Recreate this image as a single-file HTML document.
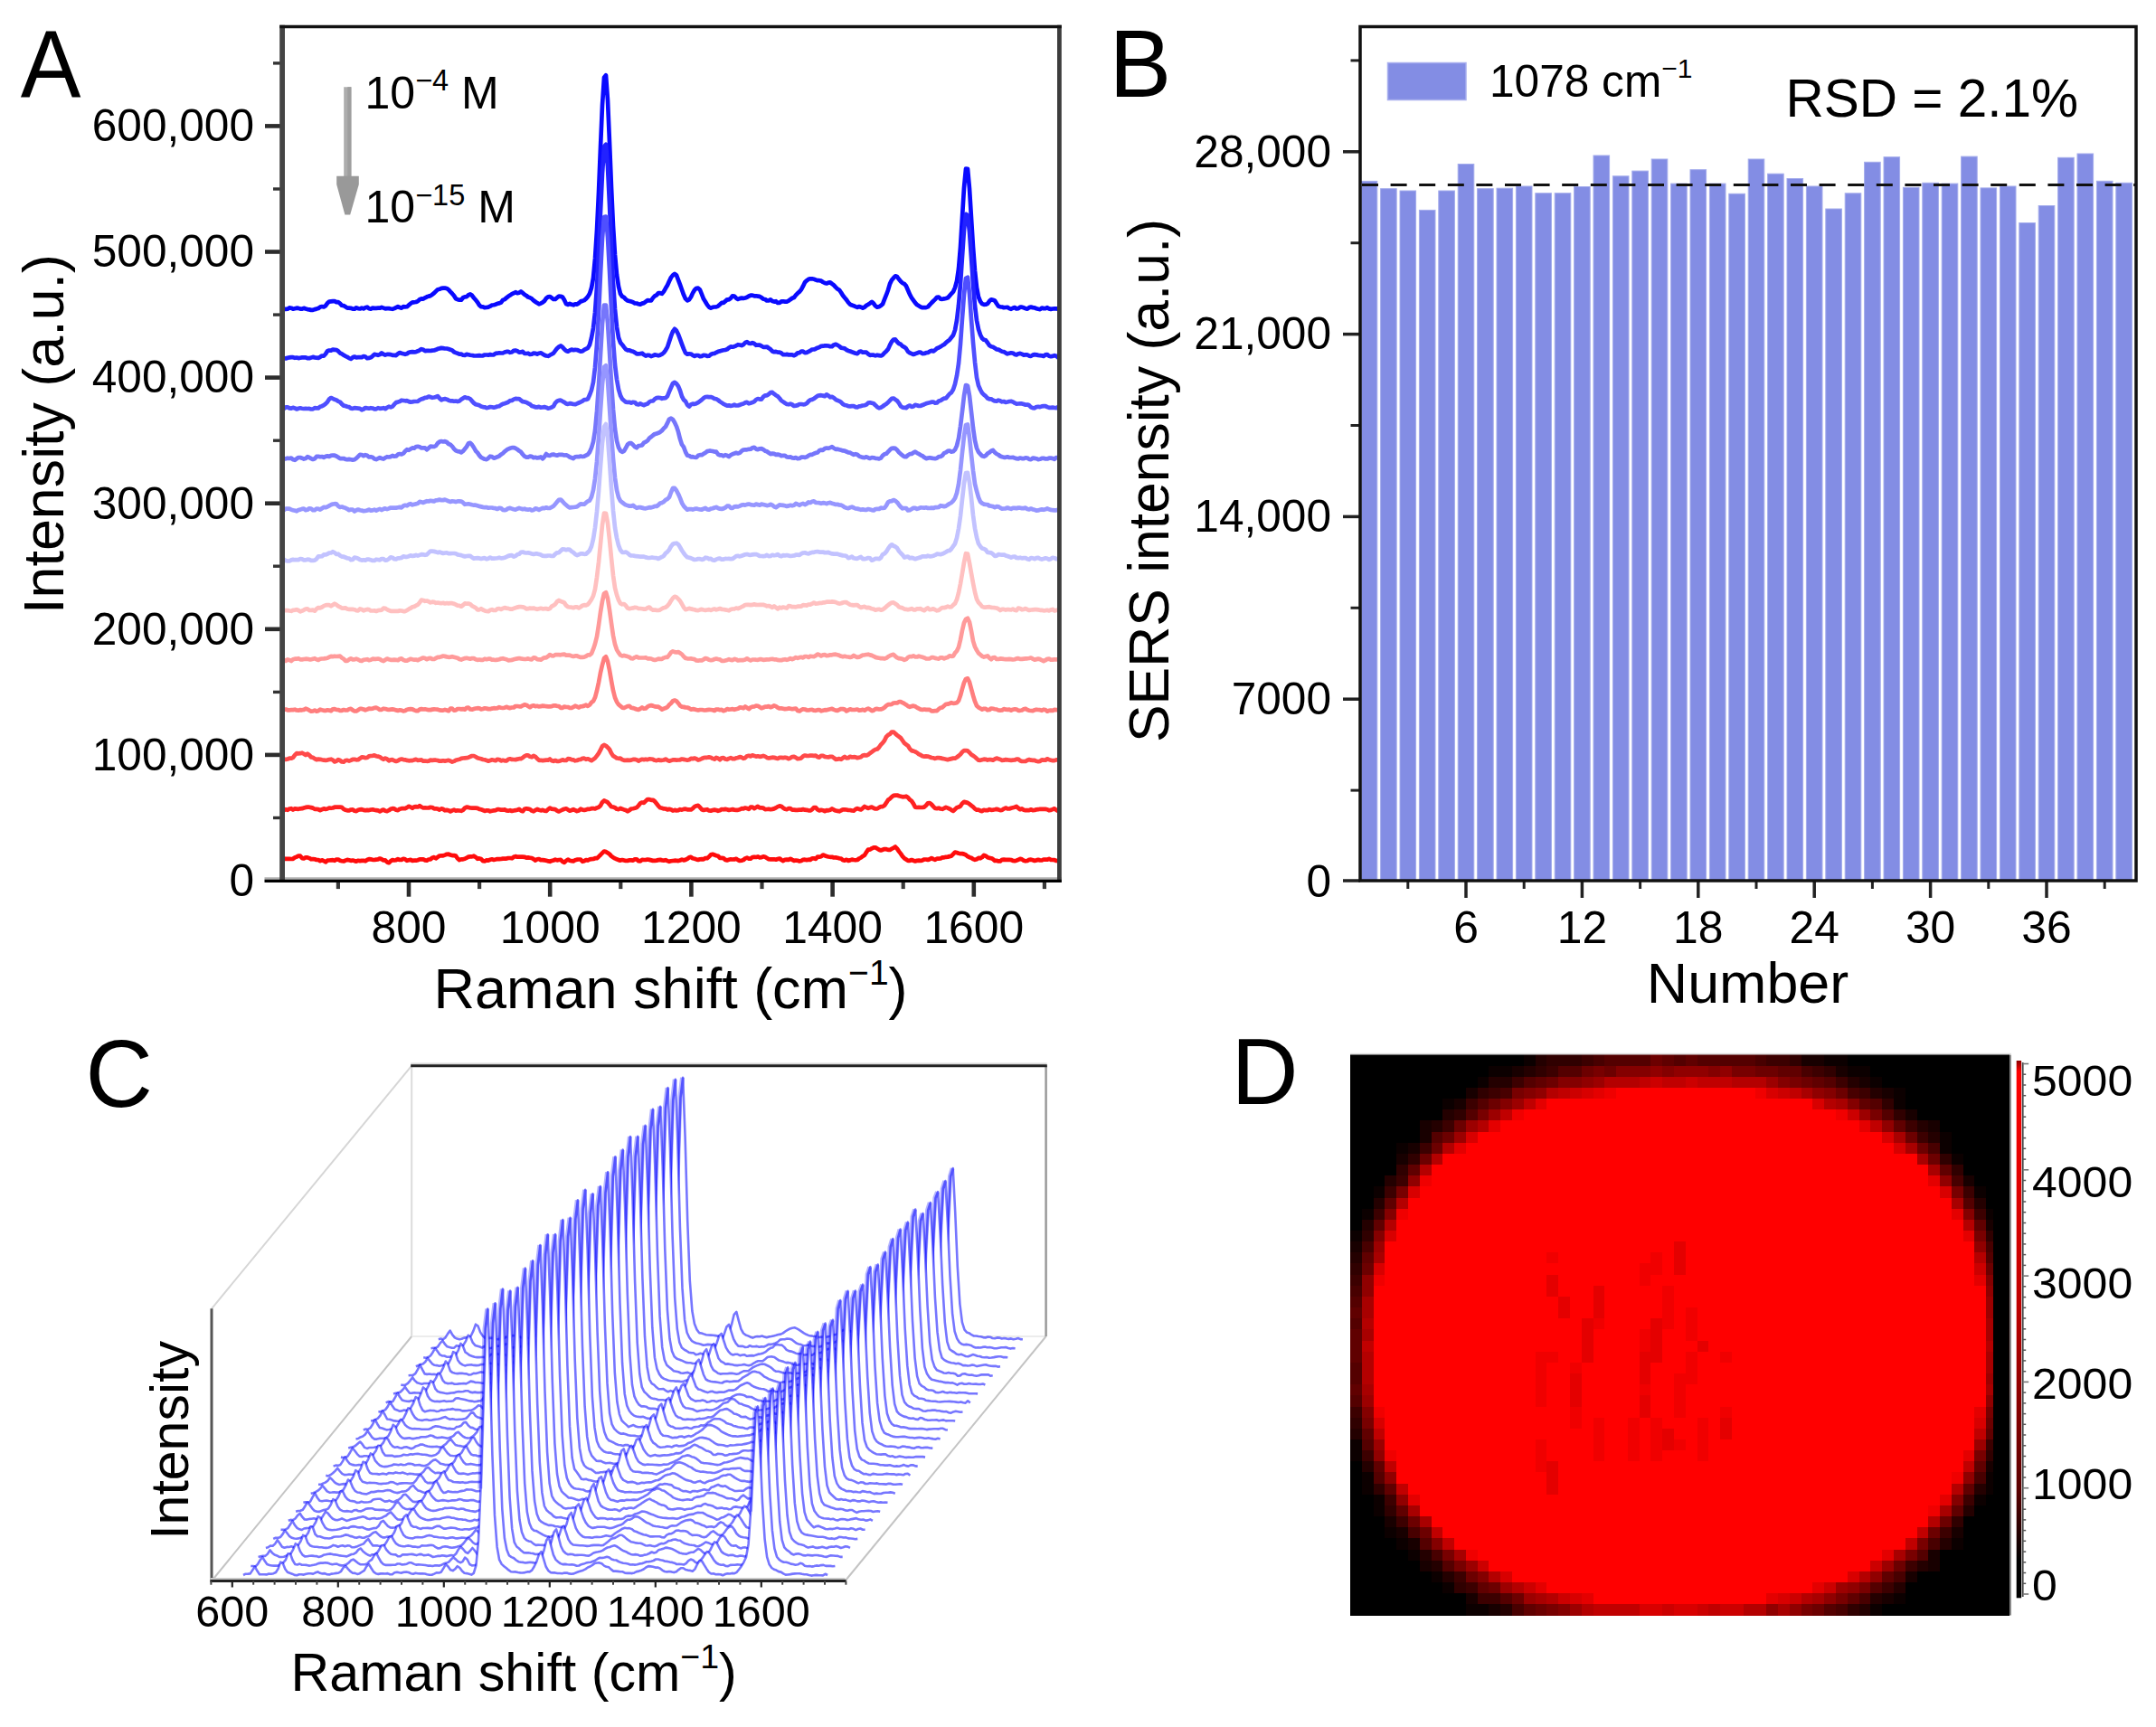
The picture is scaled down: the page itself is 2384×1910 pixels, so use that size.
<!DOCTYPE html>
<html lang="en"><head><meta charset="utf-8"><title>Figure</title>
<style>
html,body{margin:0;padding:0;background:#fff;}
svg{display:block;}
text{font-family:"Liberation Sans", Arial, Helvetica, sans-serif;fill:#000;}
</style></head><body>
<svg width="2384" height="1910" viewBox="0 0 2384 1910">
<rect x="0" y="0" width="2384" height="1910" fill="#fff"/>
<g id="panelA"><text transform="translate(22.8,107.0) scale(1,1.05)" font-size="100">A</text><text transform="translate(281.0,990.8) scale(1,1.0)" font-size="49.6" text-anchor="end">0</text><text transform="translate(281.0,851.7) scale(1,1.0)" font-size="49.6" text-anchor="end">100,000</text><line x1="293.0" y1="834.9" x2="312.0" y2="834.9" stroke="#2c2c2c" stroke-width="4.6" /><text transform="translate(281.0,712.6) scale(1,1.0)" font-size="49.6" text-anchor="end">200,000</text><line x1="293.0" y1="695.8" x2="312.0" y2="695.8" stroke="#2c2c2c" stroke-width="4.6" /><text transform="translate(281.0,573.5) scale(1,1.0)" font-size="49.6" text-anchor="end">300,000</text><line x1="293.0" y1="556.7" x2="312.0" y2="556.7" stroke="#2c2c2c" stroke-width="4.6" /><text transform="translate(281.0,434.4) scale(1,1.0)" font-size="49.6" text-anchor="end">400,000</text><line x1="293.0" y1="417.6" x2="312.0" y2="417.6" stroke="#2c2c2c" stroke-width="4.6" /><text transform="translate(281.0,295.3) scale(1,1.0)" font-size="49.6" text-anchor="end">500,000</text><line x1="293.0" y1="278.5" x2="312.0" y2="278.5" stroke="#2c2c2c" stroke-width="4.6" /><text transform="translate(281.0,156.2) scale(1,1.0)" font-size="49.6" text-anchor="end">600,000</text><line x1="293.0" y1="139.4" x2="312.0" y2="139.4" stroke="#2c2c2c" stroke-width="4.6" /><line x1="302.0" y1="904.5" x2="312.0" y2="904.5" stroke="#333" stroke-width="3.4" /><line x1="302.0" y1="765.4" x2="312.0" y2="765.4" stroke="#333" stroke-width="3.4" /><line x1="302.0" y1="626.2" x2="312.0" y2="626.2" stroke="#333" stroke-width="3.4" /><line x1="302.0" y1="487.2" x2="312.0" y2="487.2" stroke="#333" stroke-width="3.4" /><line x1="302.0" y1="348.1" x2="312.0" y2="348.1" stroke="#333" stroke-width="3.4" /><line x1="302.0" y1="209.0" x2="312.0" y2="209.0" stroke="#333" stroke-width="3.4" /><line x1="302.0" y1="69.9" x2="312.0" y2="69.9" stroke="#333" stroke-width="3.4" /><line x1="373.9" y1="974.5" x2="373.9" y2="983.1" stroke="#3a3a3a" stroke-width="4.2" /><line x1="452.0" y1="974.5" x2="452.0" y2="991.7" stroke="#2c2c2c" stroke-width="4.6" /><text transform="translate(452.0,1042.6) scale(1,1.0)" font-size="49.8" text-anchor="middle">800</text><line x1="530.1" y1="974.5" x2="530.1" y2="983.1" stroke="#3a3a3a" stroke-width="4.2" /><line x1="608.2" y1="974.5" x2="608.2" y2="991.7" stroke="#2c2c2c" stroke-width="4.6" /><text transform="translate(608.2,1042.6) scale(1,1.0)" font-size="49.8" text-anchor="middle">1000</text><line x1="686.3" y1="974.5" x2="686.3" y2="983.1" stroke="#3a3a3a" stroke-width="4.2" /><line x1="764.4" y1="974.5" x2="764.4" y2="991.7" stroke="#2c2c2c" stroke-width="4.6" /><text transform="translate(764.4,1042.6) scale(1,1.0)" font-size="49.8" text-anchor="middle">1200</text><line x1="842.5" y1="974.5" x2="842.5" y2="983.1" stroke="#3a3a3a" stroke-width="4.2" /><line x1="920.6" y1="974.5" x2="920.6" y2="991.7" stroke="#2c2c2c" stroke-width="4.6" /><text transform="translate(920.6,1042.6) scale(1,1.0)" font-size="49.8" text-anchor="middle">1400</text><line x1="998.7" y1="974.5" x2="998.7" y2="983.1" stroke="#3a3a3a" stroke-width="4.2" /><line x1="1076.8" y1="974.5" x2="1076.8" y2="991.7" stroke="#2c2c2c" stroke-width="4.6" /><text transform="translate(1076.8,1042.6) scale(1,1.0)" font-size="49.8" text-anchor="middle">1600</text><line x1="1154.9" y1="974.5" x2="1154.9" y2="983.1" stroke="#3a3a3a" stroke-width="4.2" /><text transform="translate(479.5,1115.0) scale(1,1.0)" font-size="63">Raman shift (cm<tspan dy="-26" font-size="39">−1</tspan><tspan dy="26">)</tspan></text><text transform="translate(69.8,480.0) rotate(-90) scale(1,1.0)" font-size="62.8" text-anchor="middle">Intensity (a.u.)</text><defs><linearGradient id="agr" x1="0" y1="0" x2="0" y2="1"><stop offset="0" stop-color="#b4b4b4"/><stop offset="1" stop-color="#8c8c8c"/></linearGradient></defs><path d="M380.2 96.2H388.4V196H380.2Z" fill="#adadad"/><path d="M384.3 96.2H388.4V196H384.3Z" fill="#9e9e9e"/><path d="M372.2 194.7H396.8V204L387.2 237.5H381.4L372.2 204Z" fill="#999"/><text transform="translate(403.5,119.7) scale(1,1.0)" font-size="50">10<tspan dy="-19.5" font-size="32.5">−4</tspan><tspan dy="19.5"> M</tspan></text><text transform="translate(403.5,246.0) scale(1,1.0)" font-size="50">10<tspan dy="-19.5" font-size="32.5">−15</tspan><tspan dy="19.5"> M</tspan></text><clipPath id="clipA"><rect x="312.0" y="29.5" width="859.5" height="944.0"/></clipPath><g clip-path="url(#clipA)" fill="none" stroke-width="4.7" stroke-linejoin="round" stroke-linecap="butt"><path d="M310.0 341.1L312.0 341.8L314.0 341.9L316.0 341.9L318.0 341.7L320.0 340.4L322.0 340.7L324.0 341.7L326.0 341.2L328.0 340.7L330.0 340.9L332.0 341.6L334.0 341.7L336.0 340.8L338.0 341.5L340.0 342.1L342.0 342.4L344.0 342.9L346.0 342.8L348.0 342.1L350.0 341.6L352.0 341.0L354.0 339.6L356.0 339.0L358.0 339.4L360.0 338.2L362.0 335.3L364.0 333.6L366.0 333.4L368.0 333.2L370.0 333.1L372.0 334.1L374.0 334.2L376.0 335.7L378.0 337.8L380.0 338.1L382.0 339.3L384.0 340.6L386.0 340.6L388.0 340.8L390.0 341.6L392.0 341.7L394.0 340.3L396.0 341.2L398.0 341.5L400.0 340.6L402.0 341.4L404.0 340.3L406.0 339.6L408.0 341.3L410.0 341.7L412.0 340.7L414.0 340.9L416.0 340.8L418.0 340.7L420.0 340.7L422.0 339.9L424.0 340.6L426.0 341.3L428.0 341.1L430.0 341.1L432.0 341.5L434.0 341.8L436.0 341.1L438.0 340.1L440.0 339.1L442.0 340.1L444.0 340.7L446.0 339.2L448.0 339.3L450.0 339.2L452.0 337.4L454.0 335.7L456.0 334.4L458.0 334.3L460.0 334.0L462.0 333.1L464.0 331.2L466.0 330.4L468.0 330.6L470.0 329.3L472.0 328.3L474.0 327.6L476.0 327.1L478.0 325.8L480.0 324.1L482.0 322.1L484.0 320.2L486.0 319.8L488.0 318.9L490.0 318.7L492.0 318.6L494.0 319.0L496.0 320.4L498.0 322.6L500.0 324.7L502.0 327.0L504.0 330.3L506.0 331.2L508.0 331.7L510.0 331.7L512.0 329.2L514.0 328.3L516.0 328.1L518.0 326.2L520.0 325.4L522.0 326.8L524.0 329.5L526.0 331.8L528.0 334.2L530.0 337.4L532.0 339.2L534.0 339.4L536.0 340.2L538.0 340.0L540.0 339.6L542.0 338.7L544.0 337.5L546.0 337.2L548.0 336.7L550.0 335.8L552.0 335.4L554.0 334.6L556.0 331.9L558.0 331.1L560.0 329.4L562.0 327.8L564.0 326.6L566.0 325.1L568.0 324.3L570.0 323.2L572.0 324.2L574.0 323.7L576.0 322.5L578.0 323.9L580.0 325.7L582.0 326.9L584.0 328.6L586.0 329.2L588.0 330.3L590.0 332.3L592.0 333.7L594.0 335.1L596.0 336.3L598.0 335.6L600.0 334.4L602.0 332.8L604.0 329.9L606.0 328.3L608.0 328.0L610.0 329.4L612.0 331.0L614.0 330.9L616.0 329.2L618.0 327.7L620.0 327.8L622.0 328.5L624.0 331.8L626.0 336.0L628.0 336.9L630.0 335.9L632.0 336.8L634.0 337.3L636.0 336.3L638.0 336.6L640.0 335.2L642.0 333.4L644.0 332.9L646.0 332.1L648.0 330.4L650.0 328.1L652.0 324.7L654.0 318.6L656.0 307.4L658.0 286.0L660.0 254.6L662.0 212.9L664.0 163.1L666.0 116.3L668.0 85.8L670.0 83.3L672.0 111.1L674.0 157.5L676.0 207.2L678.0 250.0L680.0 282.0L682.0 303.7L684.0 316.9L686.0 324.9L688.0 327.9L690.0 328.9L692.0 331.1L694.0 332.5L696.0 333.0L698.0 333.6L700.0 334.2L702.0 335.4L704.0 335.5L706.0 336.2L708.0 336.7L710.0 335.6L712.0 335.1L714.0 333.6L716.0 332.1L718.0 332.3L720.0 332.4L722.0 329.5L724.0 327.4L726.0 326.4L728.0 324.2L730.0 324.2L732.0 324.9L734.0 322.4L736.0 318.8L738.0 315.5L740.0 311.0L742.0 306.9L744.0 304.4L746.0 302.9L748.0 304.4L750.0 309.6L752.0 314.9L754.0 320.5L756.0 326.1L758.0 330.4L760.0 332.3L762.0 331.3L764.0 328.5L766.0 324.1L768.0 320.7L770.0 318.8L772.0 318.7L774.0 320.5L776.0 325.5L778.0 330.6L780.0 333.7L782.0 337.1L784.0 339.6L786.0 340.7L788.0 339.8L790.0 339.5L792.0 339.4L794.0 338.6L796.0 336.8L798.0 334.9L800.0 334.8L802.0 333.2L804.0 331.3L806.0 331.3L808.0 329.9L810.0 327.3L812.0 327.5L814.0 329.7L816.0 330.9L818.0 330.1L820.0 329.6L822.0 329.9L824.0 329.5L826.0 328.8L828.0 327.5L830.0 326.7L832.0 326.6L834.0 327.3L836.0 327.3L838.0 327.6L840.0 327.9L842.0 329.1L844.0 330.7L846.0 331.0L848.0 332.5L850.0 332.4L852.0 331.4L854.0 333.0L856.0 333.6L858.0 333.2L860.0 335.0L862.0 334.9L864.0 333.3L866.0 333.3L868.0 333.6L870.0 333.6L872.0 332.7L874.0 331.2L876.0 329.8L878.0 329.0L880.0 326.4L882.0 324.3L884.0 322.6L886.0 320.3L888.0 316.4L890.0 312.2L892.0 310.3L894.0 308.8L896.0 308.3L898.0 308.3L900.0 308.7L902.0 309.6L904.0 310.2L906.0 310.2L908.0 310.6L910.0 312.0L912.0 313.0L914.0 313.5L916.0 312.6L918.0 312.3L920.0 313.9L922.0 315.4L924.0 317.6L926.0 319.5L928.0 320.7L930.0 323.5L932.0 326.8L934.0 329.3L936.0 331.6L938.0 334.5L940.0 336.6L942.0 337.6L944.0 338.2L946.0 339.1L948.0 339.9L950.0 339.0L952.0 339.7L954.0 340.7L956.0 339.6L958.0 337.9L960.0 336.8L962.0 335.4L964.0 333.9L966.0 335.6L968.0 338.4L970.0 339.7L972.0 339.3L974.0 338.1L976.0 336.3L978.0 331.2L980.0 326.2L982.0 320.7L984.0 313.9L986.0 309.8L988.0 307.4L990.0 305.3L992.0 306.0L994.0 308.8L996.0 311.3L998.0 313.1L1000.0 313.9L1002.0 316.3L1004.0 321.0L1006.0 325.7L1008.0 329.3L1010.0 332.1L1012.0 334.9L1014.0 337.1L1016.0 338.3L1018.0 339.5L1020.0 340.2L1022.0 340.1L1024.0 340.1L1026.0 339.4L1028.0 337.2L1030.0 335.0L1032.0 333.0L1034.0 331.1L1036.0 328.8L1038.0 328.5L1040.0 330.7L1042.0 330.8L1044.0 330.4L1046.0 330.0L1048.0 329.3L1050.0 327.1L1052.0 324.8L1054.0 322.7L1056.0 318.1L1058.0 310.8L1060.0 297.2L1062.0 273.1L1064.0 240.5L1066.0 207.5L1068.0 186.7L1070.0 186.8L1072.0 208.6L1074.0 241.1L1076.0 273.1L1078.0 299.5L1080.0 318.0L1082.0 328.5L1084.0 333.4L1086.0 336.1L1088.0 336.8L1090.0 336.7L1092.0 335.9L1094.0 333.1L1096.0 331.3L1098.0 331.8L1100.0 332.5L1102.0 335.8L1104.0 338.8L1106.0 339.3L1108.0 339.5L1110.0 340.2L1112.0 340.0L1114.0 339.8L1116.0 341.1L1118.0 341.8L1120.0 340.7L1122.0 340.0L1124.0 341.5L1126.0 341.1L1128.0 339.7L1130.0 339.7L1132.0 340.3L1134.0 341.2L1136.0 341.6L1138.0 340.1L1140.0 339.6L1142.0 340.1L1144.0 340.4L1146.0 341.2L1148.0 341.8L1150.0 342.1L1152.0 340.6L1154.0 341.1L1156.0 341.1L1158.0 340.2L1160.0 341.4L1162.0 341.9L1164.0 341.5L1166.0 341.3L1168.0 341.4L1170.0 341.8L1172.0 341.7" stroke="#0a0aff"/><path d="M310.0 396.0L312.0 396.5L314.0 396.0L316.0 396.5L318.0 395.7L320.0 395.4L322.0 395.1L324.0 395.2L326.0 395.8L328.0 395.5L330.0 396.1L332.0 395.7L334.0 395.4L336.0 395.4L338.0 395.3L340.0 396.2L342.0 396.2L344.0 395.6L346.0 394.9L348.0 395.4L350.0 395.7L352.0 395.8L354.0 394.8L356.0 393.5L358.0 393.6L360.0 391.5L362.0 388.2L364.0 387.5L366.0 387.6L368.0 386.6L370.0 386.8L372.0 387.1L374.0 388.3L376.0 390.5L378.0 391.4L380.0 392.8L382.0 393.9L384.0 394.8L386.0 396.1L388.0 396.9L390.0 395.3L392.0 394.5L394.0 395.4L396.0 395.2L398.0 395.2L400.0 395.1L402.0 394.0L404.0 394.5L406.0 396.2L408.0 395.9L410.0 395.3L412.0 393.8L414.0 391.9L416.0 392.2L418.0 392.8L420.0 392.1L422.0 390.4L424.0 391.8L426.0 392.6L428.0 391.9L430.0 391.9L432.0 392.1L434.0 392.8L436.0 392.9L438.0 393.1L440.0 391.3L442.0 390.0L444.0 390.7L446.0 391.3L448.0 391.8L450.0 391.2L452.0 389.8L454.0 389.4L456.0 389.1L458.0 389.4L460.0 389.1L462.0 388.3L464.0 387.3L466.0 386.1L468.0 386.8L470.0 388.1L472.0 387.9L474.0 387.8L476.0 388.0L478.0 387.6L480.0 387.5L482.0 386.8L484.0 385.8L486.0 385.4L488.0 384.9L490.0 385.1L492.0 385.5L494.0 385.5L496.0 386.0L498.0 386.7L500.0 387.4L502.0 389.3L504.0 390.1L506.0 390.8L508.0 391.7L510.0 391.6L512.0 392.7L514.0 392.8L516.0 391.8L518.0 392.2L520.0 392.7L522.0 393.0L524.0 393.4L526.0 393.5L528.0 393.3L530.0 393.1L532.0 393.5L534.0 393.3L536.0 392.5L538.0 392.5L540.0 392.7L542.0 392.1L544.0 392.5L546.0 392.3L548.0 390.9L550.0 390.7L552.0 390.3L554.0 390.5L556.0 390.5L558.0 389.5L560.0 388.9L562.0 388.9L564.0 389.8L566.0 389.5L568.0 387.9L570.0 387.6L572.0 388.2L574.0 389.7L576.0 389.4L578.0 388.8L580.0 391.0L582.0 391.0L584.0 390.7L586.0 391.9L588.0 391.7L590.0 390.6L592.0 390.8L594.0 391.6L596.0 390.7L598.0 390.3L600.0 391.5L602.0 392.7L604.0 393.5L606.0 393.8L608.0 392.8L610.0 391.7L612.0 390.6L614.0 387.9L616.0 385.3L618.0 383.6L620.0 382.4L622.0 383.9L624.0 386.2L626.0 388.0L628.0 388.7L630.0 387.5L632.0 386.6L634.0 387.2L636.0 386.9L638.0 387.0L640.0 387.8L642.0 388.7L644.0 388.5L646.0 386.9L648.0 385.9L650.0 384.9L652.0 381.3L654.0 373.7L656.0 362.8L658.0 345.4L660.0 317.4L662.0 278.1L664.0 234.5L666.0 191.9L668.0 162.0L670.0 159.8L672.0 184.6L674.0 226.4L676.0 272.6L678.0 312.7L680.0 341.9L682.0 361.6L684.0 373.4L686.0 378.9L688.0 381.2L690.0 383.9L692.0 386.4L694.0 387.3L696.0 387.4L698.0 388.2L700.0 388.8L702.0 389.9L704.0 391.3L706.0 391.3L708.0 391.1L710.0 390.7L712.0 392.3L714.0 393.6L716.0 392.8L718.0 392.9L720.0 394.1L722.0 393.4L724.0 392.4L726.0 392.8L728.0 393.3L730.0 392.7L732.0 391.7L734.0 390.0L736.0 387.3L738.0 383.9L740.0 377.7L742.0 371.7L744.0 366.6L746.0 363.8L748.0 365.7L750.0 369.7L752.0 375.1L754.0 380.6L756.0 385.9L758.0 390.4L760.0 391.7L762.0 391.4L764.0 391.5L766.0 392.9L768.0 393.9L770.0 393.0L772.0 393.0L774.0 394.2L776.0 393.9L778.0 392.8L780.0 393.0L782.0 393.8L784.0 393.7L786.0 392.0L788.0 391.1L790.0 391.0L792.0 389.8L794.0 388.8L796.0 388.4L798.0 387.7L800.0 387.3L802.0 387.0L804.0 386.3L806.0 384.7L808.0 383.4L810.0 383.7L812.0 383.2L814.0 382.3L816.0 381.2L818.0 381.5L820.0 382.1L822.0 381.1L824.0 379.0L826.0 378.2L828.0 379.7L830.0 380.0L832.0 379.1L834.0 380.0L836.0 381.8L838.0 381.5L840.0 381.6L842.0 382.6L844.0 383.9L846.0 383.9L848.0 383.5L850.0 385.0L852.0 386.3L854.0 388.5L856.0 389.2L858.0 388.9L860.0 389.6L862.0 389.6L864.0 390.5L866.0 392.2L868.0 392.2L870.0 391.9L872.0 392.4L874.0 392.4L876.0 392.4L878.0 393.2L880.0 392.1L882.0 390.4L884.0 390.1L886.0 388.6L888.0 388.7L890.0 390.1L892.0 389.9L894.0 388.9L896.0 387.9L898.0 386.5L900.0 386.5L902.0 385.7L904.0 384.7L906.0 384.1L908.0 382.8L910.0 382.7L912.0 382.4L914.0 382.3L916.0 382.5L918.0 383.2L920.0 383.1L922.0 381.4L924.0 380.8L926.0 381.6L928.0 382.9L930.0 384.6L932.0 385.0L934.0 385.4L936.0 387.0L938.0 387.9L940.0 388.5L942.0 389.3L944.0 390.0L946.0 390.7L948.0 391.1L950.0 389.1L952.0 388.6L954.0 389.7L956.0 389.5L958.0 389.6L960.0 391.5L962.0 392.9L964.0 392.5L966.0 392.7L968.0 393.4L970.0 392.7L972.0 393.1L974.0 393.5L976.0 392.6L978.0 390.2L980.0 388.4L982.0 386.1L984.0 381.6L986.0 377.8L988.0 375.6L990.0 375.4L992.0 378.0L994.0 380.0L996.0 380.8L998.0 382.8L1000.0 383.8L1002.0 385.6L1004.0 388.9L1006.0 390.3L1008.0 391.1L1010.0 392.0L1012.0 391.2L1014.0 390.6L1016.0 389.7L1018.0 389.7L1020.0 391.1L1022.0 391.0L1024.0 390.2L1026.0 390.0L1028.0 388.7L1030.0 387.8L1032.0 388.5L1034.0 387.1L1036.0 385.2L1038.0 384.5L1040.0 383.4L1042.0 382.1L1044.0 380.9L1046.0 379.1L1048.0 377.3L1050.0 375.8L1052.0 373.3L1054.0 370.7L1056.0 365.0L1058.0 354.2L1060.0 337.4L1062.0 314.1L1064.0 283.9L1066.0 254.1L1068.0 236.9L1070.0 238.0L1072.0 256.4L1074.0 284.5L1076.0 314.2L1078.0 337.9L1080.0 354.4L1082.0 364.3L1084.0 370.3L1086.0 374.2L1088.0 375.8L1090.0 376.3L1092.0 379.0L1094.0 382.1L1096.0 383.3L1098.0 383.7L1100.0 384.9L1102.0 386.5L1104.0 386.7L1106.0 387.7L1108.0 388.8L1110.0 389.1L1112.0 390.3L1114.0 391.3L1116.0 390.8L1118.0 390.3L1120.0 390.5L1122.0 391.9L1124.0 392.4L1126.0 391.2L1128.0 390.9L1130.0 391.6L1132.0 392.6L1134.0 392.4L1136.0 392.4L1138.0 393.6L1140.0 393.9L1142.0 392.6L1144.0 392.1L1146.0 392.4L1148.0 392.9L1150.0 393.2L1152.0 393.3L1154.0 394.0L1156.0 392.4L1158.0 392.0L1160.0 393.7L1162.0 394.2L1164.0 393.9L1166.0 393.2L1168.0 393.7L1170.0 395.4L1172.0 395.3" stroke="#2222ff"/><path d="M310.0 451.3L312.0 452.1L314.0 452.0L316.0 450.3L318.0 450.3L320.0 451.4L322.0 451.7L324.0 450.8L326.0 451.4L328.0 452.5L330.0 451.7L332.0 451.3L334.0 451.7L336.0 452.0L338.0 451.9L340.0 452.0L342.0 451.9L344.0 452.5L346.0 452.4L348.0 451.1L350.0 451.3L352.0 451.4L354.0 449.7L356.0 449.2L358.0 448.2L360.0 446.7L362.0 444.6L364.0 441.4L366.0 440.0L368.0 440.9L370.0 441.8L372.0 442.4L374.0 443.9L376.0 444.6L378.0 446.9L380.0 448.6L382.0 449.0L384.0 449.7L386.0 450.1L388.0 451.7L390.0 451.8L392.0 451.2L394.0 451.4L396.0 451.6L398.0 451.9L400.0 453.3L402.0 452.5L404.0 451.0L406.0 451.4L408.0 451.7L410.0 451.2L412.0 451.5L414.0 452.4L416.0 452.3L418.0 451.2L420.0 451.8L422.0 451.7L424.0 451.2L426.0 452.2L428.0 450.8L430.0 449.7L432.0 450.4L434.0 449.6L436.0 447.2L438.0 445.1L440.0 444.6L442.0 444.0L444.0 442.7L446.0 443.0L448.0 443.3L450.0 443.2L452.0 444.1L454.0 444.6L456.0 444.4L458.0 444.0L460.0 444.0L462.0 443.8L464.0 442.3L466.0 441.4L468.0 440.9L470.0 439.9L472.0 439.6L474.0 438.6L476.0 439.1L478.0 439.8L480.0 439.5L482.0 439.0L484.0 438.1L486.0 440.5L488.0 442.4L490.0 441.5L492.0 441.1L494.0 441.7L496.0 442.7L498.0 443.4L500.0 443.4L502.0 443.8L504.0 443.5L506.0 444.1L508.0 443.5L510.0 441.8L512.0 440.5L514.0 439.3L516.0 440.1L518.0 440.2L520.0 441.3L522.0 443.6L524.0 445.8L526.0 447.2L528.0 447.6L530.0 448.3L532.0 449.5L534.0 450.1L536.0 450.3L538.0 451.1L540.0 450.7L542.0 450.0L544.0 450.3L546.0 450.7L548.0 450.2L550.0 449.5L552.0 449.2L554.0 447.9L556.0 446.8L558.0 446.2L560.0 445.5L562.0 444.7L564.0 443.2L566.0 443.0L568.0 441.6L570.0 440.9L572.0 441.1L574.0 441.0L576.0 442.8L578.0 444.2L580.0 444.4L582.0 445.0L584.0 446.1L586.0 447.1L588.0 448.9L590.0 449.5L592.0 450.3L594.0 450.4L596.0 449.9L598.0 450.7L600.0 450.5L602.0 450.1L604.0 450.7L606.0 451.7L608.0 451.2L610.0 450.6L612.0 449.3L614.0 445.6L616.0 443.7L618.0 442.8L620.0 442.7L622.0 443.8L624.0 444.8L626.0 446.4L628.0 446.9L630.0 446.2L632.0 446.4L634.0 447.0L636.0 447.2L638.0 446.4L640.0 445.5L642.0 444.6L644.0 443.7L646.0 442.2L648.0 442.0L650.0 441.3L652.0 436.8L654.0 431.5L656.0 422.8L658.0 406.3L660.0 381.1L662.0 346.0L664.0 303.0L666.0 263.5L668.0 240.1L670.0 239.6L672.0 262.3L674.0 299.2L676.0 340.6L678.0 377.3L680.0 403.1L682.0 419.6L684.0 430.6L686.0 437.4L688.0 441.3L690.0 443.0L692.0 444.6L694.0 444.8L696.0 444.8L698.0 445.6L700.0 444.8L702.0 445.0L704.0 447.0L706.0 447.5L708.0 446.4L710.0 447.3L712.0 448.2L714.0 447.2L716.0 446.6L718.0 444.5L720.0 443.5L722.0 443.5L724.0 441.2L726.0 440.1L728.0 439.8L730.0 440.0L732.0 440.8L734.0 440.3L736.0 440.2L738.0 438.1L740.0 433.2L742.0 428.5L744.0 424.0L746.0 422.8L748.0 424.4L750.0 427.2L752.0 432.0L754.0 438.4L756.0 442.2L758.0 443.8L760.0 447.7L762.0 449.6L764.0 447.4L766.0 446.6L768.0 446.9L770.0 446.2L772.0 445.2L774.0 443.7L776.0 442.1L778.0 440.2L780.0 439.0L782.0 438.9L784.0 439.1L786.0 439.1L788.0 439.7L790.0 440.9L792.0 441.2L794.0 442.4L796.0 444.1L798.0 445.4L800.0 446.7L802.0 447.8L804.0 448.6L806.0 448.4L808.0 448.9L810.0 448.5L812.0 447.7L814.0 448.5L816.0 448.4L818.0 447.9L820.0 447.0L822.0 446.5L824.0 445.4L826.0 444.9L828.0 446.3L830.0 445.7L832.0 445.1L834.0 444.2L836.0 442.0L838.0 441.0L840.0 441.6L842.0 441.6L844.0 438.9L846.0 437.3L848.0 437.3L850.0 436.0L852.0 434.1L854.0 433.9L856.0 435.7L858.0 437.2L860.0 438.3L862.0 440.5L864.0 443.1L866.0 444.4L868.0 445.8L870.0 447.0L872.0 447.3L874.0 446.6L876.0 447.5L878.0 449.0L880.0 448.6L882.0 448.1L884.0 447.0L886.0 447.0L888.0 447.3L890.0 447.1L892.0 446.2L894.0 443.9L896.0 442.2L898.0 441.9L900.0 440.9L902.0 439.3L904.0 437.8L906.0 437.4L908.0 437.2L910.0 437.6L912.0 438.1L914.0 436.4L916.0 437.5L918.0 439.3L920.0 438.9L922.0 440.0L924.0 441.8L926.0 442.8L928.0 443.6L930.0 444.8L932.0 446.9L934.0 448.0L936.0 448.3L938.0 449.2L940.0 449.3L942.0 449.1L944.0 449.1L946.0 450.1L948.0 450.3L950.0 449.4L952.0 449.1L954.0 448.5L956.0 448.2L958.0 447.6L960.0 445.6L962.0 445.3L964.0 445.8L966.0 446.3L968.0 448.2L970.0 450.2L972.0 451.3L974.0 450.7L976.0 449.5L978.0 448.0L980.0 446.8L982.0 445.0L984.0 442.9L986.0 440.8L988.0 440.5L990.0 441.9L992.0 443.3L994.0 445.9L996.0 449.3L998.0 450.6L1000.0 450.8L1002.0 451.1L1004.0 449.4L1006.0 448.5L1008.0 449.9L1010.0 449.5L1012.0 447.8L1014.0 448.2L1016.0 449.0L1018.0 448.8L1020.0 448.0L1022.0 447.2L1024.0 446.3L1026.0 445.7L1028.0 445.3L1030.0 444.7L1032.0 444.5L1034.0 445.6L1036.0 445.4L1038.0 443.6L1040.0 443.0L1042.0 441.7L1044.0 440.7L1046.0 440.5L1048.0 438.1L1050.0 435.6L1052.0 434.1L1054.0 430.7L1056.0 424.7L1058.0 415.6L1060.0 402.2L1062.0 380.6L1064.0 352.2L1066.0 325.6L1068.0 307.8L1070.0 306.7L1072.0 324.7L1074.0 352.8L1076.0 378.7L1078.0 400.4L1080.0 417.4L1082.0 426.4L1084.0 431.0L1086.0 434.7L1088.0 436.7L1090.0 438.2L1092.0 440.5L1094.0 441.3L1096.0 441.3L1098.0 442.6L1100.0 443.5L1102.0 443.7L1104.0 442.7L1106.0 443.3L1108.0 444.3L1110.0 444.0L1112.0 444.9L1114.0 444.5L1116.0 444.0L1118.0 443.8L1120.0 444.4L1122.0 445.7L1124.0 446.6L1126.0 446.5L1128.0 446.4L1130.0 446.4L1132.0 447.0L1134.0 447.7L1136.0 447.5L1138.0 448.3L1140.0 450.3L1142.0 451.2L1144.0 451.4L1146.0 450.0L1148.0 449.8L1150.0 450.1L1152.0 449.4L1154.0 449.2L1156.0 449.1L1158.0 450.1L1160.0 450.8L1162.0 450.8L1164.0 450.6L1166.0 451.0L1168.0 451.2L1170.0 450.0L1172.0 451.0" stroke="#4f4fff"/><path d="M310.0 506.6L312.0 506.6L314.0 507.4L316.0 507.3L318.0 506.7L320.0 507.0L322.0 506.5L324.0 508.3L326.0 508.8L328.0 507.3L330.0 506.0L332.0 506.0L334.0 506.7L336.0 507.6L338.0 507.0L340.0 505.2L342.0 506.0L344.0 507.1L346.0 508.0L348.0 507.3L350.0 504.9L352.0 504.8L354.0 505.3L356.0 505.0L358.0 505.8L360.0 504.8L362.0 504.4L364.0 504.9L366.0 503.9L368.0 503.5L370.0 503.7L372.0 504.5L374.0 505.7L376.0 507.1L378.0 507.1L380.0 507.0L382.0 507.9L384.0 508.3L386.0 507.9L388.0 508.2L390.0 508.6L392.0 508.2L394.0 506.9L396.0 504.9L398.0 502.9L400.0 503.0L402.0 504.2L404.0 503.2L406.0 503.8L408.0 505.5L410.0 505.2L412.0 505.7L414.0 507.5L416.0 508.1L418.0 507.2L420.0 506.2L422.0 507.0L424.0 507.6L426.0 506.3L428.0 505.2L430.0 505.5L432.0 505.1L434.0 503.9L436.0 504.7L438.0 504.5L440.0 502.6L442.0 502.0L444.0 502.5L446.0 501.5L448.0 499.0L450.0 497.2L452.0 497.9L454.0 496.6L456.0 495.4L458.0 495.7L460.0 494.0L462.0 493.8L464.0 494.3L466.0 495.5L468.0 495.4L470.0 495.4L472.0 497.4L474.0 495.5L476.0 493.7L478.0 493.8L480.0 494.0L482.0 493.0L484.0 490.2L486.0 488.6L488.0 488.0L490.0 488.5L492.0 488.1L494.0 489.0L496.0 491.0L498.0 491.7L500.0 493.6L502.0 496.3L504.0 498.3L506.0 499.1L508.0 499.4L510.0 500.4L512.0 498.9L514.0 496.5L516.0 494.0L518.0 490.4L520.0 489.9L522.0 491.9L524.0 495.0L526.0 498.7L528.0 500.6L530.0 503.6L532.0 505.9L534.0 506.8L536.0 507.8L538.0 508.1L540.0 506.7L542.0 504.7L544.0 505.1L546.0 506.6L548.0 506.1L550.0 505.3L552.0 504.3L554.0 502.7L556.0 501.4L558.0 499.3L560.0 497.8L562.0 496.6L564.0 495.8L566.0 495.1L568.0 495.0L570.0 495.7L572.0 496.9L574.0 498.6L576.0 499.8L578.0 502.5L580.0 504.7L582.0 505.6L584.0 505.6L586.0 504.7L588.0 504.9L590.0 506.2L592.0 505.8L594.0 506.4L596.0 506.2L598.0 505.4L600.0 507.4L602.0 505.1L604.0 502.1L606.0 503.6L608.0 503.8L610.0 502.9L612.0 502.6L614.0 503.2L616.0 503.7L618.0 502.9L620.0 502.8L622.0 502.9L624.0 503.5L626.0 503.3L628.0 504.1L630.0 505.5L632.0 506.3L634.0 507.1L636.0 505.3L638.0 505.0L640.0 505.2L642.0 504.5L644.0 505.0L646.0 504.7L648.0 503.7L650.0 502.7L652.0 500.0L654.0 495.4L656.0 488.6L658.0 476.2L660.0 455.0L662.0 426.0L664.0 392.0L666.0 358.4L668.0 337.5L670.0 337.7L672.0 357.3L674.0 389.0L676.0 423.2L678.0 452.7L680.0 474.1L682.0 487.7L684.0 494.9L686.0 498.5L688.0 499.8L690.0 498.9L692.0 495.3L694.0 491.6L696.0 490.0L698.0 490.1L700.0 492.0L702.0 494.2L704.0 495.3L706.0 493.0L708.0 492.8L710.0 492.4L712.0 489.6L714.0 488.7L716.0 487.4L718.0 484.7L720.0 483.1L722.0 481.5L724.0 480.0L726.0 479.6L728.0 478.8L730.0 477.8L732.0 476.1L734.0 473.8L736.0 471.9L738.0 467.9L740.0 463.6L742.0 462.7L744.0 464.0L746.0 467.2L748.0 471.6L750.0 477.6L752.0 485.6L754.0 491.7L756.0 494.4L758.0 499.8L760.0 503.6L762.0 504.0L764.0 505.4L766.0 505.2L768.0 505.7L770.0 506.0L772.0 503.8L774.0 503.2L776.0 503.2L778.0 501.9L780.0 500.8L782.0 499.1L784.0 498.7L786.0 498.7L788.0 499.0L790.0 499.6L792.0 499.7L794.0 502.5L796.0 503.4L798.0 503.4L800.0 504.3L802.0 503.2L804.0 503.7L806.0 505.1L808.0 503.3L810.0 502.2L812.0 501.6L814.0 500.8L816.0 501.4L818.0 500.8L820.0 498.8L822.0 497.5L824.0 497.4L826.0 497.3L828.0 496.8L830.0 496.7L832.0 495.3L834.0 494.8L836.0 496.6L838.0 497.1L840.0 496.3L842.0 496.2L844.0 497.2L846.0 498.7L848.0 499.3L850.0 500.7L852.0 502.2L854.0 501.6L856.0 501.9L858.0 502.9L860.0 502.6L862.0 503.0L864.0 504.2L866.0 503.8L868.0 503.8L870.0 505.5L872.0 505.7L874.0 505.4L876.0 506.4L878.0 506.6L880.0 506.1L882.0 507.2L884.0 507.0L886.0 505.7L888.0 505.5L890.0 505.9L892.0 505.3L894.0 503.8L896.0 502.9L898.0 502.8L900.0 501.7L902.0 500.9L904.0 500.5L906.0 498.2L908.0 497.6L910.0 497.8L912.0 496.1L914.0 495.5L916.0 495.8L918.0 495.1L920.0 494.2L922.0 495.6L924.0 496.9L926.0 496.6L928.0 497.3L930.0 497.8L932.0 498.4L934.0 498.6L936.0 499.5L938.0 500.4L940.0 500.6L942.0 501.9L944.0 502.8L946.0 502.2L948.0 502.8L950.0 504.6L952.0 505.3L954.0 505.9L956.0 506.1L958.0 505.3L960.0 506.2L962.0 507.0L964.0 506.0L966.0 506.3L968.0 506.8L970.0 507.0L972.0 507.4L974.0 506.6L976.0 503.9L978.0 502.3L980.0 501.8L982.0 499.7L984.0 497.6L986.0 495.8L988.0 495.6L990.0 495.9L992.0 497.8L994.0 500.3L996.0 502.1L998.0 503.7L1000.0 505.1L1002.0 505.1L1004.0 503.4L1006.0 502.1L1008.0 502.0L1010.0 500.6L1012.0 499.6L1014.0 500.9L1016.0 502.1L1018.0 503.3L1020.0 504.2L1022.0 505.8L1024.0 507.1L1026.0 506.6L1028.0 506.2L1030.0 506.6L1032.0 507.0L1034.0 507.1L1036.0 506.7L1038.0 505.2L1040.0 505.0L1042.0 503.7L1044.0 501.1L1046.0 500.4L1048.0 498.9L1050.0 498.5L1052.0 499.6L1054.0 499.3L1056.0 497.4L1058.0 492.9L1060.0 484.8L1062.0 471.3L1064.0 455.1L1066.0 437.7L1068.0 426.0L1070.0 426.8L1072.0 437.6L1074.0 455.3L1076.0 473.2L1078.0 487.0L1080.0 495.6L1082.0 500.0L1084.0 502.3L1086.0 504.2L1088.0 504.9L1090.0 503.9L1092.0 501.6L1094.0 500.4L1096.0 498.7L1098.0 497.9L1100.0 500.4L1102.0 502.0L1104.0 503.0L1106.0 504.5L1108.0 505.3L1110.0 505.8L1112.0 505.8L1114.0 505.3L1116.0 506.0L1118.0 506.0L1120.0 505.8L1122.0 506.6L1124.0 507.2L1126.0 507.4L1128.0 506.5L1130.0 507.1L1132.0 507.2L1134.0 506.3L1136.0 506.5L1138.0 507.9L1140.0 508.1L1142.0 506.6L1144.0 506.9L1146.0 507.2L1148.0 508.1L1150.0 507.8L1152.0 506.9L1154.0 506.8L1156.0 507.4L1158.0 507.5L1160.0 506.7L1162.0 506.6L1164.0 507.0L1166.0 507.8L1168.0 506.0L1170.0 506.1L1172.0 507.8" stroke="#7676fb"/><path d="M310.0 563.2L312.0 565.1L314.0 564.1L316.0 562.5L318.0 562.7L320.0 562.7L322.0 563.6L324.0 564.3L326.0 564.6L328.0 565.3L330.0 564.0L332.0 563.6L334.0 562.9L336.0 562.5L338.0 564.1L340.0 563.7L342.0 562.3L344.0 562.5L346.0 564.1L348.0 564.1L350.0 562.5L352.0 562.8L354.0 563.6L356.0 562.2L358.0 560.9L360.0 561.2L362.0 560.5L364.0 559.4L366.0 558.3L368.0 557.5L370.0 557.2L372.0 557.4L374.0 559.7L376.0 560.9L378.0 560.5L380.0 561.3L382.0 561.8L384.0 562.8L386.0 564.2L388.0 563.6L390.0 563.7L392.0 565.5L394.0 564.3L396.0 563.5L398.0 564.3L400.0 564.6L402.0 565.2L404.0 565.0L406.0 564.5L408.0 563.6L410.0 564.6L412.0 564.4L414.0 563.7L416.0 564.6L418.0 563.6L420.0 562.9L422.0 564.1L424.0 562.9L426.0 562.4L428.0 563.1L430.0 562.4L432.0 561.5L434.0 561.7L436.0 561.7L438.0 561.6L440.0 561.2L442.0 560.9L444.0 561.4L446.0 559.5L448.0 558.8L450.0 559.3L452.0 557.8L454.0 557.2L456.0 558.4L458.0 557.7L460.0 557.4L462.0 556.7L464.0 554.9L466.0 555.3L468.0 555.9L470.0 555.0L472.0 554.2L474.0 554.5L476.0 553.8L478.0 554.1L480.0 554.4L482.0 553.3L484.0 553.1L486.0 552.6L488.0 553.2L490.0 553.1L492.0 552.6L494.0 553.4L496.0 554.3L498.0 554.9L500.0 554.3L502.0 554.5L504.0 555.1L506.0 554.4L508.0 554.4L510.0 554.6L512.0 555.8L514.0 557.8L516.0 557.5L518.0 557.3L520.0 557.7L522.0 558.3L524.0 558.7L526.0 558.7L528.0 559.3L530.0 559.9L532.0 560.4L534.0 560.9L536.0 561.2L538.0 561.1L540.0 561.7L542.0 561.5L544.0 561.5L546.0 562.0L548.0 562.2L550.0 563.0L552.0 561.9L554.0 562.0L556.0 563.9L558.0 564.2L560.0 563.7L562.0 562.2L564.0 561.9L566.0 562.6L568.0 563.3L570.0 563.6L572.0 562.7L574.0 561.9L576.0 562.6L578.0 563.2L580.0 562.7L582.0 563.5L584.0 563.7L586.0 563.3L588.0 564.5L590.0 564.0L592.0 562.4L594.0 562.9L596.0 563.9L598.0 562.8L600.0 561.9L602.0 562.1L604.0 561.3L606.0 562.0L608.0 561.9L610.0 560.9L612.0 559.8L614.0 557.5L616.0 555.1L618.0 552.8L620.0 552.5L622.0 554.5L624.0 556.8L626.0 558.5L628.0 560.2L630.0 561.4L632.0 561.1L634.0 561.0L636.0 560.7L638.0 560.4L640.0 558.9L642.0 557.3L644.0 557.6L646.0 557.7L648.0 555.9L650.0 554.4L652.0 553.5L654.0 549.6L656.0 542.2L658.0 529.3L660.0 510.3L662.0 483.8L664.0 453.6L666.0 425.1L668.0 406.1L670.0 404.3L672.0 421.2L674.0 450.8L676.0 481.0L678.0 507.2L680.0 528.3L682.0 542.2L684.0 550.0L686.0 554.0L688.0 555.6L690.0 557.2L692.0 558.4L694.0 559.1L696.0 559.7L698.0 559.7L700.0 558.9L702.0 560.6L704.0 561.8L706.0 561.2L708.0 561.1L710.0 561.6L712.0 562.1L714.0 562.3L716.0 561.8L718.0 561.1L720.0 561.3L722.0 560.7L724.0 559.9L726.0 560.0L728.0 558.5L730.0 556.5L732.0 556.1L734.0 554.9L736.0 552.9L738.0 551.9L740.0 549.8L742.0 544.5L744.0 539.9L746.0 539.8L748.0 542.5L750.0 546.3L752.0 550.9L754.0 556.2L756.0 559.6L758.0 561.8L760.0 563.7L762.0 563.1L764.0 563.0L766.0 563.6L768.0 562.9L770.0 562.5L772.0 563.0L774.0 563.4L776.0 563.7L778.0 562.7L780.0 561.9L782.0 563.4L784.0 563.7L786.0 562.6L788.0 562.3L790.0 561.5L792.0 560.9L794.0 562.0L796.0 562.7L798.0 562.9L800.0 562.4L802.0 561.4L804.0 559.7L806.0 559.5L808.0 561.8L810.0 561.8L812.0 560.3L814.0 560.2L816.0 560.4L818.0 559.6L820.0 558.6L822.0 558.2L824.0 558.6L826.0 557.9L828.0 557.5L830.0 558.1L832.0 558.5L834.0 558.7L836.0 557.6L838.0 558.1L840.0 558.7L842.0 557.6L844.0 558.0L846.0 558.5L848.0 559.1L850.0 558.8L852.0 557.8L854.0 558.6L856.0 560.3L858.0 561.2L860.0 559.8L862.0 558.3L864.0 558.7L866.0 558.9L868.0 559.3L870.0 559.9L872.0 559.4L874.0 558.8L876.0 559.3L878.0 558.8L880.0 556.9L882.0 557.7L884.0 558.8L886.0 557.6L888.0 556.9L890.0 558.1L892.0 557.1L894.0 555.4L896.0 556.0L898.0 554.8L900.0 554.3L902.0 555.9L904.0 556.0L906.0 556.2L908.0 556.8L910.0 556.2L912.0 556.4L914.0 557.1L916.0 556.2L918.0 555.9L920.0 556.7L922.0 557.3L924.0 557.9L926.0 557.8L928.0 558.5L930.0 558.7L932.0 559.6L934.0 561.1L936.0 561.7L938.0 562.1L940.0 561.3L942.0 560.6L944.0 561.5L946.0 562.5L948.0 562.6L950.0 563.1L952.0 563.8L954.0 563.4L956.0 563.8L958.0 563.9L960.0 563.0L962.0 563.5L964.0 564.1L966.0 564.5L968.0 563.0L970.0 562.9L972.0 563.0L974.0 561.6L976.0 562.0L978.0 561.7L980.0 559.1L982.0 555.3L984.0 554.3L986.0 554.1L988.0 553.0L990.0 553.9L992.0 555.5L994.0 558.2L996.0 560.7L998.0 562.3L1000.0 562.0L1002.0 562.0L1004.0 564.5L1006.0 564.1L1008.0 563.0L1010.0 561.8L1012.0 561.8L1014.0 562.8L1016.0 562.2L1018.0 561.3L1020.0 561.5L1022.0 561.7L1024.0 561.3L1026.0 561.9L1028.0 562.0L1030.0 561.6L1032.0 562.0L1034.0 561.1L1036.0 561.1L1038.0 560.9L1040.0 559.2L1042.0 559.6L1044.0 560.1L1046.0 559.6L1048.0 558.3L1050.0 557.0L1052.0 556.0L1054.0 553.9L1056.0 551.0L1058.0 545.2L1060.0 535.5L1062.0 520.1L1064.0 500.5L1066.0 482.6L1068.0 470.0L1070.0 469.5L1072.0 483.8L1074.0 502.7L1076.0 520.6L1078.0 535.1L1080.0 543.2L1082.0 550.2L1084.0 554.9L1086.0 556.6L1088.0 557.6L1090.0 557.9L1092.0 558.0L1094.0 559.5L1096.0 559.7L1098.0 560.1L1100.0 561.1L1102.0 560.2L1104.0 560.3L1106.0 561.6L1108.0 562.6L1110.0 562.5L1112.0 562.3L1114.0 561.5L1116.0 562.3L1118.0 562.8L1120.0 561.9L1122.0 561.9L1124.0 562.1L1126.0 561.6L1128.0 561.7L1130.0 562.1L1132.0 562.1L1134.0 561.6L1136.0 563.0L1138.0 563.4L1140.0 562.5L1142.0 563.4L1144.0 563.8L1146.0 564.7L1148.0 564.4L1150.0 563.8L1152.0 563.4L1154.0 563.8L1156.0 563.3L1158.0 562.4L1160.0 563.3L1162.0 563.9L1164.0 564.2L1166.0 564.4L1168.0 564.3L1170.0 563.7L1172.0 563.5" stroke="#9696ff"/><path d="M310.0 617.7L312.0 617.5L314.0 618.7L316.0 619.9L318.0 620.5L320.0 620.5L322.0 619.4L324.0 618.9L326.0 619.2L328.0 619.1L330.0 619.1L332.0 618.0L334.0 618.4L336.0 619.4L338.0 619.4L340.0 618.7L342.0 618.8L344.0 619.8L346.0 619.8L348.0 619.6L350.0 618.2L352.0 615.3L354.0 615.3L356.0 615.2L358.0 613.4L360.0 613.5L362.0 612.8L364.0 611.5L366.0 611.4L368.0 610.2L370.0 611.3L372.0 613.0L374.0 612.7L376.0 614.4L378.0 615.6L380.0 615.7L382.0 616.5L384.0 617.4L386.0 617.5L388.0 619.1L390.0 618.9L392.0 616.6L394.0 617.0L396.0 617.7L398.0 619.0L400.0 619.6L402.0 619.3L404.0 619.6L406.0 618.6L408.0 618.7L410.0 619.3L412.0 619.9L414.0 619.9L416.0 618.7L418.0 619.0L420.0 619.4L422.0 618.0L424.0 618.2L426.0 619.7L428.0 619.4L430.0 618.1L432.0 616.4L434.0 616.8L436.0 618.2L438.0 618.4L440.0 617.3L442.0 617.3L444.0 616.9L446.0 615.3L448.0 615.8L450.0 615.9L452.0 615.2L454.0 614.3L456.0 614.9L458.0 614.7L460.0 613.9L462.0 614.6L464.0 613.9L466.0 613.2L468.0 613.4L470.0 613.8L472.0 613.4L474.0 611.4L476.0 609.5L478.0 609.7L480.0 609.9L482.0 610.4L484.0 611.1L486.0 610.6L488.0 611.2L490.0 612.0L492.0 611.5L494.0 611.3L496.0 612.2L498.0 612.1L500.0 612.0L502.0 612.0L504.0 612.3L506.0 613.4L508.0 613.7L510.0 614.1L512.0 614.9L514.0 615.4L516.0 615.0L518.0 614.8L520.0 614.9L522.0 616.5L524.0 617.7L526.0 617.3L528.0 617.2L530.0 617.4L532.0 618.0L534.0 617.4L536.0 617.2L538.0 618.3L540.0 617.7L542.0 616.5L544.0 617.6L546.0 617.6L548.0 617.5L550.0 617.2L552.0 616.7L554.0 617.4L556.0 617.1L558.0 616.7L560.0 615.9L562.0 614.9L564.0 614.4L566.0 614.2L568.0 615.7L570.0 614.8L572.0 613.3L574.0 612.8L576.0 610.8L578.0 610.5L580.0 611.2L582.0 611.5L584.0 611.4L586.0 611.8L588.0 612.4L590.0 613.0L592.0 612.4L594.0 612.4L596.0 613.0L598.0 613.6L600.0 614.6L602.0 614.9L604.0 614.9L606.0 614.5L608.0 614.5L610.0 615.0L612.0 614.9L614.0 612.7L616.0 611.3L618.0 611.2L620.0 609.1L622.0 607.4L624.0 607.5L626.0 608.2L628.0 607.6L630.0 607.9L632.0 609.8L634.0 611.0L636.0 612.9L638.0 614.1L640.0 613.3L642.0 612.4L644.0 612.4L646.0 612.8L648.0 612.6L650.0 610.9L652.0 608.8L654.0 604.3L656.0 596.1L658.0 583.5L660.0 565.8L662.0 543.2L664.0 515.6L666.0 489.9L668.0 472.0L670.0 469.1L672.0 484.3L674.0 510.5L676.0 539.5L678.0 564.8L680.0 583.5L682.0 595.0L684.0 603.2L686.0 608.3L688.0 610.8L690.0 611.0L692.0 610.5L694.0 611.7L696.0 613.7L698.0 614.5L700.0 614.5L702.0 614.9L704.0 615.2L706.0 615.3L708.0 615.7L710.0 615.7L712.0 615.6L714.0 616.4L716.0 616.8L718.0 617.0L720.0 616.7L722.0 616.7L724.0 617.0L726.0 617.1L728.0 618.0L730.0 616.9L732.0 615.9L734.0 614.7L736.0 611.8L738.0 610.3L740.0 607.9L742.0 604.2L744.0 601.8L746.0 601.0L748.0 600.7L750.0 602.1L752.0 605.3L754.0 608.7L756.0 611.8L758.0 614.4L760.0 616.3L762.0 616.7L764.0 617.3L766.0 618.2L768.0 619.0L770.0 618.7L772.0 618.0L774.0 618.2L776.0 618.9L778.0 618.4L780.0 616.7L782.0 617.1L784.0 618.3L786.0 617.9L788.0 619.5L790.0 619.7L792.0 618.6L794.0 617.9L796.0 617.6L798.0 618.7L800.0 618.6L802.0 617.9L804.0 618.0L806.0 617.9L808.0 618.2L810.0 618.0L812.0 616.6L814.0 615.1L816.0 614.8L818.0 615.4L820.0 614.7L822.0 614.0L824.0 613.3L826.0 613.0L828.0 613.6L830.0 613.8L832.0 613.4L834.0 613.2L836.0 613.1L838.0 613.7L840.0 615.0L842.0 615.0L844.0 615.1L846.0 614.9L848.0 613.9L850.0 615.1L852.0 615.0L854.0 613.8L856.0 614.3L858.0 614.0L860.0 613.1L862.0 614.7L864.0 615.2L866.0 614.2L868.0 614.4L870.0 614.0L872.0 614.4L874.0 615.0L876.0 614.7L878.0 614.5L880.0 613.7L882.0 613.7L884.0 613.9L886.0 612.4L888.0 611.5L890.0 611.3L892.0 612.0L894.0 612.4L896.0 611.5L898.0 610.9L900.0 610.8L902.0 610.3L904.0 610.0L906.0 610.6L908.0 610.7L910.0 610.6L912.0 611.1L914.0 611.1L916.0 610.9L918.0 611.8L920.0 612.4L922.0 612.6L924.0 612.5L926.0 612.7L928.0 613.4L930.0 613.9L932.0 614.4L934.0 614.5L936.0 615.0L938.0 617.1L940.0 616.7L942.0 615.7L944.0 617.3L946.0 617.7L948.0 617.8L950.0 616.7L952.0 616.0L954.0 618.2L956.0 618.2L958.0 617.7L960.0 617.0L962.0 617.4L964.0 619.7L966.0 619.0L968.0 617.8L970.0 617.8L972.0 618.2L974.0 616.8L976.0 613.2L978.0 612.4L980.0 610.2L982.0 606.9L984.0 604.1L986.0 602.3L988.0 603.7L990.0 604.5L992.0 606.1L994.0 609.5L996.0 611.8L998.0 613.7L1000.0 616.5L1002.0 615.9L1004.0 615.6L1006.0 617.3L1008.0 616.9L1010.0 617.4L1012.0 618.2L1014.0 617.5L1016.0 616.9L1018.0 616.4L1020.0 615.3L1022.0 615.4L1024.0 615.5L1026.0 614.7L1028.0 615.3L1030.0 615.1L1032.0 614.7L1034.0 613.9L1036.0 612.7L1038.0 612.8L1040.0 613.2L1042.0 612.6L1044.0 611.6L1046.0 610.5L1048.0 609.2L1050.0 609.0L1052.0 607.0L1054.0 604.1L1056.0 601.3L1058.0 594.9L1060.0 584.6L1062.0 570.6L1064.0 552.2L1066.0 534.5L1068.0 523.1L1070.0 522.9L1072.0 533.6L1074.0 550.6L1076.0 569.8L1078.0 584.4L1080.0 594.4L1082.0 601.3L1084.0 604.3L1086.0 606.5L1088.0 607.0L1090.0 608.1L1092.0 611.0L1094.0 611.2L1096.0 611.4L1098.0 612.9L1100.0 614.9L1102.0 614.6L1104.0 613.0L1106.0 613.5L1108.0 613.7L1110.0 613.5L1112.0 614.4L1114.0 615.0L1116.0 615.7L1118.0 616.6L1120.0 615.8L1122.0 615.5L1124.0 617.0L1126.0 617.2L1128.0 616.7L1130.0 617.4L1132.0 617.2L1134.0 617.1L1136.0 618.3L1138.0 618.8L1140.0 617.0L1142.0 617.3L1144.0 618.2L1146.0 617.1L1148.0 616.9L1150.0 618.0L1152.0 618.6L1154.0 617.9L1156.0 617.3L1158.0 617.8L1160.0 618.9L1162.0 618.0L1164.0 616.8L1166.0 617.2L1168.0 618.2L1170.0 618.2L1172.0 617.8" stroke="#c2c2ff"/><path d="M310.0 675.7L312.0 675.5L314.0 674.8L316.0 675.2L318.0 675.0L320.0 675.5L322.0 675.8L324.0 674.8L326.0 674.6L328.0 674.2L330.0 675.0L332.0 676.4L334.0 675.6L336.0 674.6L338.0 673.5L340.0 673.4L342.0 675.0L344.0 674.8L346.0 674.7L348.0 675.7L350.0 673.4L352.0 672.0L354.0 672.4L356.0 671.5L358.0 670.1L360.0 669.4L362.0 669.0L364.0 669.2L366.0 670.3L368.0 669.0L370.0 667.7L372.0 668.8L374.0 670.3L376.0 671.3L378.0 672.6L380.0 672.6L382.0 672.4L384.0 673.5L386.0 673.9L388.0 673.9L390.0 673.9L392.0 674.2L394.0 675.1L396.0 675.3L398.0 673.4L400.0 674.0L402.0 675.3L404.0 674.5L406.0 673.9L408.0 674.1L410.0 675.5L412.0 675.5L414.0 675.3L416.0 676.0L418.0 675.1L420.0 674.8L422.0 674.6L424.0 672.7L426.0 672.8L428.0 674.1L430.0 675.0L432.0 675.8L434.0 675.9L436.0 675.8L438.0 675.8L440.0 675.9L442.0 675.4L444.0 675.5L446.0 676.1L448.0 676.1L450.0 674.9L452.0 673.7L454.0 672.7L456.0 671.3L458.0 670.9L460.0 669.7L462.0 668.8L464.0 666.4L466.0 663.6L468.0 664.0L470.0 664.8L472.0 664.5L474.0 665.2L476.0 666.4L478.0 665.7L480.0 665.8L482.0 666.8L484.0 666.5L486.0 666.9L488.0 667.2L490.0 666.8L492.0 667.5L494.0 667.0L496.0 667.4L498.0 667.0L500.0 667.2L502.0 667.8L504.0 668.6L506.0 669.7L508.0 669.9L510.0 670.7L512.0 669.3L514.0 667.4L516.0 667.7L518.0 667.6L520.0 668.2L522.0 670.2L524.0 671.1L526.0 672.2L528.0 674.3L530.0 674.3L532.0 673.2L534.0 674.5L536.0 675.4L538.0 676.0L540.0 676.2L542.0 674.8L544.0 674.2L546.0 675.0L548.0 675.0L550.0 673.3L552.0 673.0L554.0 674.0L556.0 672.9L558.0 672.1L560.0 672.6L562.0 672.9L564.0 673.6L566.0 673.7L568.0 672.9L570.0 672.2L572.0 671.6L574.0 671.1L576.0 671.1L578.0 671.3L580.0 672.0L582.0 673.3L584.0 673.2L586.0 672.6L588.0 672.8L590.0 672.6L592.0 673.2L594.0 673.8L596.0 673.3L598.0 672.8L600.0 673.3L602.0 673.2L604.0 673.0L606.0 673.7L608.0 673.1L610.0 670.6L612.0 669.6L614.0 668.2L616.0 665.3L618.0 664.0L620.0 665.1L622.0 665.7L624.0 666.7L626.0 669.6L628.0 671.2L630.0 671.5L632.0 671.7L634.0 672.2L636.0 671.4L638.0 671.4L640.0 672.4L642.0 671.2L644.0 669.8L646.0 669.1L648.0 669.4L650.0 668.5L652.0 666.1L654.0 663.0L656.0 659.0L658.0 651.6L660.0 638.3L662.0 621.8L664.0 601.5L666.0 580.6L668.0 567.7L670.0 567.9L672.0 578.7L674.0 596.8L676.0 617.3L678.0 636.3L680.0 650.2L682.0 658.0L684.0 663.6L686.0 667.4L688.0 668.3L690.0 668.0L692.0 669.8L694.0 672.6L696.0 673.2L698.0 672.8L700.0 672.4L702.0 671.8L704.0 672.0L706.0 673.0L708.0 673.0L710.0 673.3L712.0 673.6L714.0 673.6L716.0 672.2L718.0 671.5L720.0 673.5L722.0 674.6L724.0 674.5L726.0 674.9L728.0 675.0L730.0 674.4L732.0 673.1L734.0 672.2L736.0 671.7L738.0 670.1L740.0 667.7L742.0 664.3L744.0 661.5L746.0 659.8L748.0 660.5L750.0 662.4L752.0 664.6L754.0 668.0L756.0 671.7L758.0 674.1L760.0 673.7L762.0 672.8L764.0 673.4L766.0 673.9L768.0 674.3L770.0 675.0L772.0 675.1L774.0 674.4L776.0 673.9L778.0 674.5L780.0 674.9L782.0 674.5L784.0 674.1L786.0 674.9L788.0 674.1L790.0 673.5L792.0 674.4L794.0 673.7L796.0 673.0L798.0 673.8L800.0 674.0L802.0 674.4L804.0 674.8L806.0 675.3L808.0 674.0L810.0 673.5L812.0 673.5L814.0 672.5L816.0 673.1L818.0 672.3L820.0 671.2L822.0 670.3L824.0 669.0L826.0 668.8L828.0 668.9L830.0 669.1L832.0 668.9L834.0 668.3L836.0 668.9L838.0 669.0L840.0 668.8L842.0 668.8L844.0 668.8L846.0 669.4L848.0 670.3L850.0 670.0L852.0 670.8L854.0 671.9L856.0 670.5L858.0 671.9L860.0 673.4L862.0 671.7L864.0 672.4L866.0 671.5L868.0 672.0L870.0 672.6L872.0 670.2L874.0 670.4L876.0 671.2L878.0 671.2L880.0 671.3L882.0 670.7L884.0 670.5L886.0 670.7L888.0 669.2L890.0 669.3L892.0 669.6L894.0 668.5L896.0 668.7L898.0 667.7L900.0 666.5L902.0 667.6L904.0 667.5L906.0 666.9L908.0 667.0L910.0 666.4L912.0 666.3L914.0 665.7L916.0 665.7L918.0 665.7L920.0 665.4L922.0 665.6L924.0 666.0L926.0 667.0L928.0 667.6L930.0 667.3L932.0 666.5L934.0 666.0L936.0 666.2L938.0 667.6L940.0 668.8L942.0 669.1L944.0 669.4L946.0 669.2L948.0 669.1L950.0 670.8L952.0 672.0L954.0 671.2L956.0 670.9L958.0 672.1L960.0 671.9L962.0 672.3L964.0 673.3L966.0 673.6L968.0 674.7L970.0 674.1L972.0 673.8L974.0 674.6L976.0 674.1L978.0 672.7L980.0 670.9L982.0 669.2L984.0 667.8L986.0 666.5L988.0 666.4L990.0 667.7L992.0 669.0L994.0 671.3L996.0 671.9L998.0 672.4L1000.0 673.6L1002.0 673.9L1004.0 674.3L1006.0 673.9L1008.0 673.1L1010.0 674.3L1012.0 674.3L1014.0 673.3L1016.0 673.3L1018.0 673.2L1020.0 674.4L1022.0 675.2L1024.0 673.4L1026.0 672.5L1028.0 674.2L1030.0 674.0L1032.0 673.3L1034.0 674.4L1036.0 675.3L1038.0 674.9L1040.0 673.3L1042.0 672.1L1044.0 672.1L1046.0 671.6L1048.0 670.7L1050.0 671.4L1052.0 671.1L1054.0 669.1L1056.0 667.4L1058.0 663.1L1060.0 655.7L1062.0 645.6L1064.0 634.1L1066.0 622.0L1068.0 612.2L1070.0 612.6L1072.0 622.6L1074.0 634.0L1076.0 645.0L1078.0 654.9L1080.0 662.6L1082.0 666.3L1084.0 668.4L1086.0 670.9L1088.0 671.6L1090.0 671.6L1092.0 671.3L1094.0 671.2L1096.0 671.9L1098.0 672.0L1100.0 672.2L1102.0 672.5L1104.0 673.4L1106.0 675.0L1108.0 673.9L1110.0 673.9L1112.0 674.6L1114.0 674.0L1116.0 674.2L1118.0 674.5L1120.0 673.5L1122.0 674.7L1124.0 675.1L1126.0 672.5L1128.0 673.0L1130.0 674.3L1132.0 673.9L1134.0 673.0L1136.0 674.1L1138.0 675.0L1140.0 674.5L1142.0 674.3L1144.0 674.1L1146.0 674.1L1148.0 674.4L1150.0 674.8L1152.0 674.9L1154.0 675.3L1156.0 675.1L1158.0 674.8L1160.0 675.4L1162.0 674.5L1164.0 673.9L1166.0 675.5L1168.0 674.9L1170.0 674.5L1172.0 674.9" stroke="#ffc0c0"/><path d="M310.0 730.0L312.0 728.5L314.0 729.8L316.0 730.9L318.0 729.4L320.0 730.0L322.0 731.0L324.0 729.2L326.0 728.7L328.0 728.7L330.0 728.2L332.0 729.3L334.0 729.4L336.0 729.0L338.0 728.7L340.0 728.8L342.0 729.3L344.0 729.4L346.0 728.7L348.0 728.2L350.0 729.3L352.0 729.9L354.0 728.8L356.0 728.5L358.0 728.4L360.0 728.2L362.0 727.8L364.0 726.7L366.0 725.9L368.0 726.1L370.0 725.7L372.0 726.0L374.0 725.8L376.0 725.6L378.0 727.5L380.0 728.7L382.0 730.8L384.0 730.9L386.0 729.4L388.0 728.3L390.0 729.3L392.0 729.3L394.0 728.7L396.0 729.4L398.0 730.6L400.0 731.0L402.0 729.8L404.0 729.5L406.0 729.2L408.0 730.2L410.0 729.8L412.0 728.7L414.0 728.9L416.0 728.8L418.0 728.5L420.0 729.0L422.0 730.4L424.0 731.1L426.0 729.7L428.0 728.5L430.0 729.2L432.0 729.8L434.0 729.9L436.0 729.6L438.0 729.8L440.0 730.2L442.0 728.8L444.0 728.3L446.0 729.8L448.0 730.7L450.0 730.7L452.0 729.6L454.0 728.8L456.0 729.3L458.0 729.6L460.0 729.6L462.0 730.2L464.0 729.2L466.0 728.3L468.0 727.5L470.0 728.0L472.0 729.2L474.0 728.1L476.0 727.9L478.0 728.9L480.0 729.0L482.0 727.9L484.0 726.9L486.0 726.8L488.0 726.3L490.0 725.5L492.0 725.9L494.0 726.4L496.0 726.8L498.0 726.6L500.0 726.2L502.0 726.7L504.0 727.2L506.0 727.7L508.0 729.0L510.0 729.6L512.0 728.7L514.0 728.1L516.0 727.8L518.0 728.2L520.0 728.7L522.0 728.1L524.0 728.1L526.0 729.2L528.0 729.9L530.0 729.5L532.0 729.9L534.0 729.8L536.0 728.7L538.0 729.2L540.0 728.7L542.0 728.6L544.0 729.7L546.0 729.7L548.0 730.0L550.0 729.6L552.0 729.2L554.0 728.5L556.0 728.2L558.0 728.8L560.0 729.2L562.0 730.3L564.0 730.2L566.0 729.9L568.0 729.3L570.0 728.8L572.0 728.4L574.0 728.0L576.0 728.4L578.0 728.7L580.0 729.0L582.0 728.8L584.0 728.4L586.0 729.1L588.0 729.3L590.0 727.4L592.0 727.6L594.0 729.1L596.0 729.3L598.0 729.7L600.0 728.4L602.0 727.3L604.0 727.3L606.0 725.9L608.0 724.1L610.0 725.1L612.0 725.4L614.0 724.1L616.0 724.2L618.0 724.1L620.0 724.3L622.0 723.8L624.0 723.7L626.0 724.7L628.0 724.7L630.0 724.7L632.0 725.4L634.0 726.0L636.0 725.4L638.0 725.3L640.0 726.3L642.0 726.9L644.0 726.8L646.0 726.6L648.0 725.8L650.0 724.4L652.0 724.5L654.0 722.8L656.0 717.9L658.0 712.0L660.0 704.0L662.0 691.3L664.0 677.0L666.0 665.0L668.0 656.4L670.0 655.2L672.0 662.0L674.0 674.5L676.0 689.1L678.0 702.9L680.0 712.6L682.0 718.6L684.0 721.9L686.0 724.5L688.0 725.5L690.0 724.9L692.0 725.5L694.0 726.1L696.0 726.8L698.0 728.2L700.0 728.3L702.0 727.1L704.0 726.3L706.0 727.4L708.0 727.5L710.0 727.5L712.0 727.5L714.0 727.2L716.0 728.3L718.0 728.3L720.0 728.5L722.0 729.5L724.0 730.0L726.0 729.4L728.0 728.6L730.0 728.8L732.0 728.8L734.0 727.6L736.0 726.9L738.0 726.9L740.0 724.4L742.0 721.5L744.0 720.4L746.0 721.1L748.0 721.5L750.0 721.1L752.0 722.3L754.0 723.6L756.0 726.1L758.0 727.9L760.0 728.3L762.0 728.5L764.0 728.4L766.0 728.7L768.0 729.1L770.0 730.5L772.0 730.7L774.0 730.3L776.0 730.3L778.0 729.3L780.0 728.0L782.0 728.5L784.0 729.8L786.0 730.1L788.0 729.9L790.0 729.0L792.0 728.5L794.0 729.0L796.0 729.4L798.0 730.8L800.0 731.0L802.0 730.5L804.0 729.9L806.0 729.2L808.0 729.9L810.0 730.1L812.0 728.9L814.0 729.2L816.0 730.5L818.0 730.1L820.0 730.0L822.0 730.1L824.0 729.5L826.0 728.3L828.0 729.5L830.0 730.5L832.0 729.5L834.0 729.5L836.0 729.7L838.0 729.8L840.0 729.2L842.0 729.2L844.0 729.8L846.0 729.6L848.0 729.4L850.0 729.5L852.0 729.0L854.0 728.9L856.0 729.3L858.0 729.3L860.0 729.9L862.0 730.2L864.0 730.2L866.0 729.5L868.0 729.2L870.0 729.8L872.0 729.2L874.0 728.2L876.0 729.1L878.0 728.3L880.0 727.1L882.0 727.9L884.0 727.1L886.0 726.8L888.0 727.4L890.0 726.0L892.0 726.0L894.0 727.0L896.0 725.7L898.0 726.0L900.0 726.2L902.0 725.2L904.0 723.6L906.0 724.2L908.0 725.4L910.0 724.4L912.0 724.2L914.0 725.2L916.0 725.0L918.0 724.3L920.0 724.3L922.0 723.8L924.0 723.7L926.0 724.2L928.0 724.8L930.0 725.8L932.0 726.3L934.0 725.8L936.0 726.2L938.0 726.5L940.0 727.0L942.0 726.4L944.0 725.0L946.0 726.1L948.0 727.0L950.0 726.6L952.0 725.6L954.0 724.5L956.0 724.3L958.0 724.0L960.0 723.7L962.0 724.4L964.0 724.9L966.0 725.8L968.0 726.9L970.0 727.4L972.0 727.7L974.0 728.1L976.0 728.2L978.0 728.4L980.0 727.8L982.0 726.3L984.0 725.2L986.0 724.3L988.0 723.9L990.0 725.8L992.0 727.4L994.0 728.2L996.0 728.4L998.0 728.8L1000.0 729.8L1002.0 729.1L1004.0 727.0L1006.0 726.0L1008.0 726.2L1010.0 725.4L1012.0 726.3L1014.0 726.5L1016.0 725.7L1018.0 726.3L1020.0 726.8L1022.0 727.4L1024.0 728.3L1026.0 728.5L1028.0 728.4L1030.0 727.1L1032.0 727.1L1034.0 727.9L1036.0 728.3L1038.0 728.6L1040.0 727.3L1042.0 727.3L1044.0 728.3L1046.0 727.5L1048.0 726.9L1050.0 725.3L1052.0 725.8L1054.0 725.7L1056.0 722.2L1058.0 720.0L1060.0 715.7L1062.0 707.5L1064.0 697.2L1066.0 688.9L1068.0 684.9L1070.0 683.8L1072.0 688.0L1074.0 697.7L1076.0 708.9L1078.0 715.2L1080.0 719.1L1082.0 722.4L1084.0 724.0L1086.0 725.8L1088.0 726.6L1090.0 726.0L1092.0 725.4L1094.0 727.6L1096.0 729.2L1098.0 727.3L1100.0 727.1L1102.0 729.0L1104.0 729.0L1106.0 728.4L1108.0 728.6L1110.0 728.9L1112.0 729.1L1114.0 729.1L1116.0 728.9L1118.0 729.1L1120.0 729.5L1122.0 729.2L1124.0 728.4L1126.0 728.1L1128.0 728.9L1130.0 728.9L1132.0 728.6L1134.0 728.4L1136.0 728.3L1138.0 728.0L1140.0 727.5L1142.0 728.6L1144.0 729.6L1146.0 729.1L1148.0 728.6L1150.0 729.1L1152.0 730.2L1154.0 731.2L1156.0 730.2L1158.0 728.8L1160.0 728.6L1162.0 729.7L1164.0 729.6L1166.0 729.2L1168.0 729.5L1170.0 729.0L1172.0 729.7" stroke="#ff9a9a"/><path d="M310.0 785.9L312.0 784.9L314.0 784.6L316.0 784.5L318.0 785.3L320.0 785.3L322.0 785.2L324.0 785.1L326.0 784.7L328.0 785.5L330.0 785.7L332.0 785.1L334.0 785.3L336.0 784.9L338.0 783.7L340.0 784.4L342.0 785.6L344.0 786.6L346.0 786.5L348.0 785.5L350.0 786.6L352.0 786.2L354.0 784.7L356.0 785.3L358.0 785.8L360.0 785.9L362.0 785.3L364.0 785.6L366.0 786.2L368.0 784.3L370.0 784.1L372.0 784.9L374.0 785.0L376.0 785.9L378.0 785.8L380.0 785.0L382.0 785.5L384.0 785.5L386.0 784.3L388.0 783.9L390.0 785.4L392.0 786.5L394.0 786.4L396.0 785.2L398.0 783.9L400.0 783.9L402.0 784.5L404.0 785.3L406.0 784.6L408.0 783.6L410.0 783.9L412.0 783.7L414.0 782.8L416.0 782.7L418.0 783.6L420.0 785.0L422.0 784.8L424.0 783.7L426.0 784.0L428.0 784.6L430.0 785.0L432.0 784.6L434.0 784.4L436.0 784.8L438.0 785.4L440.0 785.9L442.0 785.3L444.0 785.6L446.0 786.4L448.0 786.0L450.0 784.7L452.0 784.4L454.0 784.2L456.0 784.4L458.0 785.4L460.0 786.1L462.0 786.2L464.0 784.6L466.0 784.1L468.0 784.5L470.0 784.3L472.0 784.7L474.0 785.2L476.0 785.1L478.0 784.6L480.0 784.4L482.0 784.5L484.0 784.7L486.0 785.4L488.0 785.6L490.0 785.6L492.0 784.9L494.0 785.5L496.0 786.2L498.0 783.7L500.0 783.7L502.0 785.6L504.0 785.4L506.0 784.0L508.0 784.0L510.0 784.4L512.0 784.1L514.0 784.6L516.0 782.9L518.0 782.6L520.0 784.5L522.0 784.7L524.0 784.1L526.0 783.5L528.0 783.2L530.0 783.3L532.0 784.4L534.0 784.0L536.0 783.3L538.0 783.6L540.0 784.1L542.0 784.2L544.0 783.6L546.0 783.2L548.0 783.4L550.0 783.2L552.0 782.2L554.0 782.7L556.0 783.0L558.0 782.7L560.0 781.8L562.0 782.6L564.0 783.1L566.0 782.5L568.0 782.5L570.0 781.0L572.0 781.0L574.0 781.3L576.0 781.4L578.0 780.3L580.0 779.3L582.0 779.7L584.0 781.0L586.0 782.2L588.0 780.8L590.0 780.3L592.0 781.1L594.0 780.8L596.0 781.4L598.0 781.2L600.0 780.6L602.0 780.8L604.0 781.2L606.0 781.3L608.0 781.4L610.0 781.2L612.0 780.3L614.0 780.4L616.0 780.8L618.0 781.0L620.0 782.9L622.0 782.8L624.0 781.5L626.0 782.0L628.0 782.0L630.0 782.9L632.0 783.0L634.0 781.9L636.0 780.7L638.0 781.4L640.0 782.6L642.0 781.3L644.0 781.1L646.0 780.6L648.0 779.7L650.0 780.9L652.0 779.6L654.0 776.8L656.0 775.6L658.0 771.3L660.0 763.9L662.0 754.7L664.0 743.9L666.0 735.3L668.0 728.1L670.0 726.3L672.0 731.6L674.0 741.3L676.0 753.0L678.0 763.7L680.0 771.5L682.0 776.2L684.0 779.2L686.0 780.8L688.0 782.6L690.0 783.0L692.0 782.0L694.0 781.0L696.0 780.9L698.0 782.8L700.0 783.1L702.0 783.7L704.0 784.5L706.0 785.0L708.0 783.9L710.0 782.5L712.0 783.7L714.0 783.5L716.0 781.6L718.0 780.5L720.0 780.1L722.0 780.6L724.0 781.4L726.0 781.6L728.0 781.7L730.0 783.0L732.0 784.7L734.0 783.7L736.0 783.1L738.0 782.0L740.0 779.6L742.0 777.8L744.0 775.2L746.0 774.5L748.0 775.4L750.0 777.7L752.0 780.5L754.0 781.6L756.0 781.9L758.0 782.4L760.0 782.5L762.0 783.3L764.0 784.6L766.0 784.2L768.0 784.4L770.0 785.0L772.0 785.5L774.0 785.0L776.0 785.0L778.0 785.3L780.0 785.5L782.0 785.1L784.0 784.9L786.0 785.0L788.0 785.3L790.0 786.0L792.0 784.5L794.0 784.6L796.0 785.2L798.0 784.9L800.0 786.2L802.0 785.6L804.0 784.0L806.0 784.7L808.0 784.5L810.0 784.1L812.0 784.8L814.0 784.2L816.0 783.8L818.0 782.3L820.0 782.6L822.0 783.2L824.0 781.5L826.0 782.8L828.0 784.1L830.0 782.4L832.0 781.6L834.0 781.5L836.0 780.5L838.0 780.8L840.0 781.9L842.0 783.2L844.0 782.5L846.0 781.6L848.0 781.6L850.0 781.1L852.0 782.2L854.0 781.5L856.0 780.4L858.0 781.1L860.0 782.6L862.0 783.5L864.0 783.4L866.0 783.7L868.0 784.2L870.0 784.0L872.0 783.4L874.0 783.7L876.0 784.2L878.0 783.9L880.0 783.6L882.0 786.0L884.0 786.5L886.0 785.1L888.0 784.3L890.0 784.5L892.0 785.3L894.0 785.5L896.0 785.0L898.0 784.9L900.0 785.7L902.0 785.8L904.0 785.2L906.0 785.1L908.0 786.3L910.0 785.7L912.0 785.2L914.0 785.3L916.0 784.7L918.0 784.3L920.0 783.9L922.0 784.9L924.0 785.6L926.0 785.9L928.0 784.9L930.0 784.0L932.0 784.1L934.0 784.6L936.0 786.4L938.0 785.4L940.0 784.3L942.0 785.0L944.0 785.0L946.0 784.8L948.0 784.5L950.0 785.7L952.0 785.4L954.0 784.8L956.0 785.7L958.0 784.4L960.0 783.6L962.0 784.6L964.0 786.1L966.0 785.6L968.0 784.1L970.0 783.9L972.0 784.5L974.0 784.4L976.0 783.8L978.0 782.5L980.0 780.5L982.0 779.2L984.0 779.2L986.0 778.9L988.0 777.5L990.0 777.4L992.0 777.5L994.0 776.1L996.0 776.1L998.0 777.2L1000.0 778.2L1002.0 779.4L1004.0 781.0L1006.0 781.8L1008.0 781.1L1010.0 780.6L1012.0 781.3L1014.0 782.6L1016.0 783.6L1018.0 784.6L1020.0 785.0L1022.0 784.5L1024.0 784.9L1026.0 784.8L1028.0 784.9L1030.0 786.4L1032.0 786.4L1034.0 786.2L1036.0 786.1L1038.0 784.1L1040.0 782.8L1042.0 782.4L1044.0 780.5L1046.0 778.8L1048.0 778.7L1050.0 778.0L1052.0 777.2L1054.0 777.9L1056.0 777.6L1058.0 777.2L1060.0 775.0L1062.0 769.3L1064.0 761.8L1066.0 755.0L1068.0 750.9L1070.0 750.3L1072.0 754.3L1074.0 761.8L1076.0 769.2L1078.0 775.7L1080.0 780.5L1082.0 782.4L1084.0 783.5L1086.0 784.6L1088.0 783.8L1090.0 783.8L1092.0 785.3L1094.0 785.0L1096.0 783.5L1098.0 783.8L1100.0 784.2L1102.0 784.5L1104.0 785.5L1106.0 785.6L1108.0 785.5L1110.0 784.1L1112.0 784.7L1114.0 784.8L1116.0 784.7L1118.0 785.7L1120.0 784.7L1122.0 784.3L1124.0 784.6L1126.0 785.8L1128.0 785.8L1130.0 785.5L1132.0 784.3L1134.0 783.8L1136.0 785.1L1138.0 785.7L1140.0 786.0L1142.0 786.1L1144.0 785.3L1146.0 784.7L1148.0 785.0L1150.0 785.2L1152.0 785.8L1154.0 784.7L1156.0 785.0L1158.0 786.7L1160.0 785.9L1162.0 785.6L1164.0 786.0L1166.0 784.9L1168.0 785.1L1170.0 785.1L1172.0 785.1" stroke="#ff7e7e"/><path d="M310.0 841.2L312.0 840.8L314.0 839.5L316.0 840.0L318.0 839.5L320.0 838.7L322.0 838.7L324.0 837.9L326.0 835.1L328.0 833.1L330.0 833.3L332.0 833.2L334.0 832.7L336.0 833.8L338.0 835.1L340.0 833.7L342.0 835.1L344.0 837.4L346.0 837.8L348.0 839.1L350.0 840.1L352.0 839.6L354.0 839.8L356.0 840.3L358.0 840.7L360.0 840.8L362.0 840.6L364.0 840.0L366.0 839.7L368.0 840.6L370.0 842.4L372.0 841.8L374.0 840.1L376.0 841.0L378.0 842.5L380.0 842.6L382.0 841.0L384.0 840.9L386.0 841.6L388.0 840.9L390.0 839.9L392.0 839.8L394.0 840.3L396.0 840.2L398.0 838.8L400.0 837.3L402.0 837.6L404.0 838.2L406.0 838.0L408.0 836.4L410.0 836.0L412.0 835.8L414.0 835.4L416.0 836.2L418.0 836.6L420.0 837.2L422.0 838.7L424.0 839.8L426.0 838.6L428.0 839.5L430.0 841.3L432.0 840.3L434.0 840.2L436.0 841.3L438.0 842.0L440.0 841.3L442.0 840.0L444.0 839.5L446.0 840.1L448.0 840.3L450.0 840.9L452.0 841.3L454.0 841.2L456.0 841.1L458.0 840.4L460.0 839.9L462.0 840.8L464.0 840.7L466.0 840.4L468.0 841.7L470.0 841.5L472.0 841.8L474.0 841.7L476.0 840.7L478.0 840.8L480.0 840.7L482.0 840.7L484.0 841.0L486.0 841.7L488.0 841.6L490.0 841.3L492.0 841.6L494.0 841.2L496.0 840.8L498.0 841.7L500.0 842.6L502.0 841.9L504.0 840.7L506.0 840.2L508.0 839.8L510.0 838.9L512.0 838.5L514.0 838.3L516.0 838.2L518.0 837.7L520.0 836.8L522.0 836.0L524.0 836.0L526.0 837.0L528.0 838.2L530.0 838.8L532.0 839.3L534.0 840.0L536.0 840.3L538.0 840.9L540.0 841.7L542.0 841.1L544.0 840.3L546.0 840.7L548.0 841.2L550.0 839.8L552.0 840.0L554.0 841.4L556.0 840.8L558.0 841.3L560.0 841.4L562.0 839.8L564.0 839.3L566.0 839.9L568.0 840.0L570.0 840.1L572.0 839.6L574.0 839.2L576.0 839.1L578.0 838.0L580.0 836.3L582.0 835.4L584.0 835.3L586.0 836.8L588.0 837.3L590.0 835.9L592.0 836.8L594.0 839.0L596.0 840.8L598.0 840.8L600.0 841.1L602.0 840.9L604.0 840.7L606.0 840.6L608.0 839.5L610.0 841.2L612.0 841.8L614.0 841.0L616.0 841.9L618.0 841.9L620.0 841.2L622.0 840.3L624.0 841.0L626.0 841.0L628.0 839.1L630.0 839.3L632.0 840.1L634.0 840.4L636.0 841.3L638.0 841.0L640.0 840.1L642.0 840.0L644.0 838.8L646.0 838.7L648.0 839.8L650.0 839.3L652.0 840.1L654.0 841.2L656.0 839.9L658.0 838.4L660.0 835.9L662.0 833.1L664.0 829.3L666.0 825.3L668.0 823.9L670.0 824.8L672.0 826.7L674.0 828.9L676.0 833.0L678.0 836.0L680.0 837.1L682.0 838.5L684.0 838.8L686.0 838.6L688.0 840.1L690.0 840.8L692.0 840.9L694.0 840.7L696.0 840.8L698.0 840.6L700.0 839.9L702.0 839.9L704.0 840.2L706.0 841.6L708.0 840.5L710.0 839.8L712.0 840.1L714.0 839.7L716.0 840.1L718.0 839.4L720.0 839.5L722.0 839.8L724.0 840.8L726.0 841.1L728.0 840.4L730.0 840.9L732.0 840.8L734.0 840.5L736.0 839.6L738.0 840.8L740.0 841.7L742.0 841.1L744.0 840.4L746.0 840.3L748.0 840.6L750.0 840.5L752.0 840.3L754.0 839.5L756.0 839.9L758.0 840.3L760.0 840.7L762.0 840.3L764.0 838.8L766.0 839.1L768.0 838.6L770.0 839.2L772.0 840.6L774.0 840.0L776.0 839.0L778.0 838.1L780.0 837.8L782.0 837.8L784.0 837.4L786.0 837.7L788.0 838.9L790.0 839.6L792.0 837.9L794.0 838.7L796.0 840.2L798.0 838.3L800.0 838.1L802.0 839.5L804.0 839.9L806.0 838.9L808.0 838.2L810.0 839.1L812.0 839.2L814.0 838.4L816.0 838.0L818.0 837.1L820.0 837.6L822.0 838.9L824.0 838.2L826.0 836.2L828.0 835.8L830.0 836.4L832.0 835.3L834.0 835.9L836.0 836.6L838.0 836.3L840.0 836.8L842.0 836.6L844.0 835.9L846.0 836.6L848.0 837.9L850.0 838.5L852.0 838.1L854.0 837.7L856.0 837.9L858.0 838.4L860.0 839.0L862.0 837.9L864.0 837.9L866.0 838.1L868.0 837.7L870.0 838.1L872.0 839.2L874.0 838.3L876.0 837.1L878.0 836.9L880.0 837.9L882.0 839.2L884.0 839.0L886.0 838.4L888.0 836.4L890.0 835.5L892.0 835.9L894.0 836.0L896.0 835.5L898.0 835.7L900.0 835.9L902.0 835.7L904.0 837.2L906.0 837.6L908.0 835.8L910.0 835.9L912.0 836.9L914.0 837.2L916.0 837.5L918.0 836.8L920.0 836.8L922.0 838.1L924.0 839.8L926.0 839.7L928.0 839.1L930.0 839.8L932.0 838.3L934.0 836.9L936.0 838.4L938.0 838.2L940.0 836.8L942.0 837.5L944.0 837.2L946.0 837.4L948.0 838.2L950.0 837.7L952.0 837.2L954.0 835.5L956.0 835.1L958.0 835.5L960.0 834.6L962.0 833.0L964.0 831.6L966.0 830.1L968.0 828.9L970.0 828.5L972.0 826.5L974.0 823.7L976.0 821.6L978.0 819.0L980.0 814.9L982.0 812.9L984.0 811.9L986.0 809.5L988.0 809.5L990.0 811.4L992.0 813.1L994.0 814.6L996.0 816.2L998.0 819.0L1000.0 821.8L1002.0 823.3L1004.0 824.8L1006.0 828.1L1008.0 830.1L1010.0 830.6L1012.0 831.4L1014.0 832.5L1016.0 834.1L1018.0 835.0L1020.0 836.3L1022.0 836.6L1024.0 836.4L1026.0 836.6L1028.0 837.2L1030.0 838.0L1032.0 838.3L1034.0 838.9L1036.0 838.2L1038.0 838.1L1040.0 838.4L1042.0 838.9L1044.0 839.3L1046.0 839.7L1048.0 840.2L1050.0 839.6L1052.0 839.1L1054.0 838.6L1056.0 838.7L1058.0 837.5L1060.0 836.0L1062.0 834.2L1064.0 831.7L1066.0 830.2L1068.0 830.0L1070.0 830.4L1072.0 832.2L1074.0 834.5L1076.0 835.8L1078.0 837.1L1080.0 839.0L1082.0 840.7L1084.0 840.8L1086.0 840.2L1088.0 839.7L1090.0 839.8L1092.0 840.6L1094.0 840.0L1096.0 840.2L1098.0 840.7L1100.0 839.5L1102.0 838.6L1104.0 839.2L1106.0 839.9L1108.0 840.8L1110.0 840.7L1112.0 840.1L1114.0 840.3L1116.0 840.7L1118.0 840.8L1120.0 840.6L1122.0 840.5L1124.0 839.6L1126.0 839.6L1128.0 841.3L1130.0 842.0L1132.0 842.0L1134.0 841.9L1136.0 840.7L1138.0 840.1L1140.0 840.7L1142.0 840.8L1144.0 840.9L1146.0 841.8L1148.0 842.2L1150.0 841.9L1152.0 840.4L1154.0 840.6L1156.0 840.7L1158.0 839.3L1160.0 840.1L1162.0 840.8L1164.0 841.1L1166.0 841.1L1168.0 840.4L1170.0 840.4L1172.0 840.2" stroke="#ff4a4a"/><path d="M310.0 895.7L312.0 896.2L314.0 896.1L316.0 895.2L318.0 895.8L320.0 894.5L322.0 894.2L324.0 895.5L326.0 894.4L328.0 894.6L330.0 894.8L332.0 894.3L334.0 894.2L336.0 893.5L338.0 892.9L340.0 892.6L342.0 892.7L344.0 893.1L346.0 893.6L348.0 894.9L350.0 894.9L352.0 895.1L354.0 896.2L356.0 895.2L358.0 894.4L360.0 894.9L362.0 894.5L364.0 893.5L366.0 893.8L368.0 893.5L370.0 892.7L372.0 892.5L374.0 892.6L376.0 892.7L378.0 892.9L380.0 894.9L382.0 895.7L384.0 896.3L386.0 896.4L388.0 895.5L390.0 895.4L392.0 896.8L394.0 897.1L396.0 895.8L398.0 895.4L400.0 895.1L402.0 895.9L404.0 896.3L406.0 895.9L408.0 896.1L410.0 895.5L412.0 895.3L414.0 895.8L416.0 896.1L418.0 896.4L420.0 897.3L422.0 896.3L424.0 895.5L426.0 896.7L428.0 897.1L430.0 896.2L432.0 894.8L434.0 894.1L436.0 894.4L438.0 895.8L440.0 896.2L442.0 894.7L444.0 894.2L446.0 894.0L448.0 894.1L450.0 893.1L452.0 891.8L454.0 892.6L456.0 893.8L458.0 892.4L460.0 892.1L462.0 892.5L464.0 891.2L466.0 892.5L468.0 893.5L470.0 893.4L472.0 893.5L474.0 893.4L476.0 892.9L478.0 893.0L480.0 894.3L482.0 894.3L484.0 894.6L486.0 895.6L488.0 894.4L490.0 894.8L492.0 896.3L494.0 895.9L496.0 896.3L498.0 897.5L500.0 896.4L502.0 895.7L504.0 896.6L506.0 896.3L508.0 896.5L510.0 896.8L512.0 895.9L514.0 893.6L516.0 892.6L518.0 892.9L520.0 893.5L522.0 893.7L524.0 893.7L526.0 893.7L528.0 893.9L530.0 894.9L532.0 895.3L534.0 896.0L536.0 896.9L538.0 896.3L540.0 896.3L542.0 897.3L544.0 896.7L546.0 896.4L548.0 896.1L550.0 895.2L552.0 895.2L554.0 895.6L556.0 895.7L558.0 895.4L560.0 896.4L562.0 896.7L564.0 896.2L566.0 897.0L568.0 896.5L570.0 896.1L572.0 895.7L574.0 894.9L576.0 896.5L578.0 897.2L580.0 894.8L582.0 894.3L584.0 894.6L586.0 895.0L588.0 896.6L590.0 897.3L592.0 896.1L594.0 894.9L596.0 895.7L598.0 896.4L600.0 895.8L602.0 896.7L604.0 897.0L606.0 895.1L608.0 893.7L610.0 894.7L612.0 894.9L614.0 895.1L616.0 896.6L618.0 897.5L620.0 896.5L622.0 895.5L624.0 894.7L626.0 894.3L628.0 895.5L630.0 896.7L632.0 896.0L634.0 895.2L636.0 896.1L638.0 897.1L640.0 896.5L642.0 894.7L644.0 895.5L646.0 896.0L648.0 895.4L650.0 894.8L652.0 894.9L654.0 894.2L656.0 894.0L658.0 894.5L660.0 893.4L662.0 892.8L664.0 891.0L666.0 887.2L668.0 885.4L670.0 886.3L672.0 887.4L674.0 889.8L676.0 892.2L678.0 892.5L680.0 893.2L682.0 894.8L684.0 895.1L686.0 893.9L688.0 894.7L690.0 895.4L692.0 896.0L694.0 897.4L696.0 896.0L698.0 894.5L700.0 894.2L702.0 893.8L704.0 893.1L706.0 891.0L708.0 888.4L710.0 887.5L712.0 887.9L714.0 885.9L716.0 884.0L718.0 884.1L720.0 884.8L722.0 884.8L724.0 886.2L726.0 888.7L728.0 891.3L730.0 893.3L732.0 893.8L734.0 894.4L736.0 894.5L738.0 895.4L740.0 894.9L742.0 895.3L744.0 896.6L746.0 895.9L748.0 896.4L750.0 896.2L752.0 895.2L754.0 895.6L756.0 894.9L758.0 894.6L760.0 895.3L762.0 895.3L764.0 895.5L766.0 894.1L768.0 892.1L770.0 891.3L772.0 890.9L774.0 892.9L776.0 895.2L778.0 896.0L780.0 895.5L782.0 895.2L784.0 896.4L786.0 896.7L788.0 896.0L790.0 895.6L792.0 896.0L794.0 896.8L796.0 896.3L798.0 895.0L800.0 895.3L802.0 894.9L804.0 895.3L806.0 896.0L808.0 895.5L810.0 895.1L812.0 895.6L814.0 895.8L816.0 895.8L818.0 895.3L820.0 894.2L822.0 894.4L824.0 893.5L826.0 894.0L828.0 894.8L830.0 892.7L832.0 892.5L834.0 894.1L836.0 893.0L838.0 891.8L840.0 893.3L842.0 893.4L844.0 893.6L846.0 895.1L848.0 895.0L850.0 894.7L852.0 895.2L854.0 894.9L856.0 894.4L858.0 893.4L860.0 892.1L862.0 891.4L864.0 891.7L866.0 893.5L868.0 894.8L870.0 895.1L872.0 894.2L874.0 894.1L876.0 895.6L878.0 895.6L880.0 895.9L882.0 895.9L884.0 895.5L886.0 895.6L888.0 895.1L890.0 895.7L892.0 895.8L894.0 896.3L896.0 896.5L898.0 895.3L900.0 893.0L902.0 893.2L904.0 895.4L906.0 896.4L908.0 895.8L910.0 896.2L912.0 897.2L914.0 896.1L916.0 896.3L918.0 895.7L920.0 894.4L922.0 895.6L924.0 896.5L926.0 896.9L928.0 897.3L930.0 896.4L932.0 895.3L934.0 895.3L936.0 895.5L938.0 896.0L940.0 896.0L942.0 896.5L944.0 896.6L946.0 895.0L948.0 894.1L950.0 894.9L952.0 895.4L954.0 893.8L956.0 892.0L958.0 893.0L960.0 893.9L962.0 893.1L964.0 892.6L966.0 893.7L968.0 894.5L970.0 894.4L972.0 893.1L974.0 892.0L976.0 892.1L978.0 890.8L980.0 887.9L982.0 884.8L984.0 883.4L986.0 881.4L988.0 879.9L990.0 879.6L992.0 879.5L994.0 880.3L996.0 880.8L998.0 881.3L1000.0 881.2L1002.0 880.7L1004.0 882.0L1006.0 884.4L1008.0 885.9L1010.0 888.8L1012.0 892.6L1014.0 893.0L1016.0 892.8L1018.0 893.0L1020.0 892.9L1022.0 892.6L1024.0 890.8L1026.0 888.3L1028.0 888.0L1030.0 889.6L1032.0 891.9L1034.0 894.0L1036.0 894.1L1038.0 893.7L1040.0 894.5L1042.0 894.8L1044.0 893.9L1046.0 892.9L1048.0 893.6L1050.0 894.6L1052.0 895.8L1054.0 896.8L1056.0 895.2L1058.0 893.2L1060.0 892.6L1062.0 891.6L1064.0 888.5L1066.0 886.9L1068.0 887.4L1070.0 887.9L1072.0 889.2L1074.0 890.9L1076.0 892.4L1078.0 894.5L1080.0 895.7L1082.0 895.7L1084.0 896.6L1086.0 897.1L1088.0 895.8L1090.0 896.2L1092.0 896.2L1094.0 895.1L1096.0 895.8L1098.0 895.6L1100.0 895.3L1102.0 894.9L1104.0 895.4L1106.0 896.1L1108.0 895.9L1110.0 894.5L1112.0 893.5L1114.0 894.4L1116.0 894.5L1118.0 893.7L1120.0 893.2L1122.0 892.8L1124.0 892.0L1126.0 893.8L1128.0 895.2L1130.0 894.4L1132.0 895.7L1134.0 896.2L1136.0 896.2L1138.0 896.1L1140.0 895.3L1142.0 896.1L1144.0 896.0L1146.0 895.3L1148.0 895.2L1150.0 894.8L1152.0 894.9L1154.0 894.8L1156.0 894.9L1158.0 895.2L1160.0 896.3L1162.0 895.9L1164.0 895.1L1166.0 894.3L1168.0 895.8L1170.0 897.1L1172.0 895.4" stroke="#ff2020"/><path d="M310.0 951.1L312.0 951.0L314.0 949.7L316.0 949.8L318.0 949.9L320.0 949.8L322.0 950.0L324.0 949.8L326.0 948.4L328.0 947.6L330.0 946.6L332.0 946.7L334.0 949.1L336.0 949.4L338.0 948.3L340.0 948.4L342.0 949.1L344.0 950.3L346.0 950.0L348.0 950.3L350.0 951.0L352.0 951.0L354.0 952.2L356.0 951.3L358.0 952.1L360.0 953.4L362.0 951.7L364.0 951.5L366.0 951.3L368.0 951.2L370.0 951.8L372.0 950.6L374.0 950.5L376.0 951.7L378.0 952.2L380.0 952.5L382.0 951.6L384.0 950.9L386.0 951.2L388.0 951.9L390.0 951.5L392.0 952.1L394.0 952.6L396.0 951.8L398.0 952.1L400.0 951.9L402.0 951.8L404.0 952.3L406.0 951.0L408.0 950.1L410.0 950.4L412.0 950.8L414.0 951.0L416.0 950.6L418.0 950.4L420.0 949.5L422.0 950.3L424.0 951.5L426.0 951.4L428.0 953.5L430.0 954.2L432.0 952.3L434.0 951.1L436.0 951.5L438.0 951.2L440.0 950.2L442.0 951.0L444.0 950.9L446.0 949.8L448.0 950.3L450.0 951.8L452.0 951.2L454.0 950.8L456.0 951.8L458.0 951.6L460.0 951.7L462.0 951.2L464.0 950.4L466.0 950.3L468.0 950.4L470.0 951.4L472.0 951.6L474.0 950.5L476.0 950.3L478.0 948.7L480.0 948.1L482.0 949.4L484.0 947.9L486.0 946.5L488.0 946.4L490.0 946.3L492.0 945.6L494.0 944.8L496.0 944.7L498.0 945.5L500.0 946.1L502.0 946.1L504.0 946.6L506.0 949.5L508.0 951.1L510.0 950.4L512.0 950.3L514.0 949.8L516.0 948.7L518.0 947.6L520.0 947.4L522.0 947.4L524.0 946.7L526.0 947.9L528.0 949.8L530.0 949.4L532.0 950.0L534.0 952.2L536.0 952.3L538.0 951.4L540.0 951.6L542.0 950.8L544.0 950.3L546.0 950.9L548.0 950.5L550.0 950.0L552.0 950.2L554.0 950.0L556.0 949.6L558.0 949.6L560.0 949.6L562.0 949.0L564.0 949.0L566.0 949.3L568.0 947.8L570.0 947.1L572.0 947.7L574.0 947.6L576.0 947.6L578.0 947.7L580.0 947.8L582.0 948.6L584.0 948.4L586.0 948.7L588.0 949.0L590.0 950.1L592.0 951.6L594.0 950.3L596.0 950.0L598.0 951.2L600.0 951.1L602.0 951.4L604.0 951.7L606.0 952.4L608.0 952.8L610.0 952.0L612.0 951.5L614.0 950.7L616.0 951.4L618.0 951.0L620.0 950.9L622.0 952.9L624.0 953.9L626.0 951.9L628.0 950.6L630.0 951.8L632.0 952.2L634.0 952.4L636.0 951.3L638.0 950.7L640.0 950.5L642.0 950.5L644.0 952.8L646.0 952.2L648.0 951.0L650.0 951.6L652.0 950.4L654.0 950.2L656.0 950.0L658.0 949.2L660.0 949.2L662.0 947.4L664.0 945.5L666.0 943.4L668.0 941.5L670.0 942.1L672.0 943.2L674.0 944.6L676.0 946.9L678.0 948.2L680.0 949.4L682.0 950.3L684.0 951.1L686.0 951.6L688.0 951.0L690.0 951.5L692.0 952.0L694.0 951.9L696.0 951.3L698.0 951.4L700.0 951.6L702.0 950.3L704.0 950.4L706.0 952.1L708.0 952.3L710.0 950.8L712.0 951.0L714.0 951.0L716.0 950.5L718.0 950.9L720.0 951.4L722.0 951.9L724.0 951.9L726.0 951.6L728.0 951.1L730.0 950.9L732.0 951.4L734.0 951.6L736.0 951.2L738.0 952.1L740.0 952.8L742.0 952.3L744.0 952.0L746.0 951.7L748.0 951.8L750.0 952.1L752.0 951.5L754.0 950.6L756.0 951.4L758.0 950.9L760.0 949.9L762.0 948.3L764.0 947.8L766.0 949.3L768.0 949.7L770.0 950.4L772.0 951.0L774.0 950.3L776.0 950.2L778.0 950.3L780.0 949.1L782.0 949.1L784.0 947.5L786.0 945.3L788.0 944.8L790.0 945.5L792.0 946.2L794.0 946.7L796.0 948.8L798.0 948.9L800.0 949.1L802.0 950.9L804.0 951.4L806.0 950.8L808.0 950.3L810.0 950.5L812.0 950.4L814.0 949.8L816.0 951.1L818.0 952.0L820.0 951.7L822.0 951.1L824.0 949.4L826.0 948.7L828.0 949.6L830.0 949.6L832.0 948.0L834.0 947.7L836.0 948.0L838.0 947.4L840.0 948.3L842.0 948.2L844.0 947.3L846.0 947.8L848.0 949.0L850.0 950.2L852.0 950.4L854.0 950.3L856.0 950.3L858.0 950.7L860.0 950.0L862.0 949.5L864.0 951.0L866.0 952.1L868.0 950.8L870.0 950.7L872.0 950.9L874.0 949.8L876.0 950.9L878.0 951.9L880.0 951.5L882.0 951.8L884.0 952.4L886.0 952.0L888.0 950.9L890.0 950.7L892.0 951.1L894.0 950.7L896.0 950.9L898.0 949.3L900.0 949.3L902.0 949.9L904.0 947.7L906.0 947.6L908.0 947.2L910.0 945.5L912.0 946.3L914.0 947.0L916.0 947.5L918.0 947.8L920.0 947.8L922.0 948.5L924.0 948.4L926.0 948.8L928.0 949.3L930.0 949.5L932.0 951.2L934.0 951.6L936.0 950.8L938.0 951.9L940.0 951.4L942.0 950.6L944.0 951.0L946.0 951.3L948.0 951.0L950.0 949.5L952.0 948.5L954.0 946.9L956.0 945.7L958.0 942.6L960.0 939.6L962.0 939.6L964.0 938.3L966.0 937.4L968.0 937.3L970.0 938.5L972.0 939.7L974.0 940.5L976.0 939.7L978.0 939.0L980.0 939.2L982.0 939.9L984.0 940.0L986.0 938.8L988.0 937.7L990.0 936.5L992.0 938.6L994.0 941.6L996.0 944.1L998.0 947.1L1000.0 949.2L1002.0 950.5L1004.0 951.9L1006.0 951.8L1008.0 951.0L1010.0 951.8L1012.0 952.5L1014.0 951.8L1016.0 951.6L1018.0 952.0L1020.0 951.4L1022.0 950.5L1024.0 950.5L1026.0 951.0L1028.0 950.2L1030.0 949.0L1032.0 950.1L1034.0 950.9L1036.0 949.6L1038.0 949.6L1040.0 949.5L1042.0 948.4L1044.0 948.3L1046.0 947.8L1048.0 947.6L1050.0 947.1L1052.0 946.7L1054.0 944.7L1056.0 942.5L1058.0 943.0L1060.0 943.7L1062.0 944.1L1064.0 944.1L1066.0 944.6L1068.0 945.5L1070.0 947.2L1072.0 948.2L1074.0 948.7L1076.0 950.1L1078.0 950.9L1080.0 950.2L1082.0 948.9L1084.0 949.3L1086.0 948.1L1088.0 945.8L1090.0 946.7L1092.0 948.2L1094.0 948.9L1096.0 949.2L1098.0 950.2L1100.0 951.9L1102.0 951.8L1104.0 952.4L1106.0 952.5L1108.0 950.8L1110.0 950.7L1112.0 950.9L1114.0 950.8L1116.0 950.8L1118.0 951.0L1120.0 951.9L1122.0 952.1L1124.0 951.7L1126.0 950.8L1128.0 949.9L1130.0 950.4L1132.0 951.7L1134.0 952.3L1136.0 952.0L1138.0 950.8L1140.0 950.6L1142.0 951.3L1144.0 952.0L1146.0 951.4L1148.0 950.9L1150.0 951.4L1152.0 951.5L1154.0 950.5L1156.0 950.7L1158.0 950.7L1160.0 949.9L1162.0 950.8L1164.0 951.0L1166.0 951.1L1168.0 952.0L1170.0 952.1L1172.0 952.1" stroke="#ff0c0c"/></g><line x1="292.5" y1="971.6" x2="1173.9" y2="971.6" stroke="#b0b0b0" stroke-width="2.6" /><line x1="312.1" y1="27.8" x2="312.1" y2="975.8" stroke="#444" stroke-width="5.8" /><line x1="1171.4" y1="27.8" x2="1171.4" y2="975.8" stroke="#3c3c3c" stroke-width="4.8" /><line x1="309.2" y1="29.5" x2="1173.8" y2="29.5" stroke="#111" stroke-width="3.4" /><line x1="292.5" y1="974.3" x2="1173.8" y2="974.3" stroke="#000" stroke-width="3.2" /></g><g id="panelB"><text transform="translate(1226.5,107.0) scale(1,1.02)" font-size="103">B</text><clipPath id="clipB"><rect x="1504.0" y="29.5" width="858.0" height="944.5"/></clipPath><g clip-path="url(#clipB)"><rect x="1505.2" y="200.4" width="17.6" height="773.6" fill="#838de4" stroke="#a4acec" stroke-width="1"/><rect x="1526.6" y="208.7" width="17.6" height="765.3" fill="#838de4" stroke="#a4acec" stroke-width="1"/><rect x="1548.0" y="211.0" width="17.6" height="763.0" fill="#838de4" stroke="#a4acec" stroke-width="1"/><rect x="1569.4" y="232.4" width="17.6" height="741.6" fill="#838de4" stroke="#a4acec" stroke-width="1"/><rect x="1590.8" y="211.0" width="17.6" height="763.0" fill="#838de4" stroke="#a4acec" stroke-width="1"/><rect x="1612.2" y="181.5" width="17.6" height="792.5" fill="#838de4" stroke="#a4acec" stroke-width="1"/><rect x="1633.6" y="208.7" width="17.6" height="765.3" fill="#838de4" stroke="#a4acec" stroke-width="1"/><rect x="1655.0" y="208.2" width="17.6" height="765.8" fill="#838de4" stroke="#a4acec" stroke-width="1"/><rect x="1676.4" y="206.0" width="17.6" height="768.0" fill="#838de4" stroke="#a4acec" stroke-width="1"/><rect x="1697.8" y="213.7" width="17.6" height="760.3" fill="#838de4" stroke="#a4acec" stroke-width="1"/><rect x="1719.2" y="213.7" width="17.6" height="760.3" fill="#838de4" stroke="#a4acec" stroke-width="1"/><rect x="1740.6" y="206.5" width="17.6" height="767.5" fill="#838de4" stroke="#a4acec" stroke-width="1"/><rect x="1762.0" y="172.0" width="17.6" height="802.0" fill="#838de4" stroke="#a4acec" stroke-width="1"/><rect x="1783.4" y="194.8" width="17.6" height="779.2" fill="#838de4" stroke="#a4acec" stroke-width="1"/><rect x="1804.8" y="189.1" width="17.6" height="784.9" fill="#838de4" stroke="#a4acec" stroke-width="1"/><rect x="1826.2" y="176.0" width="17.6" height="798.0" fill="#838de4" stroke="#a4acec" stroke-width="1"/><rect x="1847.6" y="203.1" width="17.6" height="770.9" fill="#838de4" stroke="#a4acec" stroke-width="1"/><rect x="1869.0" y="187.7" width="17.6" height="786.3" fill="#838de4" stroke="#a4acec" stroke-width="1"/><rect x="1890.4" y="203.1" width="17.6" height="770.9" fill="#838de4" stroke="#a4acec" stroke-width="1"/><rect x="1911.8" y="214.3" width="17.6" height="759.7" fill="#838de4" stroke="#a4acec" stroke-width="1"/><rect x="1933.2" y="176.0" width="17.6" height="798.0" fill="#838de4" stroke="#a4acec" stroke-width="1"/><rect x="1954.6" y="192.2" width="17.6" height="781.8" fill="#838de4" stroke="#a4acec" stroke-width="1"/><rect x="1976.0" y="197.5" width="17.6" height="776.5" fill="#838de4" stroke="#a4acec" stroke-width="1"/><rect x="1997.4" y="206.0" width="17.6" height="768.0" fill="#838de4" stroke="#a4acec" stroke-width="1"/><rect x="2018.8" y="231.0" width="17.6" height="743.0" fill="#838de4" stroke="#a4acec" stroke-width="1"/><rect x="2040.2" y="213.8" width="17.6" height="760.2" fill="#838de4" stroke="#a4acec" stroke-width="1"/><rect x="2061.6" y="179.3" width="17.6" height="794.7" fill="#838de4" stroke="#a4acec" stroke-width="1"/><rect x="2083.0" y="173.7" width="17.6" height="800.3" fill="#838de4" stroke="#a4acec" stroke-width="1"/><rect x="2104.4" y="207.3" width="17.6" height="766.7" fill="#838de4" stroke="#a4acec" stroke-width="1"/><rect x="2125.8" y="202.3" width="17.6" height="771.7" fill="#838de4" stroke="#a4acec" stroke-width="1"/><rect x="2147.2" y="203.1" width="17.6" height="770.9" fill="#838de4" stroke="#a4acec" stroke-width="1"/><rect x="2168.6" y="173.1" width="17.6" height="800.9" fill="#838de4" stroke="#a4acec" stroke-width="1"/><rect x="2190.0" y="207.9" width="17.6" height="766.1" fill="#838de4" stroke="#a4acec" stroke-width="1"/><rect x="2211.4" y="206.0" width="17.6" height="768.0" fill="#838de4" stroke="#a4acec" stroke-width="1"/><rect x="2232.8" y="246.5" width="17.6" height="727.5" fill="#838de4" stroke="#a4acec" stroke-width="1"/><rect x="2254.2" y="227.5" width="17.6" height="746.5" fill="#838de4" stroke="#a4acec" stroke-width="1"/><rect x="2275.6" y="174.3" width="17.6" height="799.7" fill="#838de4" stroke="#a4acec" stroke-width="1"/><rect x="2297.0" y="170.0" width="17.6" height="804.0" fill="#838de4" stroke="#a4acec" stroke-width="1"/><rect x="2318.4" y="200.3" width="17.6" height="773.7" fill="#838de4" stroke="#a4acec" stroke-width="1"/><rect x="2339.8" y="202.3" width="17.6" height="771.7" fill="#838de4" stroke="#a4acec" stroke-width="1"/></g><line x1="1504.0" y1="204.6" x2="2362.0" y2="204.6" stroke="#111" stroke-width="3" stroke-dasharray="18 13.6" stroke-dashoffset="-2"/><text transform="translate(1472.0,991.8) scale(1,1.0)" font-size="49.6" text-anchor="end">0</text><line x1="1485.0" y1="974.0" x2="1504.0" y2="974.0" stroke="#222" stroke-width="3.5" /><text transform="translate(1472.0,790.0) scale(1,1.0)" font-size="49.6" text-anchor="end">7000</text><line x1="1485.0" y1="773.2" x2="1504.0" y2="773.2" stroke="#222" stroke-width="3.5" /><text transform="translate(1472.0,588.2) scale(1,1.0)" font-size="49.6" text-anchor="end">14,000</text><line x1="1485.0" y1="571.4" x2="1504.0" y2="571.4" stroke="#222" stroke-width="3.5" /><text transform="translate(1472.0,386.4) scale(1,1.0)" font-size="49.6" text-anchor="end">21,000</text><line x1="1485.0" y1="369.6" x2="1504.0" y2="369.6" stroke="#222" stroke-width="3.5" /><text transform="translate(1472.0,184.6) scale(1,1.0)" font-size="49.6" text-anchor="end">28,000</text><line x1="1485.0" y1="167.8" x2="1504.0" y2="167.8" stroke="#222" stroke-width="3.5" /><line x1="1493.5" y1="874.1" x2="1504.0" y2="874.1" stroke="#222" stroke-width="3" /><line x1="1493.5" y1="672.3" x2="1504.0" y2="672.3" stroke="#222" stroke-width="3" /><line x1="1493.5" y1="470.5" x2="1504.0" y2="470.5" stroke="#222" stroke-width="3" /><line x1="1493.5" y1="268.7" x2="1504.0" y2="268.7" stroke="#222" stroke-width="3" /><line x1="1493.5" y1="66.9" x2="1504.0" y2="66.9" stroke="#222" stroke-width="3" /><line x1="1556.8" y1="974.0" x2="1556.8" y2="983.0" stroke="#222" stroke-width="3" /><line x1="1621.0" y1="974.0" x2="1621.0" y2="993.0" stroke="#222" stroke-width="3.5" /><text transform="translate(1621.0,1043.2) scale(1,1.0)" font-size="49.8" text-anchor="middle">6</text><line x1="1685.2" y1="974.0" x2="1685.2" y2="983.0" stroke="#222" stroke-width="3" /><line x1="1749.4" y1="974.0" x2="1749.4" y2="993.0" stroke="#222" stroke-width="3.5" /><text transform="translate(1749.4,1043.2) scale(1,1.0)" font-size="49.8" text-anchor="middle">12</text><line x1="1813.6" y1="974.0" x2="1813.6" y2="983.0" stroke="#222" stroke-width="3" /><line x1="1877.8" y1="974.0" x2="1877.8" y2="993.0" stroke="#222" stroke-width="3.5" /><text transform="translate(1877.8,1043.2) scale(1,1.0)" font-size="49.8" text-anchor="middle">18</text><line x1="1942.0" y1="974.0" x2="1942.0" y2="983.0" stroke="#222" stroke-width="3" /><line x1="2006.2" y1="974.0" x2="2006.2" y2="993.0" stroke="#222" stroke-width="3.5" /><text transform="translate(2006.2,1043.2) scale(1,1.0)" font-size="49.8" text-anchor="middle">24</text><line x1="2070.4" y1="974.0" x2="2070.4" y2="983.0" stroke="#222" stroke-width="3" /><line x1="2134.6" y1="974.0" x2="2134.6" y2="993.0" stroke="#222" stroke-width="3.5" /><text transform="translate(2134.6,1043.2) scale(1,1.0)" font-size="49.8" text-anchor="middle">30</text><line x1="2198.8" y1="974.0" x2="2198.8" y2="983.0" stroke="#222" stroke-width="3" /><line x1="2263.0" y1="974.0" x2="2263.0" y2="993.0" stroke="#222" stroke-width="3.5" /><text transform="translate(2263.0,1043.2) scale(1,1.0)" font-size="49.8" text-anchor="middle">36</text><line x1="2327.2" y1="974.0" x2="2327.2" y2="983.0" stroke="#222" stroke-width="3" /><text transform="translate(1932.5,1109.4) scale(1,1.0)" font-size="62.8" text-anchor="middle">Number</text><text transform="translate(1291.8,531.5) rotate(-90) scale(1,1.0)" font-size="62.4" text-anchor="middle">SERS intensity (a.u.)</text><rect x="1534.5" y="69.5" width="86.5" height="41" fill="#838de4" stroke="#a9b0ee" stroke-width="1.5"/><text transform="translate(1647.0,107.0) scale(1,1.0)" font-size="49.6">1078 cm<tspan dy="-21.5" font-size="30">−1</tspan><tspan dy="21.5"></tspan></text><text transform="translate(1974.5,129.4) scale(1,1.0)" font-size="58.5">RSD = 2.1%</text><rect x="1504.0" y="29.5" width="858.0" height="944.5" fill="none" stroke="#111" stroke-width="3.5"/></g><g id="panelC"><text transform="translate(94.5,1223.5) scale(1,1.02)" font-size="103">C</text><line x1="234.0" y1="1447.3" x2="455.2" y2="1178.7" stroke="#d6d6d6" stroke-width="2" /><line x1="455.2" y1="1178.7" x2="455.2" y2="1478.0" stroke="#dcdcdc" stroke-width="2" /><line x1="455.2" y1="1478.0" x2="1156.6" y2="1478.0" stroke="#ececec" stroke-width="2" /><line x1="234.0" y1="1748.5" x2="455.2" y2="1478.0" stroke="#c4c4c4" stroke-width="2" /><line x1="934.5" y1="1748.5" x2="1156.6" y2="1478.0" stroke="#c4c4c4" stroke-width="2" /><line x1="1156.6" y1="1178.7" x2="1156.6" y2="1478.0" stroke="#9a9a9a" stroke-width="2.5" /><line x1="454.2" y1="1176.5" x2="1157.6" y2="1176.5" stroke="#d8d8d8" stroke-width="2" /><line x1="454.2" y1="1178.7" x2="1157.8" y2="1178.7" stroke="#222" stroke-width="3" /><g fill="#fff" stroke="#0505ff" stroke-opacity="0.55" stroke-linejoin="round" stroke-width="2.6"><path d="M484.8 1481.2L487.4 1480.6L489.9 1481.2L492.5 1479.4L495.1 1475.1L497.7 1471.6L500.2 1476.2L502.8 1479.3L505.4 1480.6L508.0 1481.3L510.5 1480.8L513.1 1479.6L515.7 1479.4L518.3 1479.4L520.8 1477.3L523.4 1471.9L526.0 1464.7L528.6 1466.6L531.1 1473.4L533.7 1477.4L536.3 1479.7L538.9 1480.1L541.4 1479.9L544.0 1479.7L546.6 1480.5L549.1 1481.2L551.7 1480.9L554.3 1481.2L556.9 1480.4L559.4 1478.9L562.0 1478.7L564.6 1477.9L567.2 1477.1L569.7 1477.6L572.3 1478.3L574.9 1478.6L577.5 1479.8L580.0 1480.2L582.6 1479.4L585.2 1480.4L587.8 1480.2L590.3 1478.6L592.9 1476.3L595.5 1473.0L598.1 1472.6L600.6 1475.5L603.2 1478.3L605.8 1479.2L608.4 1479.2L610.9 1479.2L613.5 1479.0L616.1 1477.5L618.6 1474.1L621.2 1470.0L623.8 1469.0L626.4 1472.9L628.9 1475.8L631.5 1478.8L634.1 1479.9L636.7 1479.2L639.2 1479.7L641.8 1480.4L644.4 1479.6L647.0 1479.4L649.5 1479.4L652.1 1477.8L654.7 1478.3L657.3 1478.7L659.8 1478.4L662.4 1478.3L665.0 1477.3L667.6 1477.0L670.1 1478.9L672.7 1480.5L675.3 1479.7L677.8 1479.0L680.4 1479.4L683.0 1480.5L685.6 1480.7L688.1 1480.3L690.7 1480.5L693.3 1480.8L695.9 1480.3L698.4 1479.5L701.0 1479.0L703.6 1477.6L706.2 1475.0L708.7 1472.4L711.3 1473.4L713.9 1476.0L716.5 1477.7L719.0 1474.8L721.6 1470.0L724.2 1471.6L726.8 1476.1L729.3 1479.4L731.9 1480.8L734.5 1480.3L737.1 1478.4L739.6 1477.8L742.2 1471.5L744.8 1445.6L747.3 1387.8L749.9 1298.3L752.5 1213.9L755.1 1191.8L757.6 1257.6L760.2 1350.0L762.8 1416.3L765.4 1450.1L767.9 1464.1L770.5 1470.5L773.1 1474.1L775.7 1474.5L778.2 1475.4L780.8 1476.3L783.4 1476.5L786.0 1476.6L788.5 1476.8L791.1 1477.1L793.7 1477.6L796.3 1478.3L798.8 1478.4L801.4 1477.7L804.0 1476.3L806.5 1472.5L809.1 1464.4L811.7 1453.8L814.3 1450.9L816.8 1460.6L819.4 1469.9L822.0 1474.5L824.6 1476.5L827.1 1477.4L829.7 1478.7L832.3 1479.6L834.9 1478.6L837.4 1478.0L840.0 1478.2L842.6 1477.5L845.2 1478.6L847.7 1479.3L850.3 1478.4L852.9 1478.0L855.5 1477.4L858.0 1476.8L860.6 1476.0L863.2 1475.6L865.8 1474.4L868.3 1472.5L870.9 1470.9L873.5 1469.5L876.0 1468.7L878.6 1468.3L881.2 1469.4L883.8 1470.9L886.3 1472.6L888.9 1474.4L891.5 1475.8L894.1 1476.9L896.6 1477.4L899.2 1477.8L901.8 1478.1L904.4 1479.0L906.9 1478.9L909.5 1478.6L912.1 1479.2L914.7 1478.6L917.2 1478.0L919.8 1477.1L922.4 1476.2L925.0 1475.7L927.5 1474.6L930.1 1472.4L932.7 1470.9L935.2 1471.5L937.8 1471.5L940.4 1472.4L943.0 1472.6L945.5 1473.9L948.1 1475.7L950.7 1475.8L953.3 1477.6L955.8 1478.4L958.4 1477.7L961.0 1477.8L963.6 1477.8L966.1 1476.6L968.7 1474.7L971.3 1473.6L973.9 1474.7L976.4 1476.4L979.0 1477.6L981.6 1476.9L984.2 1474.5L986.7 1471.6L989.3 1467.8L991.9 1467.3L994.5 1471.1L997.0 1475.7L999.6 1478.1L1002.2 1479.1L1004.7 1480.0L1007.3 1480.0L1009.9 1481.2L1012.5 1481.2L1015.0 1480.7L1017.6 1481.2L1020.2 1481.3L1022.8 1481.6L1025.3 1481.2L1027.9 1479.5L1030.5 1476.8L1033.1 1474.4L1035.6 1470.8L1038.2 1466.7L1040.8 1462.4L1043.4 1447.2L1045.9 1409.6L1048.5 1352.5L1051.1 1301.0L1053.7 1292.1L1056.2 1340.3L1058.8 1401.2L1061.4 1442.3L1063.9 1462.3L1066.5 1470.7L1069.1 1473.6L1071.7 1474.4L1074.2 1476.2L1076.8 1477.5L1079.4 1477.5L1082.0 1478.0L1084.5 1478.3L1087.1 1479.1L1089.7 1479.4L1092.3 1478.5L1094.8 1478.7L1097.4 1480.0L1100.0 1480.2L1102.6 1479.4L1105.1 1479.6L1107.7 1480.5L1110.3 1480.0L1112.9 1480.4L1115.4 1480.9L1118.0 1480.4L1120.6 1481.2L1123.2 1480.7L1125.7 1480.0L1128.3 1481.1L1130.9 1481.2"/><path d="M746.7 1387.8L749.3 1298.3L751.9 1213.9L754.5 1191.8M1045.3 1409.6L1047.9 1352.5L1050.5 1301.0L1053.1 1292.1" fill="none" stroke-width="5" stroke-opacity="0.3" stroke-linecap="butt"/><path d="M476.5 1491.2L479.1 1490.8L481.6 1490.8L484.2 1489.3L486.8 1485.4L489.4 1482.7L491.9 1486.5L494.5 1489.3L497.1 1490.1L499.7 1490.7L502.2 1490.6L504.8 1488.3L507.4 1488.8L510.0 1489.6L512.5 1487.4L515.1 1483.1L517.7 1476.8L520.3 1479.1L522.8 1484.9L525.4 1487.9L528.0 1488.7L530.6 1489.5L533.1 1490.5L535.7 1489.0L538.3 1489.5L540.8 1491.1L543.4 1490.7L546.0 1490.0L548.6 1489.2L551.1 1488.6L553.7 1488.8L556.3 1488.3L558.9 1486.6L561.4 1486.4L564.0 1489.3L566.6 1490.5L569.2 1490.0L571.7 1490.0L574.3 1489.8L576.9 1489.1L579.5 1488.2L582.0 1487.8L584.6 1485.9L587.2 1482.9L589.8 1482.0L592.3 1484.7L594.9 1487.1L597.5 1489.0L600.1 1489.0L602.6 1488.6L605.2 1488.7L607.8 1487.8L610.3 1484.8L612.9 1479.5L615.5 1479.4L618.1 1483.7L620.6 1486.1L623.2 1488.5L625.8 1489.1L628.4 1489.1L630.9 1489.6L633.5 1490.9L636.1 1491.0L638.7 1489.4L641.2 1488.3L643.8 1487.3L646.4 1487.0L649.0 1488.1L651.5 1489.6L654.1 1488.9L656.7 1488.1L659.3 1488.3L661.8 1488.8L664.4 1489.6L667.0 1490.5L669.5 1490.6L672.1 1490.3L674.7 1490.5L677.3 1490.1L679.8 1490.3L682.4 1490.3L685.0 1490.2L687.6 1489.8L690.1 1489.2L692.7 1488.9L695.3 1487.6L697.9 1483.0L700.4 1479.7L703.0 1482.5L705.6 1485.5L708.2 1487.0L710.7 1485.6L713.3 1481.8L715.9 1483.2L718.5 1486.9L721.0 1489.6L723.6 1490.9L726.2 1490.6L728.8 1489.5L731.3 1488.9L733.9 1481.5L736.5 1454.8L739.0 1395.5L741.6 1303.4L744.2 1217.1L746.8 1193.8L749.3 1261.9L751.9 1356.9L754.5 1424.9L757.1 1459.9L759.6 1473.8L762.2 1479.3L764.8 1482.8L767.4 1484.5L769.9 1485.5L772.5 1486.1L775.1 1486.7L777.7 1487.7L780.2 1487.4L782.8 1486.9L785.4 1487.1L788.0 1487.3L790.5 1487.7L793.1 1487.7L795.7 1486.4L798.2 1482.4L800.8 1475.4L803.4 1467.5L806.0 1464.8L808.5 1472.6L811.1 1480.9L813.7 1485.7L816.3 1488.6L818.8 1488.9L821.4 1488.9L824.0 1490.0L826.6 1489.8L829.1 1488.2L831.7 1489.2L834.3 1489.3L836.9 1488.9L839.4 1489.8L842.0 1489.4L844.6 1489.5L847.2 1488.4L849.7 1486.8L852.3 1486.9L854.9 1486.2L857.5 1485.4L860.0 1484.1L862.6 1481.6L865.2 1481.2L867.7 1481.3L870.3 1480.6L872.9 1480.7L875.5 1481.4L878.0 1483.4L880.6 1485.6L883.2 1486.4L885.8 1487.1L888.3 1488.2L890.9 1488.1L893.5 1487.5L896.1 1488.1L898.6 1489.0L901.2 1488.9L903.8 1489.5L906.4 1489.5L908.9 1488.7L911.5 1487.0L914.1 1485.5L916.7 1485.6L919.2 1485.0L921.8 1485.1L924.4 1483.9L926.9 1481.5L929.5 1482.2L932.1 1483.2L934.7 1483.4L937.2 1485.5L939.8 1486.4L942.4 1486.0L945.0 1487.0L947.5 1488.2L950.1 1488.3L952.7 1489.0L955.3 1488.8L957.8 1486.3L960.4 1484.6L963.0 1482.9L965.6 1483.7L968.1 1487.2L970.7 1488.1L973.3 1487.1L975.9 1484.5L978.4 1480.5L981.0 1476.5L983.6 1477.1L986.2 1481.8L988.7 1485.7L991.3 1488.4L993.9 1488.8L996.4 1489.1L999.0 1490.1L1001.6 1490.9L1004.2 1490.4L1006.7 1489.5L1009.3 1490.2L1011.9 1490.5L1014.5 1490.7L1017.0 1491.1L1019.6 1490.4L1022.2 1488.4L1024.8 1485.4L1027.3 1482.4L1029.9 1478.3L1032.5 1472.1L1035.1 1457.3L1037.6 1421.1L1040.2 1364.8L1042.8 1314.7L1045.4 1306.0L1047.9 1352.7L1050.5 1411.4L1053.1 1452.6L1055.6 1472.4L1058.2 1480.4L1060.8 1484.5L1063.4 1486.5L1065.9 1487.3L1068.5 1486.9L1071.1 1487.3L1073.7 1487.9L1076.2 1489.5L1078.8 1490.5L1081.4 1490.2L1084.0 1490.5L1086.5 1489.9L1089.1 1489.5L1091.7 1490.2L1094.3 1490.1L1096.8 1490.6L1099.4 1491.3L1102.0 1491.3L1104.6 1490.8L1107.1 1490.3L1109.7 1490.3L1112.3 1490.0L1114.9 1490.9L1117.4 1491.6L1120.0 1491.0L1122.6 1491.2"/><path d="M738.4 1395.5L741.0 1303.4L743.6 1217.1L746.2 1193.8M1037.0 1421.1L1039.6 1364.8L1042.2 1314.7L1044.8 1306.0" fill="none" stroke-width="5" stroke-opacity="0.3" stroke-linecap="butt"/><path d="M468.2 1501.3L470.8 1501.7L473.3 1501.1L475.9 1499.5L478.5 1495.7L481.1 1491.1L483.6 1494.3L486.2 1498.1L488.8 1499.4L491.4 1499.5L493.9 1500.7L496.5 1500.8L499.1 1500.4L501.7 1499.3L504.2 1497.8L506.8 1493.3L509.4 1485.9L512.0 1489.0L514.5 1495.5L517.1 1497.2L519.7 1499.1L522.3 1499.9L524.8 1500.7L527.4 1501.1L530.0 1501.1L532.5 1501.0L535.1 1500.9L537.7 1502.0L540.3 1500.6L542.8 1497.9L545.4 1497.8L548.0 1498.0L550.6 1497.5L553.1 1498.3L555.7 1498.5L558.3 1498.2L560.9 1499.4L563.4 1500.2L566.0 1499.5L568.6 1500.3L571.2 1499.3L573.7 1496.7L576.3 1495.4L578.9 1491.5L581.5 1490.1L584.0 1494.8L586.6 1497.0L589.2 1498.1L591.8 1499.1L594.3 1498.5L596.9 1497.6L599.5 1496.6L602.0 1494.9L604.6 1491.2L607.2 1489.0L609.8 1493.4L612.3 1497.5L614.9 1499.3L617.5 1500.1L620.1 1500.5L622.6 1499.8L625.2 1499.6L627.8 1500.3L630.4 1499.6L632.9 1498.7L635.5 1498.8L638.1 1498.9L640.7 1498.1L643.2 1497.7L645.8 1497.4L648.4 1498.2L651.0 1498.7L653.5 1499.1L656.1 1499.5L658.7 1499.7L661.2 1500.5L663.8 1500.6L666.4 1500.3L669.0 1499.3L671.5 1499.7L674.1 1500.5L676.7 1499.5L679.3 1500.4L681.8 1501.4L684.4 1500.2L687.0 1497.5L689.6 1492.2L692.1 1488.8L694.7 1491.9L697.3 1495.6L699.9 1498.2L702.4 1497.3L705.0 1492.4L707.6 1493.1L710.2 1497.9L712.7 1499.4L715.3 1500.3L717.9 1500.5L720.5 1499.1L723.0 1498.2L725.6 1491.4L728.2 1464.7L730.7 1405.0L733.3 1312.4L735.9 1225.7L738.5 1203.1L741.0 1271.0L743.6 1366.7L746.2 1435.5L748.8 1469.8L751.3 1484.4L753.9 1490.4L756.5 1492.6L759.1 1494.0L761.6 1495.7L764.2 1496.1L766.8 1496.3L769.4 1498.1L771.9 1497.7L774.5 1496.7L777.1 1497.5L779.7 1498.6L782.2 1498.4L784.8 1497.8L787.4 1496.6L789.9 1492.4L792.5 1485.6L795.1 1477.5L797.7 1474.9L800.2 1482.5L802.8 1490.3L805.4 1494.6L808.0 1497.3L810.5 1498.5L813.1 1497.7L815.7 1497.8L818.3 1499.2L820.8 1498.5L823.4 1498.4L826.0 1499.8L828.6 1499.4L831.1 1499.1L833.7 1499.4L836.3 1498.4L838.9 1497.6L841.4 1497.3L844.0 1496.4L846.6 1495.1L849.2 1492.7L851.7 1491.1L854.3 1490.3L856.9 1487.7L859.4 1487.0L862.0 1487.5L864.6 1487.6L867.2 1489.9L869.7 1492.8L872.3 1494.1L874.9 1494.6L877.5 1495.5L880.0 1496.7L882.6 1497.2L885.2 1497.1L887.8 1498.4L890.3 1498.5L892.9 1497.9L895.5 1498.7L898.1 1498.6L900.6 1497.0L903.2 1495.7L905.8 1496.5L908.4 1495.8L910.9 1493.9L913.5 1492.8L916.1 1491.9L918.6 1491.9L921.2 1491.4L923.8 1491.8L926.4 1493.4L928.9 1494.5L931.5 1495.9L934.1 1496.3L936.7 1496.7L939.2 1498.0L941.8 1499.0L944.4 1499.1L947.0 1497.9L949.5 1496.5L952.1 1494.8L954.7 1493.5L957.3 1494.8L959.8 1496.4L962.4 1497.9L965.0 1496.6L967.6 1493.5L970.1 1490.3L972.7 1485.4L975.3 1485.9L977.9 1491.1L980.4 1495.6L983.0 1498.8L985.6 1499.7L988.1 1499.1L990.7 1499.9L993.3 1500.0L995.9 1500.2L998.4 1501.2L1001.0 1500.6L1003.6 1500.2L1006.2 1500.1L1008.7 1500.3L1011.3 1500.6L1013.9 1499.9L1016.5 1497.8L1019.0 1494.5L1021.6 1491.0L1024.2 1484.9L1026.8 1469.2L1029.3 1433.9L1031.9 1375.9L1034.5 1324.9L1037.1 1318.2L1039.6 1363.7L1042.2 1421.1L1044.8 1462.6L1047.3 1483.8L1049.9 1491.9L1052.5 1494.0L1055.1 1495.5L1057.6 1497.5L1060.2 1498.2L1062.8 1497.8L1065.4 1498.9L1067.9 1500.0L1070.5 1500.3L1073.1 1499.3L1075.7 1498.1L1078.2 1498.8L1080.8 1499.8L1083.4 1500.0L1086.0 1501.0L1088.5 1501.2L1091.1 1501.0L1093.7 1501.8L1096.3 1501.5L1098.8 1501.1L1101.4 1500.6L1104.0 1500.2L1106.6 1500.3L1109.1 1501.1L1111.7 1501.0L1114.3 1501.3"/><path d="M730.1 1405.0L732.7 1312.4L735.3 1225.7L737.9 1203.1M1028.7 1433.9L1031.3 1375.9L1033.9 1324.9L1036.5 1318.2" fill="none" stroke-width="5" stroke-opacity="0.3" stroke-linecap="butt"/><path d="M459.9 1511.3L462.5 1510.1L465.0 1509.0L467.6 1508.5L470.2 1506.2L472.8 1502.2L475.3 1505.1L477.9 1508.3L480.5 1509.8L483.1 1510.1L485.6 1510.8L488.2 1510.2L490.8 1509.4L493.4 1509.9L495.9 1507.8L498.5 1502.8L501.1 1495.2L503.7 1496.4L506.2 1504.2L508.8 1507.7L511.4 1509.4L514.0 1510.4L516.5 1509.8L519.1 1509.5L521.7 1509.4L524.2 1509.9L526.8 1510.1L529.4 1510.0L532.0 1509.1L534.5 1508.9L537.1 1508.6L539.7 1507.8L542.3 1507.8L544.8 1508.2L547.4 1507.8L550.0 1508.5L552.6 1509.8L555.1 1509.7L557.7 1509.6L560.3 1509.5L562.9 1509.2L565.4 1508.1L568.0 1506.9L570.6 1504.1L573.2 1503.2L575.7 1506.2L578.3 1508.5L580.9 1510.1L583.5 1509.9L586.0 1508.7L588.6 1507.9L591.2 1507.0L593.7 1503.3L596.3 1498.6L598.9 1499.0L601.5 1503.9L604.0 1507.1L606.6 1508.3L609.2 1508.0L611.8 1509.5L614.3 1509.4L616.9 1508.1L619.5 1508.7L622.1 1509.0L624.6 1507.9L627.2 1507.7L629.8 1508.6L632.4 1508.2L634.9 1508.5L637.5 1508.4L640.1 1508.1L642.7 1508.6L645.2 1508.9L647.8 1509.9L650.4 1509.8L652.9 1510.0L655.5 1510.4L658.1 1510.8L660.7 1511.1L663.2 1510.8L665.8 1510.9L668.4 1510.7L671.0 1511.5L673.5 1511.4L676.1 1509.6L678.7 1507.2L681.3 1504.7L683.8 1503.2L686.4 1505.1L689.0 1507.1L691.6 1507.8L694.1 1506.3L696.7 1502.5L699.3 1503.3L701.9 1507.0L704.4 1509.6L707.0 1510.6L709.6 1510.5L712.2 1511.1L714.7 1508.9L717.3 1500.6L719.9 1476.2L722.4 1418.3L725.0 1328.7L727.6 1245.6L730.2 1223.7L732.7 1289.6L735.3 1382.1L737.9 1448.3L740.5 1480.5L743.0 1494.3L745.6 1500.2L748.2 1502.5L750.8 1503.6L753.3 1504.4L755.9 1505.6L758.5 1506.9L761.1 1507.3L763.6 1507.3L766.2 1508.0L768.8 1507.8L771.4 1507.5L773.9 1508.2L776.5 1507.4L779.1 1505.9L781.6 1503.1L784.2 1497.3L786.8 1489.1L789.4 1486.2L791.9 1494.0L794.5 1502.3L797.1 1505.5L799.7 1506.8L802.2 1508.6L804.8 1508.4L807.4 1508.9L810.0 1509.3L812.5 1509.9L815.1 1510.1L817.7 1509.7L820.3 1509.5L822.8 1509.0L825.4 1509.7L828.0 1510.2L830.6 1509.6L833.1 1507.8L835.7 1506.3L838.3 1505.3L840.9 1505.2L843.4 1505.2L846.0 1503.2L848.6 1501.1L851.1 1500.5L853.7 1500.4L856.3 1501.0L858.9 1502.9L861.4 1504.6L864.0 1505.3L866.6 1506.1L869.2 1507.1L871.7 1506.9L874.3 1507.5L876.9 1508.9L879.5 1509.5L882.0 1509.8L884.6 1509.1L887.2 1508.6L889.8 1508.6L892.3 1508.3L894.9 1507.7L897.5 1508.0L900.1 1508.7L902.6 1505.9L905.2 1503.1L907.8 1503.4L910.3 1504.1L912.9 1504.6L915.5 1503.8L918.1 1505.3L920.6 1507.0L923.2 1506.3L925.8 1506.9L928.4 1507.6L930.9 1508.2L933.5 1507.8L936.1 1508.3L938.7 1509.6L941.2 1507.9L943.8 1504.7L946.4 1503.4L949.0 1504.5L951.5 1506.4L954.1 1508.2L956.7 1506.6L959.3 1502.7L961.8 1498.4L964.4 1495.4L967.0 1497.5L969.6 1502.4L972.1 1506.1L974.7 1507.8L977.3 1508.7L979.8 1510.2L982.4 1510.6L985.0 1510.2L987.6 1510.3L990.1 1510.4L992.7 1510.6L995.3 1510.3L997.9 1510.1L1000.4 1510.0L1003.0 1509.7L1005.6 1508.2L1008.2 1505.2L1010.7 1502.5L1013.3 1498.1L1015.9 1491.9L1018.5 1477.4L1021.0 1442.3L1023.6 1387.8L1026.2 1338.3L1028.8 1330.1L1031.3 1376.1L1033.9 1434.5L1036.5 1473.2L1039.0 1492.8L1041.6 1501.8L1044.2 1504.1L1046.8 1505.5L1049.3 1506.6L1051.9 1507.3L1054.5 1507.5L1057.1 1508.2L1059.6 1507.8L1062.2 1508.7L1064.8 1510.1L1067.4 1510.0L1069.9 1510.5L1072.5 1510.3L1075.1 1509.5L1077.7 1510.1L1080.2 1511.1L1082.8 1510.5L1085.4 1510.0L1088.0 1509.5L1090.5 1509.4L1093.1 1510.2L1095.7 1510.8L1098.3 1510.9L1100.8 1510.8L1103.4 1511.6L1106.0 1511.3"/><path d="M721.8 1418.3L724.4 1328.7L727.0 1245.6L729.6 1223.7M1020.4 1442.3L1023.0 1387.8L1025.6 1338.3L1028.2 1330.1" fill="none" stroke-width="5" stroke-opacity="0.3" stroke-linecap="butt"/><path d="M451.6 1521.3L454.2 1521.0L456.7 1520.9L459.3 1519.1L461.9 1514.7L464.5 1509.7L467.0 1514.6L469.6 1519.4L472.2 1519.9L474.8 1519.5L477.3 1520.0L479.9 1519.9L482.5 1520.2L485.1 1519.8L487.6 1517.5L490.2 1512.4L492.8 1505.5L495.4 1509.1L497.9 1516.1L500.5 1518.1L503.1 1518.7L505.7 1519.1L508.2 1518.9L510.8 1518.7L513.4 1519.2L515.9 1519.4L518.5 1520.5L521.1 1520.2L523.7 1518.9L526.2 1519.0L528.8 1518.3L531.4 1517.4L534.0 1517.7L536.5 1518.2L539.1 1518.7L541.7 1519.1L544.3 1519.7L546.8 1519.9L549.4 1520.7L552.0 1521.0L554.6 1520.6L557.1 1519.8L559.7 1516.8L562.3 1513.4L564.9 1513.0L567.4 1516.0L570.0 1517.6L572.6 1519.1L575.2 1519.8L577.7 1519.9L580.3 1520.1L582.9 1518.2L585.4 1515.7L588.0 1511.3L590.6 1509.7L593.2 1514.5L595.7 1518.2L598.3 1519.3L600.9 1520.8L603.5 1521.0L606.0 1520.6L608.6 1519.8L611.2 1519.7L613.8 1519.3L616.3 1518.9L618.9 1518.4L621.5 1517.5L624.1 1517.9L626.6 1517.6L629.2 1517.5L631.8 1517.5L634.4 1517.5L636.9 1518.7L639.5 1520.4L642.1 1521.8L644.6 1521.7L647.2 1520.3L649.8 1520.0L652.4 1520.4L654.9 1520.7L657.5 1521.0L660.1 1520.9L662.7 1520.2L665.2 1520.6L667.8 1519.7L670.4 1517.9L673.0 1515.1L675.5 1511.9L678.1 1514.2L680.7 1517.2L683.3 1518.3L685.8 1516.1L688.4 1512.8L691.0 1513.2L693.6 1516.7L696.1 1520.0L698.7 1520.7L701.3 1521.2L703.9 1521.9L706.4 1519.9L709.0 1510.8L711.6 1485.6L714.1 1426.9L716.7 1335.3L719.3 1249.7L721.9 1226.8L724.4 1294.1L727.0 1388.0L729.6 1455.9L732.2 1489.9L734.7 1503.8L737.3 1509.7L739.9 1512.0L742.5 1514.1L745.0 1516.2L747.6 1516.7L750.2 1517.3L752.8 1518.5L755.3 1518.8L757.9 1518.2L760.5 1517.9L763.1 1519.2L765.6 1518.6L768.2 1516.1L770.8 1514.2L773.3 1511.9L775.9 1505.5L778.5 1495.5L781.1 1492.2L783.6 1500.6L786.2 1510.4L788.8 1515.2L791.4 1516.8L793.9 1518.7L796.5 1519.6L799.1 1519.2L801.7 1519.2L804.2 1519.2L806.8 1518.9L809.4 1518.8L812.0 1519.2L814.5 1519.8L817.1 1519.2L819.7 1517.6L822.3 1516.4L824.8 1516.3L827.4 1516.2L830.0 1514.3L832.6 1512.2L835.1 1511.1L837.7 1509.9L840.3 1509.1L842.8 1508.5L845.4 1508.8L848.0 1510.0L850.6 1511.2L853.1 1512.9L855.7 1515.3L858.3 1516.8L860.9 1516.8L863.4 1517.4L866.0 1518.3L868.6 1518.6L871.2 1518.4L873.7 1518.3L876.3 1519.0L878.9 1519.3L881.5 1518.8L884.0 1518.8L886.6 1518.8L889.2 1517.7L891.8 1516.6L894.3 1514.6L896.9 1513.3L899.5 1513.5L902.0 1513.2L904.6 1512.3L907.2 1513.1L909.8 1514.9L912.3 1515.8L914.9 1516.8L917.5 1517.3L920.1 1517.5L922.6 1518.6L925.2 1519.5L927.8 1518.2L930.4 1518.1L932.9 1517.9L935.5 1516.2L938.1 1515.9L940.7 1516.5L943.2 1516.5L945.8 1517.5L948.4 1518.2L951.0 1515.8L953.5 1511.3L956.1 1507.7L958.7 1508.0L961.3 1512.5L963.8 1516.2L966.4 1519.1L969.0 1519.8L971.5 1519.4L974.1 1519.6L976.7 1519.4L979.3 1520.1L981.8 1520.7L984.4 1521.0L987.0 1521.9L989.6 1521.5L992.1 1520.2L994.7 1520.1L997.3 1518.3L999.9 1515.1L1002.4 1511.5L1005.0 1507.9L1007.6 1503.6L1010.2 1488.6L1012.7 1452.7L1015.3 1398.6L1017.9 1350.1L1020.5 1342.1L1023.0 1387.3L1025.6 1444.5L1028.2 1484.8L1030.7 1503.7L1033.3 1511.4L1035.9 1515.2L1038.5 1516.3L1041.0 1517.2L1043.6 1518.5L1046.2 1518.7L1048.8 1518.1L1051.3 1518.7L1053.9 1518.7L1056.5 1519.6L1059.1 1521.7L1061.6 1521.4L1064.2 1519.5L1066.8 1519.2L1069.4 1520.2L1071.9 1520.8L1074.5 1520.5L1077.1 1521.3L1079.7 1521.8L1082.2 1521.3L1084.8 1520.4L1087.4 1520.4L1090.0 1520.4L1092.5 1520.2L1095.1 1521.7L1097.7 1521.3"/><path d="M713.5 1426.9L716.1 1335.3L718.7 1249.7L721.3 1226.8M1012.1 1452.7L1014.7 1398.6L1017.3 1350.1L1019.9 1342.1" fill="none" stroke-width="5" stroke-opacity="0.3" stroke-linecap="butt"/><path d="M443.3 1531.4L445.9 1532.0L448.4 1531.6L451.0 1529.9L453.6 1526.8L456.2 1523.4L458.7 1526.9L461.3 1529.3L463.9 1530.1L466.5 1530.7L469.0 1530.0L471.6 1530.0L474.2 1530.0L476.8 1529.8L479.3 1528.5L481.9 1524.4L484.5 1518.8L487.1 1520.5L489.6 1526.6L492.2 1529.3L494.8 1530.1L497.4 1530.0L499.9 1529.6L502.5 1530.7L505.1 1530.8L507.6 1530.4L510.2 1530.3L512.8 1530.0L515.4 1530.4L517.9 1529.2L520.5 1527.6L523.1 1528.1L525.7 1529.0L528.2 1529.0L530.8 1529.2L533.4 1529.8L536.0 1529.5L538.5 1529.0L541.1 1529.5L543.7 1529.5L546.3 1528.5L548.8 1528.3L551.4 1527.4L554.0 1523.2L556.6 1521.4L559.1 1524.1L561.7 1526.3L564.3 1528.2L566.9 1528.5L569.4 1529.3L572.0 1529.6L574.6 1528.1L577.1 1524.7L579.7 1520.1L582.3 1521.3L584.9 1525.1L587.4 1527.4L590.0 1529.2L592.6 1529.7L595.2 1530.2L597.7 1529.8L600.3 1529.8L602.9 1530.4L605.5 1529.6L608.0 1528.7L610.6 1529.0L613.2 1528.5L615.8 1528.4L618.3 1527.8L620.9 1527.5L623.5 1528.5L626.1 1528.8L628.6 1529.7L631.2 1530.8L633.8 1530.5L636.3 1530.1L638.9 1529.7L641.5 1529.8L644.1 1530.9L646.6 1530.9L649.2 1530.0L651.8 1529.7L654.4 1529.7L656.9 1530.4L659.5 1529.3L662.1 1527.5L664.7 1524.7L667.2 1522.4L669.8 1524.3L672.4 1526.6L675.0 1526.9L677.5 1523.3L680.1 1519.3L682.7 1522.6L685.3 1528.0L687.8 1530.1L690.4 1530.1L693.0 1529.9L695.6 1530.1L698.1 1528.5L700.7 1520.6L703.3 1495.4L705.8 1437.4L708.4 1348.6L711.0 1265.7L713.6 1244.8L716.1 1311.4L718.7 1402.5L721.3 1468.2L723.9 1501.2L726.4 1513.8L729.0 1519.6L731.6 1523.1L734.2 1524.9L736.7 1525.8L739.3 1526.7L741.9 1527.2L744.5 1527.3L747.0 1527.6L749.6 1527.6L752.2 1527.9L754.8 1528.1L757.3 1527.1L759.9 1526.6L762.5 1525.6L765.0 1522.1L767.6 1515.5L770.2 1506.3L772.8 1503.6L775.3 1511.5L777.9 1520.2L780.5 1525.5L783.1 1527.0L785.6 1527.8L788.2 1528.3L790.8 1528.4L793.4 1528.7L795.9 1529.2L798.5 1529.5L801.1 1528.0L803.7 1527.6L806.2 1528.1L808.8 1528.0L811.4 1527.6L814.0 1527.6L816.5 1527.4L819.1 1525.5L821.7 1523.3L824.3 1521.9L826.8 1520.5L829.4 1518.6L832.0 1517.1L834.5 1516.7L837.1 1517.5L839.7 1518.1L842.3 1520.0L844.8 1522.3L847.4 1523.6L850.0 1525.2L852.6 1526.1L855.1 1526.9L857.7 1527.8L860.3 1528.6L862.9 1529.2L865.4 1528.6L868.0 1528.1L870.6 1528.4L873.2 1528.0L875.7 1527.2L878.3 1526.5L880.9 1524.9L883.5 1524.0L886.0 1523.2L888.6 1521.6L891.2 1520.7L893.7 1520.8L896.3 1520.4L898.9 1520.5L901.5 1522.0L904.0 1523.5L906.6 1524.8L909.2 1526.4L911.8 1527.2L914.3 1528.3L916.9 1529.0L919.5 1529.0L922.1 1528.7L924.6 1526.4L927.2 1524.0L929.8 1522.8L932.4 1523.7L934.9 1525.8L937.5 1527.2L940.1 1526.5L942.7 1522.9L945.2 1517.8L947.8 1514.1L950.4 1515.9L953.0 1520.8L955.5 1525.3L958.1 1528.1L960.7 1529.4L963.2 1529.3L965.8 1529.9L968.4 1530.5L971.0 1529.5L973.5 1530.9L976.1 1531.4L978.7 1530.0L981.3 1529.4L983.8 1530.6L986.4 1530.9L989.0 1529.5L991.6 1527.5L994.1 1524.2L996.7 1519.3L999.3 1513.2L1001.9 1497.9L1004.4 1459.6L1007.0 1399.5L1009.6 1345.7L1012.2 1337.5L1014.7 1386.1L1017.3 1447.9L1019.9 1491.3L1022.4 1511.7L1025.0 1519.3L1027.6 1523.2L1030.2 1525.7L1032.7 1526.2L1035.3 1526.9L1037.9 1527.6L1040.5 1527.9L1043.0 1528.6L1045.6 1529.1L1048.2 1529.0L1050.8 1529.5L1053.3 1529.4L1055.9 1530.4L1058.5 1531.7L1061.1 1530.2L1063.6 1529.7L1066.2 1530.7L1068.8 1530.8L1071.4 1530.1L1073.9 1530.5L1076.5 1530.7L1079.1 1530.6L1081.7 1531.0L1084.2 1531.0L1086.8 1530.5L1089.4 1531.4"/><path d="M705.2 1437.4L707.8 1348.6L710.4 1265.7L713.0 1244.8M1003.8 1459.6L1006.4 1399.5L1009.0 1345.7L1011.6 1337.5" fill="none" stroke-width="5" stroke-opacity="0.3" stroke-linecap="butt"/><path d="M435.0 1541.4L437.6 1540.7L440.1 1540.5L442.7 1539.5L445.3 1537.0L447.9 1533.9L450.4 1537.5L453.0 1540.7L455.6 1540.6L458.2 1540.2L460.7 1540.5L463.3 1540.5L465.9 1541.2L468.5 1540.9L471.0 1537.7L473.6 1533.2L476.2 1527.1L478.8 1529.1L481.3 1535.9L483.9 1538.8L486.5 1539.9L489.1 1540.3L491.6 1540.8L494.2 1541.2L496.8 1540.9L499.3 1540.5L501.9 1540.4L504.5 1539.5L507.1 1539.0L509.6 1539.2L512.2 1539.0L514.8 1538.2L517.4 1538.2L519.9 1539.6L522.5 1540.1L525.1 1539.6L527.7 1540.1L530.2 1540.1L532.8 1539.7L535.4 1540.8L538.0 1540.6L540.5 1538.2L543.1 1536.4L545.7 1534.5L548.3 1533.1L550.8 1535.1L553.4 1537.2L556.0 1539.0L558.6 1539.7L561.1 1539.4L563.7 1538.4L566.3 1536.3L568.8 1533.8L571.4 1529.3L574.0 1528.3L576.6 1533.4L579.1 1537.4L581.7 1539.8L584.3 1539.9L586.9 1540.3L589.4 1540.2L592.0 1540.1L594.6 1540.3L597.2 1539.9L599.7 1539.8L602.3 1539.4L604.9 1538.4L607.5 1536.8L610.0 1537.7L612.6 1539.0L615.2 1538.8L617.8 1539.7L620.3 1539.9L622.9 1540.2L625.5 1540.7L628.0 1539.9L630.6 1540.9L633.2 1541.5L635.8 1540.4L638.3 1540.9L640.9 1540.8L643.5 1540.1L646.1 1540.2L648.6 1539.4L651.2 1538.9L653.8 1537.0L656.4 1532.4L658.9 1529.6L661.5 1532.5L664.1 1536.0L666.7 1536.9L669.2 1536.1L671.8 1533.7L674.4 1534.8L677.0 1537.5L679.5 1539.5L682.1 1540.4L684.7 1540.9L687.3 1541.1L689.8 1538.8L692.4 1531.2L695.0 1506.7L697.5 1450.9L700.1 1363.2L702.7 1279.1L705.3 1256.9L707.8 1323.0L710.4 1413.2L713.0 1478.2L715.6 1511.9L718.1 1525.6L720.7 1530.2L723.3 1531.6L725.9 1534.3L728.4 1536.2L731.0 1536.2L733.6 1536.1L736.2 1538.0L738.7 1539.3L741.3 1538.1L743.9 1539.0L746.5 1539.1L749.0 1538.3L751.6 1537.8L754.2 1537.1L756.7 1534.7L759.3 1529.5L761.9 1522.5L764.5 1520.1L767.0 1526.5L769.6 1533.7L772.2 1536.5L774.8 1537.1L777.3 1538.2L779.9 1539.3L782.5 1540.1L785.1 1539.1L787.6 1538.7L790.2 1539.9L792.8 1540.1L795.4 1539.6L797.9 1539.5L800.5 1539.8L803.1 1538.8L805.7 1537.6L808.2 1537.5L810.8 1537.6L813.4 1536.6L816.0 1534.6L818.5 1532.5L821.1 1531.3L823.7 1530.0L826.2 1529.2L828.8 1530.2L831.4 1532.4L834.0 1533.8L836.5 1534.7L839.1 1535.6L841.7 1536.0L844.3 1536.3L846.8 1537.2L849.4 1538.9L852.0 1538.2L854.6 1537.7L857.1 1539.0L859.7 1539.2L862.3 1539.4L864.9 1538.7L867.4 1537.3L870.0 1536.1L872.6 1534.8L875.2 1534.0L877.7 1532.6L880.3 1531.8L882.9 1531.5L885.4 1530.8L888.0 1531.2L890.6 1531.9L893.2 1532.7L895.7 1533.6L898.3 1534.8L900.9 1537.1L903.5 1538.0L906.0 1537.3L908.6 1538.6L911.2 1539.8L913.8 1538.6L916.3 1537.8L918.9 1536.2L921.5 1534.2L924.1 1535.5L926.6 1537.2L929.2 1537.2L931.8 1537.2L934.4 1534.8L936.9 1529.7L939.5 1526.0L942.1 1527.1L944.7 1531.2L947.2 1535.5L949.8 1537.8L952.4 1538.7L954.9 1540.2L957.5 1540.4L960.1 1539.7L962.7 1539.7L965.2 1540.5L967.8 1540.7L970.4 1539.8L973.0 1539.8L975.5 1539.7L978.1 1538.7L980.7 1537.9L983.3 1535.8L985.8 1532.5L988.4 1528.5L991.0 1522.8L993.6 1508.0L996.1 1470.7L998.7 1412.6L1001.3 1360.5L1003.9 1351.7L1006.4 1400.2L1009.0 1460.8L1011.6 1501.8L1014.1 1521.9L1016.7 1530.3L1019.3 1532.8L1021.9 1534.1L1024.4 1536.5L1027.0 1537.5L1029.6 1537.5L1032.2 1538.1L1034.7 1539.9L1037.3 1540.3L1039.9 1539.7L1042.5 1539.0L1045.0 1540.0L1047.6 1540.4L1050.2 1539.7L1052.8 1540.1L1055.3 1540.2L1057.9 1540.7L1060.5 1540.1L1063.1 1540.2L1065.6 1540.3L1068.2 1540.4L1070.8 1541.1L1073.4 1541.2L1075.9 1541.2L1078.5 1541.2L1081.1 1541.4"/><path d="M696.9 1450.9L699.5 1363.2L702.1 1279.1L704.7 1256.9M995.5 1470.7L998.1 1412.6L1000.7 1360.5L1003.3 1351.7" fill="none" stroke-width="5" stroke-opacity="0.3" stroke-linecap="butt"/><path d="M426.7 1551.4L429.3 1550.1L431.8 1550.5L434.4 1549.9L437.0 1545.4L439.6 1540.5L442.1 1545.0L444.7 1548.6L447.3 1549.3L449.9 1549.8L452.4 1549.9L455.0 1549.0L457.6 1549.4L460.2 1550.1L462.7 1547.6L465.3 1541.6L467.9 1534.4L470.5 1536.6L473.0 1544.0L475.6 1547.7L478.2 1549.3L480.8 1550.0L483.3 1549.8L485.9 1550.1L488.5 1549.7L491.0 1549.3L493.6 1550.0L496.2 1549.8L498.8 1549.8L501.3 1549.2L503.9 1546.5L506.5 1546.2L509.1 1547.0L511.6 1547.5L514.2 1548.0L516.8 1548.8L519.4 1549.4L521.9 1549.6L524.5 1550.2L527.1 1549.9L529.7 1549.4L532.2 1549.1L534.8 1545.7L537.4 1540.8L540.0 1541.6L542.5 1545.0L545.1 1547.2L547.7 1548.9L550.3 1549.0L552.8 1549.5L555.4 1550.7L558.0 1549.2L560.5 1545.0L563.1 1540.0L565.7 1539.4L568.3 1544.4L570.8 1547.3L573.4 1549.0L576.0 1549.9L578.6 1550.0L581.1 1550.4L583.7 1549.7L586.3 1549.6L588.9 1550.0L591.4 1549.4L594.0 1549.3L596.6 1548.5L599.2 1547.4L601.7 1546.9L604.3 1547.2L606.9 1548.3L609.5 1548.6L612.0 1549.5L614.6 1550.3L617.2 1549.7L619.7 1549.8L622.3 1550.7L624.9 1551.8L627.5 1550.6L630.0 1550.2L632.6 1551.7L635.2 1551.9L637.8 1551.1L640.3 1549.7L642.9 1549.3L645.5 1548.1L648.1 1545.9L650.6 1544.3L653.2 1545.4L655.8 1547.6L658.4 1548.1L660.9 1546.0L663.5 1543.1L666.1 1544.2L668.7 1547.9L671.2 1550.0L673.8 1550.6L676.4 1551.0L679.0 1550.7L681.5 1548.5L684.1 1540.3L686.7 1514.9L689.2 1455.0L691.8 1364.4L694.4 1279.5L697.0 1257.0L699.5 1324.5L702.1 1417.5L704.7 1485.1L707.3 1519.5L709.8 1534.2L712.4 1539.3L715.0 1541.6L717.6 1544.4L720.1 1546.3L722.7 1546.9L725.3 1547.3L727.9 1548.2L730.4 1548.2L733.0 1548.2L735.6 1548.8L738.2 1548.4L740.7 1548.3L743.3 1549.0L745.9 1547.4L748.4 1544.3L751.0 1539.2L753.6 1532.5L756.2 1530.4L758.7 1536.5L761.3 1543.8L763.9 1547.0L766.5 1548.4L769.0 1549.6L771.6 1549.2L774.2 1549.3L776.8 1548.5L779.3 1549.2L781.9 1550.8L784.5 1550.2L787.1 1549.2L789.6 1549.2L792.2 1550.3L794.8 1549.3L797.4 1548.7L799.9 1548.7L802.5 1547.2L805.1 1546.5L807.7 1546.0L810.2 1544.4L812.8 1543.1L815.4 1542.3L817.9 1542.1L820.5 1542.5L823.1 1543.2L825.7 1544.9L828.2 1544.8L830.8 1545.0L833.4 1546.4L836.0 1547.8L838.5 1548.9L841.1 1549.0L843.7 1549.9L846.3 1549.8L848.8 1549.5L851.4 1549.8L854.0 1550.0L856.6 1549.2L859.1 1547.8L861.7 1547.5L864.3 1547.6L866.9 1547.2L869.4 1545.2L872.0 1544.2L874.6 1543.8L877.1 1543.1L879.7 1543.8L882.3 1543.7L884.9 1544.9L887.4 1546.5L890.0 1546.6L892.6 1548.2L895.2 1548.7L897.7 1548.2L900.3 1548.7L902.9 1549.3L905.5 1548.7L908.0 1546.7L910.6 1544.7L913.2 1542.9L915.8 1543.6L918.3 1545.9L920.9 1546.4L923.5 1546.2L926.1 1544.3L928.6 1539.3L931.2 1534.7L933.8 1535.1L936.4 1539.7L938.9 1544.7L941.5 1547.7L944.1 1549.2L946.6 1550.1L949.2 1550.5L951.8 1550.1L954.4 1550.2L956.9 1550.9L959.5 1550.6L962.1 1550.6L964.7 1550.7L967.2 1551.2L969.8 1550.1L972.4 1547.4L975.0 1544.0L977.5 1538.9L980.1 1534.9L982.7 1528.4L985.3 1512.9L987.8 1477.7L990.4 1421.1L993.0 1369.0L995.6 1359.6L998.1 1408.3L1000.7 1469.2L1003.3 1510.4L1005.8 1531.5L1008.4 1540.9L1011.0 1543.6L1013.6 1544.9L1016.1 1546.8L1018.7 1546.7L1021.3 1547.2L1023.9 1548.8L1026.4 1549.1L1029.0 1549.5L1031.6 1549.7L1034.2 1549.7L1036.7 1550.2L1039.3 1550.5L1041.9 1550.2L1044.5 1550.0L1047.0 1550.0L1049.6 1549.9L1052.2 1550.1L1054.8 1550.3L1057.3 1550.6L1059.9 1551.0L1062.5 1550.4L1065.1 1551.2L1067.6 1551.6L1070.2 1549.3L1072.8 1551.4"/><path d="M688.6 1455.0L691.2 1364.4L693.8 1279.5L696.4 1257.0M987.2 1477.7L989.8 1421.1L992.4 1369.0L995.0 1359.6" fill="none" stroke-width="5" stroke-opacity="0.3" stroke-linecap="butt"/><path d="M418.4 1561.5L421.0 1561.1L423.5 1560.4L426.1 1559.1L428.7 1555.6L431.3 1550.3L433.8 1554.8L436.4 1558.5L439.0 1559.4L441.6 1560.7L444.1 1560.4L446.7 1559.6L449.3 1559.9L451.9 1559.6L454.4 1556.6L457.0 1552.0L459.6 1545.2L462.2 1546.6L464.7 1554.5L467.3 1559.6L469.9 1561.3L472.5 1560.6L475.0 1559.9L477.6 1560.0L480.2 1560.1L482.7 1561.0L485.3 1560.7L487.9 1559.4L490.5 1559.7L493.0 1559.3L495.6 1558.7L498.2 1558.6L500.8 1558.1L503.3 1559.1L505.9 1559.1L508.5 1559.3L511.1 1560.4L513.6 1560.4L516.2 1560.3L518.8 1559.8L521.4 1559.7L523.9 1558.4L526.5 1556.5L529.1 1554.3L531.7 1555.1L534.2 1557.8L536.8 1558.8L539.4 1560.0L542.0 1560.6L544.5 1559.9L547.1 1558.6L549.7 1556.9L552.2 1554.3L554.8 1551.3L557.4 1550.8L560.0 1555.1L562.5 1558.1L565.1 1558.8L567.7 1560.0L570.3 1560.4L572.8 1560.3L575.4 1560.5L578.0 1559.6L580.6 1557.6L583.1 1557.5L585.7 1558.0L588.3 1557.8L590.9 1558.1L593.4 1557.0L596.0 1557.1L598.6 1558.2L601.2 1558.6L603.7 1559.0L606.3 1559.4L608.9 1559.7L611.4 1560.6L614.0 1561.1L616.6 1560.0L619.2 1560.5L621.7 1561.4L624.3 1560.3L626.9 1559.8L629.5 1559.7L632.0 1560.6L634.6 1560.3L637.2 1558.3L639.8 1555.9L642.3 1552.5L644.9 1553.4L647.5 1557.0L650.1 1558.6L652.6 1556.1L655.2 1552.1L657.8 1554.2L660.4 1557.1L662.9 1558.2L665.5 1560.1L668.1 1560.9L670.7 1559.6L673.2 1556.7L675.8 1550.2L678.4 1525.8L680.9 1467.2L683.5 1378.0L686.1 1294.6L688.7 1271.6L691.2 1338.1L693.8 1431.2L696.4 1497.8L699.0 1531.6L701.5 1544.4L704.1 1550.0L706.7 1553.7L709.3 1555.4L711.8 1555.2L714.4 1555.7L717.0 1557.4L719.6 1557.9L722.1 1557.8L724.7 1558.0L727.3 1559.1L729.9 1559.0L732.4 1558.1L735.0 1557.3L737.6 1556.5L740.1 1553.0L742.7 1545.7L745.3 1537.9L747.9 1534.3L750.4 1541.6L753.0 1550.5L755.6 1555.3L758.2 1557.2L760.7 1557.5L763.3 1558.0L765.9 1558.5L768.5 1559.8L771.0 1561.0L773.6 1560.2L776.2 1559.8L778.8 1559.6L781.3 1558.9L783.9 1559.5L786.5 1559.6L789.1 1558.9L791.6 1558.0L794.2 1556.6L796.8 1554.6L799.4 1552.3L801.9 1551.4L804.5 1550.7L807.1 1548.2L809.6 1546.9L812.2 1547.7L814.8 1550.1L817.4 1552.2L819.9 1552.7L822.5 1554.1L825.1 1554.7L827.7 1555.5L830.2 1557.2L832.8 1558.4L835.4 1559.5L838.0 1559.6L840.5 1559.5L843.1 1559.3L845.7 1558.7L848.3 1558.2L850.8 1557.4L853.4 1557.5L856.0 1557.0L858.6 1555.3L861.1 1553.5L863.7 1552.6L866.3 1552.2L868.8 1551.9L871.4 1551.9L874.0 1552.0L876.6 1553.5L879.1 1555.0L881.7 1555.9L884.3 1556.5L886.9 1557.8L889.4 1558.3L892.0 1558.4L894.6 1558.1L897.2 1557.1L899.7 1557.2L902.3 1556.6L904.9 1554.1L907.5 1554.3L910.0 1556.5L912.6 1557.5L915.2 1556.8L917.8 1553.3L920.3 1548.2L922.9 1544.7L925.5 1545.3L928.1 1549.8L930.6 1555.4L933.2 1557.8L935.8 1558.8L938.3 1559.5L940.9 1560.0L943.5 1560.4L946.1 1561.1L948.6 1561.2L951.2 1561.2L953.8 1561.3L956.4 1561.7L958.9 1561.7L961.5 1559.8L964.1 1558.6L966.7 1556.6L969.2 1554.8L971.8 1551.4L974.4 1544.4L977.0 1529.3L979.5 1491.9L982.1 1432.4L984.7 1379.2L987.3 1370.1L989.8 1419.4L992.4 1480.1L995.0 1521.2L997.5 1542.7L1000.1 1550.6L1002.7 1553.7L1005.3 1555.5L1007.8 1556.3L1010.4 1557.8L1013.0 1558.1L1015.6 1558.0L1018.1 1559.2L1020.7 1560.5L1023.3 1560.8L1025.9 1560.0L1028.4 1560.0L1031.0 1559.6L1033.6 1559.5L1036.2 1560.3L1038.7 1560.3L1041.3 1560.9L1043.9 1561.2L1046.5 1561.1L1049.0 1562.2L1051.6 1562.7L1054.2 1561.4L1056.8 1560.8L1059.3 1561.2L1061.9 1561.7L1064.5 1561.5"/><path d="M680.3 1467.2L682.9 1378.0L685.5 1294.6L688.1 1271.6M978.9 1491.9L981.5 1432.4L984.1 1379.2L986.7 1370.1" fill="none" stroke-width="5" stroke-opacity="0.3" stroke-linecap="butt"/><path d="M410.1 1571.5L412.7 1571.0L415.2 1570.1L417.8 1568.7L420.4 1565.7L423.0 1560.3L425.5 1564.5L428.1 1569.5L430.7 1569.7L433.3 1570.6L435.8 1571.4L438.4 1571.6L441.0 1571.7L443.6 1571.0L446.1 1568.8L448.7 1563.7L451.3 1557.4L453.9 1558.6L456.4 1564.1L459.0 1567.9L461.6 1569.9L464.2 1570.5L466.7 1570.9L469.3 1570.3L471.9 1570.0L474.4 1570.7L477.0 1570.8L479.6 1570.1L482.2 1569.8L484.7 1569.5L487.3 1568.7L489.9 1567.8L492.5 1567.1L495.0 1568.6L497.6 1569.7L500.2 1569.2L502.8 1569.8L505.3 1570.0L507.9 1569.7L510.5 1569.7L513.1 1569.4L515.6 1568.5L518.2 1565.8L520.8 1562.6L523.4 1562.4L525.9 1566.0L528.5 1567.6L531.1 1568.3L533.7 1569.4L536.2 1569.5L538.8 1569.6L541.4 1569.0L543.9 1566.0L546.5 1561.9L549.1 1560.8L551.7 1564.3L554.2 1567.9L556.8 1569.5L559.4 1570.1L562.0 1570.2L564.5 1569.6L567.1 1568.5L569.7 1569.5L572.3 1570.2L574.8 1568.9L577.4 1569.0L580.0 1569.2L582.6 1568.7L585.1 1569.3L587.7 1568.9L590.3 1568.2L592.9 1568.9L595.4 1569.3L598.0 1569.6L600.6 1568.9L603.1 1569.2L605.7 1570.1L608.3 1570.6L610.9 1570.8L613.4 1570.8L616.0 1571.0L618.6 1571.2L621.2 1571.3L623.7 1570.4L626.3 1569.1L628.9 1567.7L631.5 1565.6L634.0 1563.3L636.6 1566.0L639.2 1568.1L641.8 1567.5L644.3 1565.9L646.9 1562.2L649.5 1564.1L652.1 1567.8L654.6 1569.5L657.2 1570.3L659.8 1570.6L662.4 1570.6L664.9 1568.1L667.5 1560.7L670.1 1536.2L672.6 1477.8L675.2 1387.0L677.8 1301.0L680.4 1279.3L682.9 1348.3L685.5 1441.2L688.1 1507.7L690.7 1541.4L693.2 1554.5L695.8 1560.3L698.4 1563.5L701.0 1565.6L703.5 1566.5L706.1 1566.9L708.7 1567.1L711.3 1566.8L713.8 1568.0L716.4 1568.9L719.0 1568.6L721.6 1568.0L724.1 1568.6L726.7 1568.5L729.3 1565.6L731.8 1562.4L734.4 1556.7L737.0 1548.0L739.6 1546.0L742.1 1553.0L744.7 1560.4L747.3 1565.5L749.9 1567.4L752.4 1568.0L755.0 1569.6L757.6 1570.0L760.2 1569.6L762.7 1569.8L765.3 1569.9L767.9 1570.3L770.5 1569.5L773.0 1568.9L775.6 1569.2L778.2 1568.9L780.8 1568.2L783.3 1567.3L785.9 1567.5L788.5 1566.6L791.1 1564.2L793.6 1562.0L796.2 1559.7L798.8 1559.2L801.3 1558.4L803.9 1558.1L806.5 1559.6L809.1 1561.3L811.6 1563.4L814.2 1564.0L816.8 1565.1L819.4 1566.9L821.9 1567.1L824.5 1566.9L827.1 1568.5L829.7 1569.6L832.2 1569.1L834.8 1568.1L837.4 1566.8L840.0 1567.4L842.5 1567.8L845.1 1566.8L847.7 1565.6L850.3 1565.1L852.8 1564.0L855.4 1563.1L858.0 1563.7L860.5 1563.4L863.1 1562.1L865.7 1561.8L868.3 1563.9L870.8 1566.3L873.4 1566.4L876.0 1568.2L878.6 1568.7L881.1 1567.4L883.7 1569.4L886.3 1569.6L888.9 1568.0L891.4 1566.6L894.0 1564.4L896.6 1563.6L899.2 1564.7L901.7 1566.0L904.3 1566.7L906.9 1566.2L909.5 1564.2L912.0 1559.4L914.6 1554.5L917.2 1554.9L919.8 1559.8L922.3 1565.1L924.9 1568.1L927.5 1569.0L930.0 1569.4L932.6 1570.4L935.2 1569.8L937.8 1568.8L940.3 1569.8L942.9 1571.1L945.5 1570.4L948.1 1570.2L950.6 1569.2L953.2 1568.1L955.8 1567.3L958.4 1564.6L960.9 1560.8L963.5 1555.1L966.1 1549.3L968.7 1535.6L971.2 1499.0L973.8 1442.0L976.4 1392.3L979.0 1384.7L981.5 1431.9L984.1 1490.4L986.7 1531.8L989.2 1552.7L991.8 1561.0L994.4 1563.8L997.0 1565.3L999.5 1566.6L1002.1 1567.1L1004.7 1568.4L1007.3 1568.8L1009.8 1568.5L1012.4 1569.6L1015.0 1569.9L1017.6 1568.0L1020.1 1568.6L1022.7 1570.0L1025.3 1570.6L1027.9 1570.8L1030.4 1570.5L1033.0 1570.5L1035.6 1570.3L1038.2 1571.2L1040.7 1570.8L1043.3 1570.4L1045.9 1571.4L1048.5 1571.3L1051.0 1571.3L1053.6 1571.2L1056.2 1571.5"/><path d="M672.0 1477.8L674.6 1387.0L677.2 1301.0L679.8 1279.3M970.6 1499.0L973.2 1442.0L975.8 1392.3L978.4 1384.7" fill="none" stroke-width="5" stroke-opacity="0.3" stroke-linecap="butt"/><path d="M401.8 1581.5L404.4 1580.5L406.9 1580.8L409.5 1579.2L412.1 1575.2L414.7 1570.1L417.2 1574.7L419.8 1578.9L422.4 1579.5L425.0 1580.5L427.5 1581.4L430.1 1581.0L432.7 1580.5L435.3 1579.7L437.8 1578.7L440.4 1574.8L443.0 1569.9L445.6 1572.0L448.1 1576.1L450.7 1578.2L453.3 1579.6L455.9 1580.2L458.4 1580.0L461.0 1580.3L463.6 1580.3L466.1 1580.7L468.7 1580.7L471.3 1580.7L473.9 1580.7L476.4 1579.8L479.0 1578.2L481.6 1577.3L484.2 1577.6L486.7 1578.1L489.3 1578.9L491.9 1579.2L494.5 1580.1L497.0 1579.9L499.6 1580.4L502.2 1580.4L504.8 1578.1L507.3 1577.8L509.9 1576.8L512.5 1573.6L515.1 1572.8L517.6 1576.3L520.2 1578.6L522.8 1579.1L525.4 1580.6L527.9 1581.0L530.5 1580.4L533.1 1578.7L535.6 1574.5L538.2 1569.8L540.8 1569.7L543.4 1574.6L545.9 1577.6L548.5 1580.1L551.1 1580.6L553.7 1579.6L556.2 1581.1L558.8 1580.8L561.4 1580.3L564.0 1580.7L566.5 1579.1L569.1 1579.4L571.7 1580.4L574.3 1579.9L576.8 1579.4L579.4 1579.1L582.0 1579.1L584.6 1579.6L587.1 1580.0L589.7 1580.2L592.3 1580.7L594.8 1580.7L597.4 1580.5L600.0 1581.2L602.6 1580.4L605.1 1580.5L607.7 1580.9L610.3 1580.6L612.9 1580.6L615.4 1579.6L618.0 1578.6L620.6 1576.5L623.2 1573.9L625.7 1570.3L628.3 1572.0L630.9 1576.7L633.5 1578.3L636.0 1574.9L638.6 1570.1L641.2 1573.0L643.8 1577.3L646.3 1578.6L648.9 1579.6L651.5 1580.7L654.1 1580.7L656.6 1578.5L659.2 1570.8L661.8 1546.9L664.3 1489.6L666.9 1401.3L669.5 1319.1L672.1 1296.2L674.6 1361.2L677.2 1452.5L679.8 1517.8L682.4 1550.6L684.9 1564.1L687.5 1571.0L690.1 1573.6L692.7 1575.9L695.2 1578.2L697.8 1576.9L700.4 1576.1L703.0 1577.5L705.5 1578.3L708.1 1578.3L710.7 1577.9L713.3 1578.2L715.8 1578.8L718.4 1578.2L721.0 1576.3L723.5 1572.3L726.1 1565.2L728.7 1555.3L731.3 1552.7L733.8 1561.4L736.4 1570.2L739.0 1575.9L741.6 1577.4L744.1 1578.1L746.7 1579.6L749.3 1579.7L751.9 1579.9L754.4 1579.8L757.0 1579.0L759.6 1578.7L762.2 1579.5L764.7 1579.9L767.3 1578.4L769.9 1578.0L772.5 1577.8L775.0 1576.3L777.6 1576.6L780.2 1575.6L782.8 1573.2L785.3 1571.9L787.9 1570.0L790.5 1569.1L793.0 1569.2L795.6 1569.3L798.2 1570.4L800.8 1571.8L803.3 1574.0L805.9 1574.8L808.5 1575.4L811.1 1577.0L813.6 1577.4L816.2 1578.2L818.8 1578.7L821.4 1578.9L823.9 1579.8L826.5 1580.1L829.1 1578.6L831.7 1578.6L834.2 1579.1L836.8 1577.1L839.4 1575.2L842.0 1574.5L844.5 1574.0L847.1 1573.5L849.7 1572.2L852.2 1571.5L854.8 1571.9L857.4 1573.5L860.0 1574.7L862.5 1575.9L865.1 1575.9L867.7 1576.4L870.3 1578.0L872.8 1578.3L875.4 1578.5L878.0 1578.5L880.6 1578.4L883.1 1578.2L885.7 1575.0L888.3 1573.1L890.9 1575.1L893.4 1577.1L896.0 1577.9L898.6 1576.8L901.2 1573.5L903.7 1569.5L906.3 1565.6L908.9 1566.4L911.5 1570.8L914.0 1575.3L916.6 1578.5L919.2 1578.9L921.7 1580.2L924.3 1580.8L926.9 1580.3L929.5 1580.8L932.0 1581.0L934.6 1580.3L937.2 1580.1L939.8 1580.6L942.3 1580.6L944.9 1579.7L947.5 1577.6L950.1 1574.8L952.6 1571.5L955.2 1567.1L957.8 1562.7L960.4 1549.3L962.9 1513.8L965.5 1456.7L968.1 1406.4L970.7 1398.6L973.2 1443.6L975.8 1502.7L978.4 1543.8L980.9 1563.3L983.5 1570.7L986.1 1574.7L988.7 1576.6L991.2 1576.7L993.8 1577.6L996.4 1578.5L999.0 1578.4L1001.5 1578.7L1004.1 1579.6L1006.7 1580.1L1009.3 1580.0L1011.8 1580.1L1014.4 1580.2L1017.0 1580.1L1019.6 1580.0L1022.1 1580.5L1024.7 1581.1L1027.3 1580.6L1029.9 1580.5L1032.4 1580.2L1035.0 1580.2L1037.6 1580.4L1040.2 1579.7L1042.7 1579.8L1045.3 1581.2L1047.9 1581.5"/><path d="M663.7 1489.6L666.3 1401.3L668.9 1319.1L671.5 1296.2M962.3 1513.8L964.9 1456.7L967.5 1406.4L970.1 1398.6" fill="none" stroke-width="5" stroke-opacity="0.3" stroke-linecap="butt"/><path d="M393.5 1591.5L396.1 1591.0L398.6 1589.4L401.2 1588.6L403.8 1586.5L406.4 1582.5L408.9 1586.0L411.5 1589.8L414.1 1591.6L416.7 1591.6L419.2 1590.9L421.8 1590.8L424.4 1590.8L427.0 1590.2L429.5 1588.0L432.1 1582.9L434.7 1575.8L437.3 1577.9L439.8 1584.4L442.4 1588.0L445.0 1590.2L447.6 1590.9L450.1 1590.6L452.7 1590.3L455.3 1591.1L457.8 1591.1L460.4 1590.4L463.0 1590.3L465.6 1589.3L468.1 1589.2L470.7 1589.2L473.3 1588.4L475.9 1587.5L478.4 1588.0L481.0 1589.5L483.6 1590.2L486.2 1589.9L488.7 1589.4L491.3 1590.0L493.9 1590.6L496.5 1590.2L499.0 1589.3L501.6 1587.8L504.2 1584.9L506.8 1583.7L509.3 1586.3L511.9 1588.6L514.5 1590.0L517.1 1590.5L519.6 1590.3L522.2 1589.0L524.8 1586.7L527.3 1583.8L529.9 1578.6L532.5 1577.7L535.1 1583.6L537.6 1587.9L540.2 1589.5L542.8 1589.9L545.4 1590.3L547.9 1590.0L550.5 1590.1L553.1 1590.7L555.7 1590.4L558.2 1589.6L560.8 1589.2L563.4 1588.5L566.0 1588.3L568.5 1588.6L571.1 1587.8L573.7 1587.5L576.3 1588.7L578.8 1590.0L581.4 1590.5L584.0 1590.3L586.5 1590.0L589.1 1589.2L591.7 1589.8L594.3 1590.9L596.8 1591.0L599.4 1591.0L602.0 1590.9L604.6 1591.2L607.1 1590.3L609.7 1589.2L612.3 1587.7L614.9 1585.3L617.4 1583.4L620.0 1584.6L622.6 1587.8L625.2 1589.0L627.7 1585.5L630.3 1581.0L632.9 1584.0L635.5 1588.6L638.0 1590.3L640.6 1591.0L643.2 1590.1L645.8 1590.1L648.3 1588.3L650.9 1580.7L653.5 1557.7L656.0 1501.3L658.6 1414.3L661.2 1333.6L663.8 1312.1L666.3 1376.1L668.9 1465.0L671.5 1529.9L674.1 1563.0L676.6 1575.2L679.2 1580.1L681.8 1582.7L684.4 1584.7L686.9 1585.7L689.5 1585.4L692.1 1586.3L694.7 1587.2L697.2 1587.6L699.8 1587.7L702.4 1587.9L705.0 1588.5L707.5 1588.3L710.1 1587.5L712.7 1586.9L715.2 1583.5L717.8 1576.0L720.4 1566.9L723.0 1564.4L725.5 1572.1L728.1 1580.0L730.7 1585.4L733.3 1587.8L735.8 1588.0L738.4 1588.3L741.0 1589.3L743.6 1590.2L746.1 1589.9L748.7 1589.9L751.3 1588.7L753.9 1588.5L756.4 1589.7L759.0 1588.7L761.6 1588.0L764.2 1588.7L766.7 1587.5L769.3 1585.7L771.9 1584.3L774.5 1582.7L777.0 1580.9L779.6 1578.2L782.2 1576.3L784.7 1575.9L787.3 1576.4L789.9 1577.5L792.5 1578.9L795.0 1580.6L797.6 1583.2L800.2 1584.5L802.8 1585.7L805.3 1586.9L807.9 1587.8L810.5 1588.4L813.1 1588.4L815.6 1588.7L818.2 1588.4L820.8 1588.1L823.4 1587.9L825.9 1587.5L828.5 1587.4L831.1 1586.6L833.7 1585.8L836.2 1585.5L838.8 1583.4L841.4 1581.4L843.9 1579.9L846.5 1579.6L849.1 1580.5L851.7 1582.1L854.2 1583.7L856.8 1584.4L859.4 1585.5L862.0 1586.8L864.5 1587.7L867.1 1588.8L869.7 1589.4L872.3 1589.2L874.8 1587.4L877.4 1584.7L880.0 1583.6L882.6 1584.4L885.1 1586.5L887.7 1587.3L890.3 1585.7L892.9 1583.8L895.4 1581.2L898.0 1578.7L900.6 1578.3L903.2 1581.5L905.7 1586.6L908.3 1588.5L910.9 1589.8L913.4 1591.0L916.0 1590.7L918.6 1590.8L921.2 1591.3L923.7 1590.1L926.3 1589.9L928.9 1590.8L931.5 1590.5L934.0 1591.2L936.6 1591.0L939.2 1588.9L941.8 1586.0L944.3 1583.1L946.9 1579.6L949.5 1573.9L952.1 1558.0L954.6 1521.2L957.2 1462.6L959.8 1409.3L962.4 1401.2L964.9 1450.3L967.5 1511.2L970.1 1551.7L972.6 1570.9L975.2 1579.9L977.8 1584.7L980.4 1586.0L982.9 1586.8L985.5 1588.1L988.1 1588.9L990.7 1589.3L993.2 1589.3L995.8 1589.0L998.4 1588.8L1001.0 1588.9L1003.5 1589.5L1006.1 1590.0L1008.7 1590.0L1011.3 1590.6L1013.8 1590.1L1016.4 1589.7L1019.0 1590.0L1021.6 1590.6L1024.1 1590.8L1026.7 1590.3L1029.3 1590.9L1031.9 1591.4L1034.4 1591.7L1037.0 1590.7L1039.6 1591.5"/><path d="M655.4 1501.3L658.0 1414.3L660.6 1333.6L663.2 1312.1M954.0 1521.2L956.6 1462.6L959.2 1409.3L961.8 1401.2" fill="none" stroke-width="5" stroke-opacity="0.3" stroke-linecap="butt"/><path d="M385.2 1601.6L387.8 1600.8L390.3 1600.4L392.9 1599.0L395.5 1596.7L398.1 1594.5L400.6 1597.2L403.2 1600.9L405.8 1601.9L408.4 1601.0L410.9 1601.0L413.5 1600.8L416.1 1600.4L418.7 1599.8L421.2 1598.7L423.8 1595.6L426.4 1590.3L429.0 1591.7L431.5 1596.5L434.1 1599.5L436.7 1600.8L439.3 1600.3L441.8 1601.2L444.4 1601.6L447.0 1600.5L449.5 1600.3L452.1 1601.2L454.7 1602.2L457.3 1601.3L459.8 1599.4L462.4 1598.8L465.0 1597.5L467.6 1597.6L470.1 1598.7L472.7 1599.4L475.3 1600.0L477.9 1600.1L480.4 1600.0L483.0 1599.8L485.6 1600.4L488.2 1600.5L490.7 1598.6L493.3 1596.7L495.9 1593.6L498.5 1591.7L501.0 1595.0L503.6 1598.0L506.2 1598.8L508.8 1599.1L511.3 1599.7L513.9 1599.6L516.5 1597.9L519.0 1594.9L521.6 1590.5L524.2 1590.0L526.8 1595.0L529.3 1598.2L531.9 1599.5L534.5 1600.2L537.1 1600.2L539.6 1599.8L542.2 1600.5L544.8 1601.9L547.4 1602.0L549.9 1599.6L552.5 1598.4L555.1 1598.5L557.7 1598.3L560.2 1598.1L562.8 1598.8L565.4 1600.2L568.0 1600.5L570.5 1600.1L573.1 1599.4L575.7 1599.6L578.2 1600.3L580.8 1601.3L583.4 1601.0L586.0 1600.6L588.5 1601.0L591.1 1600.8L593.7 1600.9L596.3 1601.0L598.8 1600.7L601.4 1600.2L604.0 1598.1L606.6 1594.3L609.1 1591.1L611.7 1594.1L614.3 1597.0L616.9 1596.9L619.4 1595.5L622.0 1592.3L624.6 1594.4L627.2 1598.7L629.7 1599.9L632.3 1600.1L634.9 1600.4L637.5 1599.9L640.0 1598.9L642.6 1591.8L645.2 1567.2L647.7 1510.5L650.3 1423.0L652.9 1341.7L655.5 1320.2L658.0 1384.8L660.6 1473.8L663.2 1538.6L665.8 1571.5L668.3 1583.8L670.9 1590.3L673.5 1593.3L676.1 1594.3L678.6 1595.5L681.2 1597.1L683.8 1598.0L686.4 1598.3L688.9 1598.9L691.5 1598.0L694.1 1598.1L696.7 1599.7L699.2 1600.1L701.8 1599.1L704.4 1596.8L706.9 1593.5L709.5 1588.5L712.1 1579.4L714.7 1576.1L717.2 1583.5L719.8 1591.7L722.4 1595.7L725.0 1597.4L727.5 1599.8L730.1 1600.7L732.7 1600.5L735.3 1600.2L737.8 1599.5L740.4 1599.8L743.0 1600.4L745.6 1599.0L748.1 1598.5L750.7 1599.5L753.3 1599.1L755.9 1598.9L758.4 1597.9L761.0 1596.0L763.6 1595.3L766.2 1593.9L768.7 1592.2L771.3 1591.0L773.9 1590.0L776.4 1589.9L779.0 1590.4L781.6 1590.9L784.2 1591.7L786.7 1593.5L789.3 1595.3L791.9 1597.0L794.5 1597.9L797.0 1598.0L799.6 1598.2L802.2 1599.1L804.8 1599.4L807.3 1598.4L809.9 1598.5L812.5 1598.3L815.1 1597.9L817.6 1597.8L820.2 1597.7L822.8 1597.1L825.4 1596.6L827.9 1596.1L830.5 1594.8L833.1 1595.0L835.6 1595.0L838.2 1593.6L840.8 1593.3L843.4 1594.1L845.9 1595.2L848.5 1598.0L851.1 1598.8L853.7 1598.4L856.2 1599.3L858.8 1599.6L861.4 1599.8L864.0 1599.8L866.5 1598.1L869.1 1596.0L871.7 1595.8L874.3 1596.8L876.8 1597.2L879.4 1597.2L882.0 1596.4L884.6 1594.1L887.1 1589.5L889.7 1585.1L892.3 1586.7L894.9 1590.9L897.4 1594.8L900.0 1598.2L902.6 1599.9L905.1 1600.0L907.7 1599.0L910.3 1599.3L912.9 1599.9L915.4 1600.8L918.0 1601.2L920.6 1600.5L923.2 1599.9L925.7 1599.7L928.3 1600.2L930.9 1598.7L933.5 1595.7L936.0 1591.1L938.6 1586.4L941.2 1581.5L943.8 1567.4L946.3 1532.0L948.9 1477.1L951.5 1428.2L954.1 1420.7L956.6 1465.7L959.2 1522.5L961.8 1562.8L964.3 1582.8L966.9 1590.4L969.5 1594.2L972.1 1596.1L974.6 1597.2L977.2 1598.7L979.8 1599.5L982.4 1599.7L984.9 1599.6L987.5 1599.7L990.1 1600.1L992.7 1601.1L995.2 1600.7L997.8 1599.6L1000.4 1599.7L1003.0 1600.4L1005.5 1600.6L1008.1 1601.4L1010.7 1601.8L1013.3 1600.6L1015.8 1600.3L1018.4 1601.2L1021.0 1601.1L1023.6 1600.8L1026.1 1600.9L1028.7 1601.5L1031.3 1601.6"/><path d="M647.1 1510.5L649.7 1423.0L652.3 1341.7L654.9 1320.2M945.7 1532.0L948.3 1477.1L950.9 1428.2L953.5 1420.7" fill="none" stroke-width="5" stroke-opacity="0.3" stroke-linecap="butt"/><path d="M376.9 1611.6L379.5 1612.0L382.0 1612.1L384.6 1610.4L387.2 1606.2L389.8 1601.7L392.3 1604.5L394.9 1608.1L397.5 1610.7L400.1 1610.9L402.6 1610.3L405.2 1610.2L407.8 1610.7L410.4 1610.2L412.9 1608.2L415.5 1604.7L418.1 1598.8L420.7 1599.2L423.2 1606.0L425.8 1609.6L428.4 1609.9L431.0 1609.9L433.5 1609.8L436.1 1610.9L438.7 1610.6L441.2 1610.5L443.8 1610.0L446.4 1608.7L449.0 1609.2L451.5 1609.1L454.1 1608.3L456.7 1608.6L459.3 1608.0L461.8 1607.7L464.4 1608.3L467.0 1608.6L469.6 1608.8L472.1 1609.1L474.7 1609.9L477.3 1610.2L479.9 1609.6L482.4 1608.6L485.0 1606.5L487.6 1601.8L490.2 1600.6L492.7 1604.2L495.3 1607.6L497.9 1609.7L500.5 1610.0L503.0 1610.2L505.6 1609.8L508.2 1608.6L510.7 1606.2L513.3 1601.3L515.9 1599.9L518.5 1605.0L521.0 1608.6L523.6 1609.4L526.2 1609.5L528.8 1610.4L531.3 1610.3L533.9 1610.6L536.5 1611.1L539.1 1609.4L541.6 1610.0L544.2 1610.5L546.8 1608.5L549.4 1608.2L551.9 1608.9L554.5 1609.3L557.1 1610.1L559.7 1610.7L562.2 1610.2L564.8 1610.2L567.4 1610.6L569.9 1610.6L572.5 1610.7L575.1 1611.5L577.7 1611.8L580.2 1611.2L582.8 1611.1L585.4 1611.3L588.0 1612.0L590.5 1611.0L593.1 1608.9L595.7 1606.5L598.3 1603.5L600.8 1601.1L603.4 1603.3L606.0 1606.9L608.6 1607.5L611.1 1605.8L613.7 1602.3L616.3 1603.6L618.9 1608.2L621.4 1609.6L624.0 1609.4L626.6 1610.0L629.2 1610.0L631.7 1607.8L634.3 1600.3L636.9 1575.8L639.4 1516.9L642.0 1423.9L644.6 1337.2L647.2 1315.8L649.7 1383.3L652.3 1477.1L654.9 1544.9L657.5 1578.9L660.0 1593.8L662.6 1600.0L665.2 1603.0L667.8 1605.3L670.3 1606.3L672.9 1606.6L675.5 1606.6L678.1 1607.7L680.6 1608.3L683.2 1608.2L685.8 1608.7L688.4 1608.3L690.9 1608.2L693.5 1607.7L696.1 1606.6L698.6 1605.0L701.2 1599.1L703.8 1592.1L706.4 1590.8L708.9 1596.5L711.5 1602.7L714.1 1606.6L716.7 1609.3L719.2 1610.5L721.8 1609.8L724.4 1609.1L727.0 1609.9L729.5 1610.1L732.1 1609.6L734.7 1609.2L737.3 1609.5L739.8 1609.1L742.4 1608.6L745.0 1608.2L747.6 1607.1L750.1 1607.4L752.7 1606.9L755.3 1605.0L757.9 1602.9L760.4 1602.0L763.0 1601.1L765.6 1598.9L768.1 1597.8L770.7 1598.7L773.3 1600.3L775.9 1601.2L778.4 1602.9L781.0 1604.5L783.6 1605.1L786.2 1606.3L788.7 1608.9L791.3 1609.0L793.9 1607.8L796.5 1608.0L799.0 1608.3L801.6 1609.7L804.2 1609.4L806.8 1608.2L809.3 1608.1L811.9 1607.9L814.5 1607.7L817.1 1607.0L819.6 1605.3L822.2 1604.2L824.8 1604.3L827.3 1604.5L829.9 1604.3L832.5 1604.2L835.1 1605.1L837.6 1605.6L840.2 1606.2L842.8 1607.5L845.4 1608.3L847.9 1608.8L850.5 1608.8L853.1 1608.6L855.7 1608.6L858.2 1608.2L860.8 1606.1L863.4 1604.0L866.0 1605.7L868.5 1607.6L871.1 1608.0L873.7 1608.6L876.3 1606.2L878.8 1601.1L881.4 1598.0L884.0 1599.5L886.6 1602.7L889.1 1606.5L891.7 1609.5L894.3 1610.2L896.8 1610.1L899.4 1609.9L902.0 1610.6L904.6 1611.1L907.1 1610.9L909.7 1610.9L912.3 1611.4L914.9 1611.6L917.4 1610.7L920.0 1609.7L922.6 1607.4L925.2 1604.4L927.7 1602.5L930.3 1598.8L932.9 1592.9L935.5 1577.8L938.0 1542.0L940.6 1485.9L943.2 1435.9L945.8 1427.6L948.3 1472.9L950.9 1531.8L953.5 1573.4L956.0 1592.8L958.6 1600.2L961.2 1603.5L963.8 1605.3L966.3 1606.8L968.9 1608.2L971.5 1608.5L974.1 1608.6L976.6 1608.4L979.2 1608.3L981.8 1610.1L984.4 1610.7L986.9 1610.3L989.5 1611.7L992.1 1611.3L994.7 1610.6L997.2 1611.0L999.8 1611.6L1002.4 1611.9L1005.0 1611.5L1007.5 1611.8L1010.1 1611.7L1012.7 1611.1L1015.3 1611.1L1017.8 1611.1L1020.4 1611.1L1023.0 1611.6"/><path d="M638.8 1516.9L641.4 1423.9L644.0 1337.2L646.6 1315.8M937.4 1542.0L940.0 1485.9L942.6 1435.9L945.2 1427.6" fill="none" stroke-width="5" stroke-opacity="0.3" stroke-linecap="butt"/><path d="M368.6 1621.6L371.2 1620.6L373.7 1620.9L376.3 1620.1L378.9 1616.1L381.5 1611.3L384.0 1615.5L386.6 1618.8L389.2 1619.9L391.8 1620.4L394.3 1620.5L396.9 1620.0L399.5 1620.2L402.1 1620.6L404.6 1618.7L407.2 1613.8L409.8 1607.4L412.4 1609.6L414.9 1615.4L417.5 1618.4L420.1 1620.8L422.7 1621.8L425.2 1622.1L427.8 1621.9L430.4 1621.2L432.9 1620.8L435.5 1619.5L438.1 1619.7L440.7 1620.2L443.2 1619.6L445.8 1620.3L448.4 1620.0L451.0 1618.9L453.5 1618.7L456.1 1619.3L458.7 1620.5L461.3 1620.3L463.8 1620.1L466.4 1620.9L469.0 1621.2L471.6 1620.6L474.1 1619.2L476.7 1616.7L479.3 1614.9L481.9 1614.4L484.4 1616.4L487.0 1618.8L489.6 1619.2L492.2 1620.1L494.7 1620.0L497.3 1619.7L499.9 1619.1L502.4 1616.2L505.0 1610.8L507.6 1608.7L510.2 1613.4L512.7 1617.3L515.3 1619.4L517.9 1619.5L520.5 1618.9L523.0 1619.4L525.6 1620.0L528.2 1620.4L530.8 1620.2L533.3 1619.1L535.9 1619.1L538.5 1619.3L541.1 1617.8L543.6 1617.3L546.2 1617.4L548.8 1617.8L551.4 1618.8L553.9 1618.8L556.5 1619.1L559.1 1619.9L561.6 1620.6L564.2 1621.6L566.8 1620.8L569.4 1620.4L571.9 1621.4L574.5 1620.8L577.1 1620.8L579.7 1621.6L582.2 1621.1L584.8 1619.8L587.4 1617.8L590.0 1614.4L592.5 1611.3L595.1 1613.7L597.7 1616.8L600.3 1617.5L602.8 1616.0L605.4 1612.4L608.0 1613.7L610.6 1616.9L613.1 1618.6L615.7 1620.5L618.3 1620.8L620.9 1620.4L623.4 1618.3L626.0 1611.1L628.6 1586.3L631.1 1526.8L633.7 1434.8L636.3 1348.7L638.9 1327.2L641.4 1395.7L644.0 1489.0L646.6 1555.2L649.2 1588.9L651.7 1603.7L654.3 1609.9L656.9 1612.9L659.5 1615.6L662.0 1615.9L664.6 1615.9L667.2 1617.3L669.8 1618.2L672.3 1618.0L674.9 1617.9L677.5 1618.6L680.1 1618.7L682.6 1618.4L685.2 1618.3L687.8 1617.5L690.3 1614.2L692.9 1608.5L695.5 1602.0L698.1 1598.8L700.6 1604.1L703.2 1611.6L705.8 1616.2L708.4 1618.2L710.9 1619.6L713.5 1620.1L716.1 1619.5L718.7 1619.8L721.2 1619.8L723.8 1620.0L726.4 1620.1L729.0 1620.4L731.5 1620.3L734.1 1619.6L736.7 1619.8L739.3 1619.2L741.8 1617.9L744.4 1617.1L747.0 1615.6L749.6 1614.3L752.1 1612.8L754.7 1610.8L757.3 1610.3L759.8 1609.4L762.4 1609.9L765.0 1611.2L767.6 1611.8L770.1 1613.2L772.7 1615.3L775.3 1617.4L777.9 1618.1L780.4 1618.3L783.0 1618.5L785.6 1618.9L788.2 1619.3L790.7 1619.7L793.3 1620.1L795.9 1619.8L798.5 1618.7L801.0 1617.5L803.6 1617.3L806.2 1616.4L808.8 1615.8L811.3 1614.7L813.9 1613.4L816.5 1612.7L819.0 1612.1L821.6 1612.6L824.2 1613.1L826.8 1613.1L829.3 1614.4L831.9 1615.9L834.5 1616.6L837.1 1617.6L839.6 1618.2L842.2 1618.5L844.8 1619.3L847.4 1619.4L849.9 1617.9L852.5 1616.7L855.1 1615.5L857.7 1616.5L860.2 1617.8L862.8 1618.3L865.4 1618.1L868.0 1615.4L870.5 1611.4L873.1 1608.9L875.7 1610.3L878.3 1613.3L880.8 1617.6L883.4 1619.5L886.0 1618.7L888.5 1620.2L891.1 1620.5L893.7 1620.0L896.3 1620.4L898.8 1621.6L901.4 1622.1L904.0 1621.1L906.6 1621.0L909.1 1620.9L911.7 1620.3L914.3 1620.0L916.9 1617.4L919.4 1612.9L922.0 1608.8L924.6 1603.0L927.2 1587.1L929.7 1548.9L932.3 1489.0L934.9 1436.5L937.5 1427.8L940.0 1476.4L942.6 1539.0L945.2 1582.1L947.7 1602.3L950.3 1610.9L952.9 1614.4L955.5 1615.4L958.0 1617.2L960.6 1618.5L963.2 1618.7L965.8 1618.8L968.3 1619.0L970.9 1619.4L973.5 1620.2L976.1 1620.2L978.6 1620.6L981.2 1620.6L983.8 1620.2L986.4 1621.1L988.9 1621.7L991.5 1621.4L994.1 1621.8L996.7 1621.1L999.2 1620.0L1001.8 1621.1L1004.4 1621.6L1007.0 1620.4L1009.5 1620.2L1012.1 1621.4L1014.7 1621.6"/><path d="M630.5 1526.8L633.1 1434.8L635.7 1348.7L638.3 1327.2M929.1 1548.9L931.7 1489.0L934.3 1436.5L936.9 1427.8" fill="none" stroke-width="5" stroke-opacity="0.3" stroke-linecap="butt"/><path d="M360.3 1631.7L362.9 1632.4L365.4 1631.2L368.0 1629.3L370.6 1626.9L373.2 1623.7L375.7 1627.0L378.3 1629.9L380.9 1631.1L383.5 1631.0L386.0 1630.5L388.6 1630.7L391.2 1630.6L393.8 1629.9L396.3 1628.6L398.9 1624.1L401.5 1616.8L404.1 1617.8L406.6 1624.8L409.2 1629.1L411.8 1630.0L414.4 1630.0L416.9 1630.1L419.5 1630.6L422.1 1629.9L424.6 1629.9L427.2 1630.6L429.8 1629.1L432.4 1629.3L434.9 1629.5L437.5 1628.4L440.1 1629.0L442.7 1629.3L445.2 1628.6L447.8 1629.4L450.4 1630.4L453.0 1629.8L455.5 1630.0L458.1 1630.4L460.7 1630.6L463.3 1630.6L465.8 1629.7L468.4 1627.6L471.0 1623.8L473.6 1622.9L476.1 1625.4L478.7 1627.5L481.3 1629.3L483.9 1628.8L486.4 1628.9L489.0 1629.8L491.6 1628.5L494.1 1625.7L496.7 1620.9L499.3 1618.7L501.9 1623.3L504.4 1627.6L507.0 1629.6L509.6 1629.9L512.2 1629.6L514.7 1630.1L517.3 1630.8L519.9 1630.0L522.5 1629.4L525.0 1629.5L527.6 1629.0L530.2 1629.1L532.8 1629.1L535.3 1628.1L537.9 1628.2L540.5 1629.0L543.1 1629.2L545.6 1629.4L548.2 1628.7L550.8 1629.6L553.3 1630.9L555.9 1629.8L558.5 1629.9L561.1 1630.7L563.6 1631.4L566.2 1631.0L568.8 1629.9L571.4 1629.7L573.9 1629.8L576.5 1629.2L579.1 1627.1L581.7 1623.2L584.2 1619.9L586.8 1622.5L589.4 1626.6L592.0 1628.2L594.5 1627.3L597.1 1624.2L599.7 1624.2L602.3 1627.8L604.8 1628.9L607.4 1629.9L610.0 1631.4L612.6 1631.2L615.1 1629.7L617.7 1621.9L620.3 1597.5L622.8 1540.8L625.4 1450.9L628.0 1367.8L630.6 1346.8L633.1 1412.6L635.7 1503.7L638.3 1568.1L640.9 1601.2L643.4 1615.1L646.0 1620.6L648.6 1623.1L651.2 1624.4L653.7 1625.1L656.3 1626.9L658.9 1629.0L661.5 1628.9L664.0 1628.3L666.6 1628.1L669.2 1627.7L671.8 1628.3L674.3 1627.6L676.9 1626.6L679.5 1626.8L682.0 1622.7L684.6 1614.3L687.2 1604.6L689.8 1602.5L692.3 1611.3L694.9 1619.8L697.5 1625.1L700.1 1627.3L702.6 1627.7L705.2 1627.8L707.8 1628.1L710.4 1629.0L712.9 1628.9L715.5 1628.8L718.1 1629.1L720.7 1629.2L723.2 1630.0L725.8 1630.6L728.4 1629.4L731.0 1628.1L733.5 1627.3L736.1 1625.4L738.7 1624.7L741.3 1624.2L743.8 1621.6L746.4 1618.8L749.0 1617.6L751.5 1617.3L754.1 1618.1L756.7 1619.0L759.3 1620.3L761.8 1621.9L764.4 1622.9L767.0 1624.9L769.6 1626.4L772.1 1627.1L774.7 1627.7L777.3 1627.6L779.9 1628.0L782.4 1628.5L785.0 1628.5L787.6 1628.9L790.2 1629.0L792.7 1628.3L795.3 1627.2L797.9 1626.1L800.5 1624.7L803.0 1624.8L805.6 1624.9L808.2 1624.3L810.7 1624.1L813.3 1624.1L815.9 1623.8L818.5 1623.7L821.0 1625.7L823.6 1626.9L826.2 1626.9L828.8 1627.0L831.3 1627.5L833.9 1628.5L836.5 1628.9L839.1 1628.2L841.6 1626.6L844.2 1624.6L846.8 1623.4L849.4 1623.9L851.9 1626.0L854.5 1627.7L857.1 1626.4L859.7 1623.6L862.2 1619.0L864.8 1615.4L867.4 1616.5L870.0 1621.4L872.5 1626.8L875.1 1629.3L877.7 1629.8L880.2 1630.3L882.8 1631.3L885.4 1630.6L888.0 1630.6L890.5 1631.3L893.1 1630.8L895.7 1630.9L898.3 1630.9L900.8 1630.2L903.4 1629.9L906.0 1628.6L908.6 1626.6L911.1 1624.5L913.7 1620.5L916.3 1614.7L918.9 1598.4L921.4 1559.7L924.0 1500.7L926.6 1447.3L929.2 1438.1L931.7 1488.4L934.3 1550.1L936.9 1591.2L939.4 1611.8L942.0 1620.7L944.6 1624.9L947.2 1626.4L949.7 1626.8L952.3 1628.6L954.9 1630.2L957.5 1630.0L960.0 1630.9L962.6 1631.2L965.2 1629.9L967.8 1630.3L970.3 1630.8L972.9 1630.8L975.5 1630.8L978.1 1630.2L980.6 1629.9L983.2 1630.2L985.8 1630.4L988.4 1630.3L990.9 1631.1L993.5 1630.6L996.1 1630.7L998.7 1631.3L1001.2 1630.0L1003.8 1629.7L1006.4 1631.7"/><path d="M622.2 1540.8L624.8 1450.9L627.4 1367.8L630.0 1346.8M920.8 1559.7L923.4 1500.7L926.0 1447.3L928.6 1438.1" fill="none" stroke-width="5" stroke-opacity="0.3" stroke-linecap="butt"/><path d="M352.0 1641.7L354.6 1641.8L357.1 1640.6L359.7 1639.6L362.3 1637.7L364.9 1634.3L367.4 1636.5L370.0 1639.4L372.6 1641.1L375.2 1642.0L377.7 1641.5L380.3 1641.1L382.9 1641.4L385.5 1639.9L388.0 1637.2L390.6 1633.1L393.2 1626.2L395.8 1627.8L398.3 1635.4L400.9 1638.7L403.5 1639.4L406.1 1640.2L408.6 1639.8L411.2 1640.0L413.8 1640.0L416.3 1640.2L418.9 1641.0L421.5 1641.1L424.1 1640.7L426.6 1640.7L429.2 1640.2L431.8 1639.1L434.4 1639.2L436.9 1640.4L439.5 1641.5L442.1 1640.6L444.7 1640.4L447.2 1640.3L449.8 1640.2L452.4 1640.5L455.0 1640.5L457.5 1639.9L460.1 1637.1L462.7 1632.9L465.3 1631.2L467.8 1634.5L470.4 1638.5L473.0 1640.1L475.6 1639.9L478.1 1640.1L480.7 1639.2L483.3 1636.9L485.8 1634.1L488.4 1629.2L491.0 1627.2L493.6 1633.2L496.1 1637.0L498.7 1637.6L501.3 1639.0L503.9 1639.3L506.4 1639.4L509.0 1639.6L511.6 1639.3L514.2 1639.9L516.7 1639.7L519.3 1639.0L521.9 1638.9L524.5 1639.0L527.0 1639.0L529.6 1639.1L532.2 1638.5L534.8 1639.3L537.3 1640.3L539.9 1640.1L542.5 1641.1L545.0 1640.7L547.6 1640.7L550.2 1640.6L552.8 1640.4L555.3 1640.8L557.9 1640.7L560.5 1640.5L563.1 1639.8L565.6 1639.9L568.2 1639.4L570.8 1636.3L573.4 1632.7L575.9 1629.2L578.5 1631.9L581.1 1636.7L583.7 1638.6L586.2 1637.5L588.8 1634.9L591.4 1636.2L594.0 1638.3L596.5 1639.7L599.1 1640.9L601.7 1641.6L604.3 1641.5L606.8 1640.0L609.4 1632.5L612.0 1605.5L614.5 1546.5L617.1 1457.2L619.7 1372.2L622.3 1349.1L624.8 1416.6L627.4 1510.3L630.0 1577.4L632.6 1612.0L635.1 1624.6L637.7 1628.0L640.3 1631.8L642.9 1635.8L645.4 1636.1L648.0 1635.8L650.6 1636.9L653.2 1637.2L655.7 1637.9L658.3 1638.6L660.9 1638.3L663.5 1638.6L666.0 1638.6L668.6 1638.1L671.2 1637.0L673.7 1634.1L676.3 1629.5L678.9 1622.0L681.5 1619.5L684.0 1626.4L686.6 1633.5L689.2 1636.9L691.8 1638.1L694.3 1639.5L696.9 1639.1L699.5 1638.9L702.1 1639.7L704.6 1641.0L707.2 1640.6L709.8 1639.8L712.4 1640.1L714.9 1639.5L717.5 1639.4L720.1 1639.4L722.7 1638.2L725.2 1637.2L727.8 1637.0L730.4 1635.5L733.0 1633.4L735.5 1631.7L738.1 1630.9L740.7 1630.5L743.2 1629.4L745.8 1629.5L748.4 1630.7L751.0 1632.3L753.5 1633.9L756.1 1635.5L758.7 1636.9L761.3 1637.4L763.8 1638.0L766.4 1639.4L769.0 1639.6L771.6 1638.4L774.1 1637.9L776.7 1639.5L779.3 1640.3L781.9 1638.7L784.4 1637.8L787.0 1637.4L789.6 1636.5L792.2 1635.4L794.7 1634.6L797.3 1632.8L799.9 1631.8L802.4 1631.8L805.0 1630.7L807.6 1630.8L810.2 1632.6L812.7 1634.4L815.3 1635.9L817.9 1637.2L820.5 1637.9L823.0 1637.8L825.6 1638.4L828.2 1638.9L830.8 1638.2L833.3 1637.3L835.9 1635.8L838.5 1634.2L841.1 1635.0L843.6 1637.0L846.2 1638.2L848.8 1638.6L851.4 1635.9L853.9 1630.9L856.5 1628.2L859.1 1629.3L861.7 1632.9L864.2 1636.8L866.8 1638.8L869.4 1639.1L871.9 1639.6L874.5 1639.7L877.1 1641.1L879.7 1641.4L882.2 1640.8L884.8 1640.6L887.4 1639.9L890.0 1640.0L892.5 1640.3L895.1 1638.9L897.7 1637.7L900.3 1637.1L902.8 1633.5L905.4 1630.0L908.0 1624.2L910.6 1608.0L913.1 1572.4L915.7 1516.6L918.3 1467.0L920.9 1459.8L923.4 1506.2L926.0 1563.3L928.6 1603.2L931.1 1623.1L933.7 1631.4L936.3 1635.2L938.9 1636.5L941.4 1636.9L944.0 1637.9L946.6 1639.2L949.2 1640.4L951.7 1639.4L954.3 1639.5L956.9 1641.0L959.5 1641.0L962.0 1640.3L964.6 1640.5L967.2 1640.8L969.8 1640.4L972.3 1641.2L974.9 1641.3L977.5 1641.4L980.1 1641.6L982.6 1640.8L985.2 1640.9L987.8 1641.7L990.4 1641.8L992.9 1641.5L995.5 1641.2L998.1 1641.7"/><path d="M613.9 1546.5L616.5 1457.2L619.1 1372.2L621.7 1349.1M912.5 1572.4L915.1 1516.6L917.7 1467.0L920.3 1459.8" fill="none" stroke-width="5" stroke-opacity="0.3" stroke-linecap="butt"/><path d="M343.7 1651.7L346.3 1651.2L348.8 1650.1L351.4 1648.7L354.0 1646.5L356.6 1643.1L359.1 1646.1L361.7 1649.4L364.3 1650.7L366.9 1650.5L369.4 1650.2L372.0 1650.6L374.6 1650.5L377.2 1649.4L379.7 1647.6L382.3 1642.9L384.9 1636.5L387.5 1638.8L390.0 1645.0L392.6 1648.9L395.2 1650.5L397.8 1650.8L400.3 1651.7L402.9 1652.1L405.5 1652.4L408.0 1651.3L410.6 1650.0L413.2 1650.1L415.8 1649.6L418.3 1649.1L420.9 1649.3L423.5 1649.3L426.1 1648.6L428.6 1648.0L431.2 1648.3L433.8 1649.5L436.4 1650.6L438.9 1651.1L441.5 1650.6L444.1 1649.6L446.7 1649.5L449.2 1648.9L451.8 1647.2L454.4 1644.1L457.0 1642.8L459.5 1646.0L462.1 1648.4L464.7 1649.1L467.3 1650.2L469.8 1650.9L472.4 1650.3L475.0 1648.3L477.5 1645.5L480.1 1640.1L482.7 1638.0L485.3 1642.9L487.8 1647.9L490.4 1651.0L493.0 1650.6L495.6 1649.2L498.1 1649.9L500.7 1650.3L503.3 1650.0L505.9 1650.3L508.4 1649.4L511.0 1648.9L513.6 1648.5L516.2 1647.2L518.7 1647.5L521.3 1647.5L523.9 1648.3L526.5 1649.2L529.0 1649.1L531.6 1648.8L534.2 1649.1L536.7 1650.9L539.3 1650.4L541.9 1650.8L544.5 1651.4L547.0 1651.1L549.6 1650.6L552.2 1650.2L554.8 1650.3L557.3 1649.9L559.9 1650.0L562.5 1649.3L565.1 1644.8L567.6 1640.8L570.2 1644.4L572.8 1647.5L575.4 1647.3L577.9 1645.8L580.5 1641.8L583.1 1643.0L585.7 1648.1L588.2 1649.4L590.8 1649.9L593.4 1651.2L596.0 1650.7L598.5 1648.5L601.1 1640.7L603.7 1616.2L606.2 1559.7L608.8 1469.6L611.4 1385.6L614.0 1365.1L616.5 1431.2L619.1 1521.7L621.7 1587.7L624.3 1620.8L626.8 1634.4L629.4 1640.5L632.0 1643.9L634.6 1645.9L637.1 1646.5L639.7 1646.8L642.3 1647.2L644.9 1647.5L647.4 1648.9L650.0 1649.6L652.6 1648.8L655.2 1649.2L657.7 1649.0L660.3 1648.3L662.9 1646.8L665.4 1643.4L668.0 1636.7L670.6 1628.2L673.2 1625.2L675.7 1632.2L678.3 1640.1L680.9 1645.2L683.5 1648.3L686.0 1649.1L688.6 1649.6L691.2 1650.4L693.8 1650.3L696.3 1650.0L698.9 1650.3L701.5 1650.5L704.1 1650.5L706.6 1650.2L709.2 1650.1L711.8 1649.1L714.4 1648.0L716.9 1647.7L719.5 1647.4L722.1 1646.7L724.7 1645.0L727.2 1643.4L729.8 1641.6L732.4 1641.7L734.9 1641.1L737.5 1641.2L740.1 1641.9L742.7 1642.4L745.2 1644.9L747.8 1645.8L750.4 1646.4L753.0 1648.1L755.5 1649.2L758.1 1649.0L760.7 1649.7L763.3 1650.5L765.8 1649.1L768.4 1649.0L771.0 1649.6L773.6 1648.7L776.1 1648.0L778.7 1647.2L781.3 1648.1L783.9 1647.8L786.4 1645.1L789.0 1644.2L791.6 1643.0L794.1 1642.0L796.7 1643.4L799.3 1643.9L801.9 1643.3L804.4 1644.9L807.0 1646.6L809.6 1647.6L812.2 1648.9L814.7 1649.0L817.3 1648.8L819.9 1648.8L822.5 1648.6L825.0 1646.5L827.6 1645.1L830.2 1645.5L832.8 1645.8L835.3 1646.7L837.9 1648.4L840.5 1647.1L843.1 1644.4L845.6 1641.8L848.2 1637.7L850.8 1637.5L853.4 1641.0L855.9 1645.8L858.5 1649.8L861.1 1650.4L863.6 1650.5L866.2 1650.7L868.8 1651.0L871.4 1651.8L873.9 1651.8L876.5 1650.8L879.1 1650.2L881.7 1650.7L884.2 1650.6L886.8 1649.4L889.4 1648.3L892.0 1645.7L894.5 1641.3L897.1 1635.5L899.7 1629.8L902.3 1616.7L904.8 1580.5L907.4 1523.2L910.0 1471.3L912.6 1463.6L915.1 1512.2L917.7 1570.8L920.3 1611.5L922.8 1632.4L925.4 1640.6L928.0 1644.6L930.6 1646.6L933.1 1647.7L935.7 1649.2L938.3 1649.1L940.9 1649.3L943.4 1650.1L946.0 1649.7L948.6 1650.3L951.2 1650.5L953.7 1649.1L956.3 1649.6L958.9 1650.3L961.5 1650.0L964.0 1651.1L966.6 1652.1L969.2 1651.6L971.8 1652.0L974.3 1652.0L976.9 1651.0L979.5 1650.8L982.1 1650.8L984.6 1650.4L987.2 1650.8L989.8 1651.7"/><path d="M605.6 1559.7L608.2 1469.6L610.8 1385.6L613.4 1365.1M904.2 1580.5L906.8 1523.2L909.4 1471.3L912.0 1463.6" fill="none" stroke-width="5" stroke-opacity="0.3" stroke-linecap="butt"/><path d="M335.4 1661.8L338.0 1661.2L340.5 1661.9L343.1 1660.7L345.7 1655.7L348.3 1651.4L350.8 1656.3L353.4 1659.8L356.0 1660.2L358.6 1659.7L361.1 1659.5L363.7 1660.0L366.3 1660.2L368.9 1660.5L371.4 1659.3L374.0 1655.5L376.6 1649.4L379.2 1649.8L381.7 1655.1L384.3 1658.1L386.9 1659.7L389.5 1660.1L392.0 1660.5L394.6 1661.9L397.2 1661.8L399.7 1660.8L402.3 1661.5L404.9 1661.5L407.5 1661.3L410.0 1660.8L412.6 1658.5L415.2 1658.0L417.8 1657.8L420.3 1657.7L422.9 1659.2L425.5 1660.6L428.1 1660.4L430.6 1659.6L433.2 1660.7L435.8 1661.1L438.4 1659.5L440.9 1658.6L443.5 1656.5L446.1 1653.1L448.7 1652.8L451.2 1655.3L453.8 1658.3L456.4 1660.6L459.0 1661.1L461.5 1660.7L464.1 1660.3L466.7 1659.0L469.2 1655.2L471.8 1649.9L474.4 1649.4L477.0 1653.8L479.5 1656.8L482.1 1659.3L484.7 1660.0L487.3 1659.5L489.8 1659.1L492.4 1659.5L495.0 1660.1L497.6 1659.8L500.1 1659.4L502.7 1659.4L505.3 1659.0L507.9 1658.0L510.4 1658.5L513.0 1659.4L515.6 1659.6L518.2 1659.6L520.7 1659.0L523.3 1659.1L525.9 1660.0L528.4 1660.9L531.0 1660.5L533.6 1660.6L536.2 1660.8L538.7 1660.8L541.3 1660.8L543.9 1660.8L546.5 1660.6L549.0 1660.9L551.6 1660.6L554.2 1659.1L556.8 1656.1L559.3 1653.3L561.9 1654.9L564.5 1656.5L567.1 1657.8L569.6 1656.7L572.2 1652.5L574.8 1653.2L577.4 1656.9L579.9 1659.3L582.5 1660.4L585.1 1661.1L587.7 1660.7L590.2 1658.6L592.8 1650.8L595.4 1625.3L597.9 1566.7L600.5 1474.5L603.1 1387.5L605.7 1365.2L608.2 1433.1L610.8 1528.0L613.4 1596.4L616.0 1630.0L618.5 1643.6L621.1 1649.4L623.7 1652.1L626.3 1654.3L628.8 1656.5L631.4 1656.6L634.0 1657.3L636.6 1658.3L639.1 1659.1L641.7 1658.7L644.3 1657.7L646.9 1658.5L649.4 1659.4L652.0 1658.4L654.6 1656.0L657.1 1652.1L659.7 1644.2L662.3 1635.1L664.9 1633.2L667.4 1641.6L670.0 1650.5L672.6 1656.1L675.2 1658.7L677.7 1659.1L680.3 1659.9L682.9 1660.8L685.5 1659.6L688.0 1659.4L690.6 1659.6L693.2 1658.7L695.8 1659.0L698.3 1658.9L700.9 1658.6L703.5 1658.9L706.1 1658.2L708.6 1656.9L711.2 1655.6L713.8 1654.1L716.4 1652.6L718.9 1650.2L721.5 1648.3L724.1 1647.4L726.6 1646.1L729.2 1646.6L731.8 1648.2L734.4 1648.8L736.9 1650.6L739.5 1652.5L742.1 1654.2L744.7 1656.4L747.2 1657.4L749.8 1658.2L752.4 1658.8L755.0 1659.1L757.5 1658.7L760.1 1658.3L762.7 1658.6L765.3 1658.7L767.8 1656.6L770.4 1655.6L773.0 1655.4L775.6 1654.7L778.1 1654.3L780.7 1651.9L783.3 1650.9L785.8 1651.3L788.4 1650.9L791.0 1651.5L793.6 1652.8L796.1 1653.8L798.7 1654.6L801.3 1655.8L803.9 1657.1L806.4 1657.3L809.0 1657.3L811.6 1658.2L814.2 1659.4L816.7 1658.6L819.3 1655.3L821.9 1653.6L824.5 1655.5L827.0 1657.4L829.6 1657.3L832.2 1656.5L834.8 1655.2L837.3 1651.8L839.9 1648.7L842.5 1647.9L845.1 1651.5L847.6 1656.3L850.2 1658.7L852.8 1659.4L855.3 1660.2L857.9 1661.8L860.5 1661.8L863.1 1660.9L865.6 1659.7L868.2 1659.9L870.8 1661.3L873.4 1661.3L875.9 1661.1L878.5 1660.9L881.1 1659.3L883.7 1656.5L886.2 1653.7L888.8 1649.7L891.4 1643.8L894.0 1628.6L896.5 1591.6L899.1 1533.7L901.7 1481.6L904.3 1472.9L906.8 1521.0L909.4 1580.8L912.0 1622.1L914.5 1642.8L917.1 1650.5L919.7 1653.3L922.3 1655.7L924.8 1658.0L927.4 1658.6L930.0 1658.1L932.6 1658.8L935.1 1658.6L937.7 1659.6L940.3 1660.2L942.9 1659.1L945.4 1659.4L948.0 1660.4L950.6 1660.4L953.2 1659.6L955.7 1659.7L958.3 1660.4L960.9 1661.2L963.5 1660.5L966.0 1660.3L968.6 1661.1L971.2 1661.7L973.8 1661.4L976.3 1661.7L978.9 1661.6L981.5 1661.8"/><path d="M597.3 1566.7L599.9 1474.5L602.5 1387.5L605.1 1365.2M895.9 1591.6L898.5 1533.7L901.1 1481.6L903.7 1472.9" fill="none" stroke-width="5" stroke-opacity="0.3" stroke-linecap="butt"/><path d="M327.1 1671.8L329.7 1671.0L332.2 1670.8L334.8 1669.7L337.4 1665.7L340.0 1661.3L342.5 1664.4L345.1 1668.1L347.7 1670.8L350.3 1671.7L352.8 1671.9L355.4 1671.0L358.0 1670.1L360.6 1669.6L363.1 1668.3L365.7 1664.3L368.3 1658.2L370.9 1659.9L373.4 1666.2L376.0 1669.6L378.6 1670.9L381.2 1671.5L383.7 1671.1L386.3 1671.5L388.9 1671.9L391.4 1670.3L394.0 1670.0L396.6 1671.3L399.2 1671.4L401.7 1670.3L404.3 1668.8L406.9 1668.4L409.5 1668.2L412.0 1668.3L414.6 1669.6L417.2 1669.8L419.8 1669.9L422.3 1669.7L424.9 1669.9L427.5 1670.7L430.1 1670.2L432.6 1669.2L435.2 1666.3L437.8 1662.4L440.4 1661.2L442.9 1664.6L445.5 1667.3L448.1 1668.7L450.7 1669.3L453.2 1668.8L455.8 1669.1L458.4 1667.3L460.9 1664.0L463.5 1660.6L466.1 1660.4L468.7 1664.9L471.2 1668.1L473.8 1669.5L476.4 1670.5L479.0 1670.9L481.5 1670.8L484.1 1670.0L486.7 1669.2L489.3 1669.0L491.8 1667.9L494.4 1668.0L497.0 1667.8L499.6 1667.6L502.1 1668.0L504.7 1668.7L507.3 1669.3L509.9 1668.6L512.4 1668.8L515.0 1670.0L517.6 1670.5L520.1 1671.0L522.7 1671.4L525.3 1671.9L527.9 1671.1L530.4 1669.9L533.0 1670.4L535.6 1671.4L538.2 1671.3L540.7 1669.4L543.3 1669.0L545.9 1668.3L548.5 1664.3L551.0 1660.5L553.6 1663.4L556.2 1666.9L558.8 1667.7L561.3 1666.1L563.9 1662.9L566.5 1664.2L569.1 1667.8L571.6 1670.3L574.2 1670.3L576.8 1670.1L579.4 1669.4L581.9 1667.7L584.5 1660.9L587.1 1635.3L589.6 1575.2L592.2 1483.2L594.8 1398.9L597.4 1377.0L599.9 1444.8L602.5 1538.6L605.1 1606.0L607.7 1640.8L610.2 1654.3L612.8 1659.1L615.4 1661.8L618.0 1663.9L620.5 1665.5L623.1 1667.8L625.7 1668.6L628.3 1668.0L630.8 1668.0L633.4 1667.4L636.0 1667.3L638.6 1668.9L641.1 1668.9L643.7 1667.6L646.3 1665.7L648.8 1661.7L651.4 1655.1L654.0 1645.0L656.6 1641.1L659.1 1650.6L661.7 1660.2L664.3 1665.1L666.9 1667.1L669.4 1668.1L672.0 1669.4L674.6 1669.8L677.2 1669.7L679.7 1669.3L682.3 1669.8L684.9 1671.2L687.5 1669.4L690.0 1667.9L692.6 1668.8L695.2 1667.7L697.8 1667.6L700.3 1668.3L702.9 1667.0L705.5 1665.1L708.1 1663.6L710.6 1661.8L713.2 1660.1L715.8 1658.6L718.3 1657.6L720.9 1659.1L723.5 1660.3L726.1 1661.6L728.6 1663.3L731.2 1664.4L733.8 1664.7L736.4 1666.0L738.9 1668.6L741.5 1669.1L744.1 1669.4L746.7 1668.9L749.2 1668.2L751.8 1668.4L754.4 1668.8L757.0 1669.7L759.5 1669.0L762.1 1668.7L764.7 1668.5L767.3 1667.4L769.8 1666.1L772.4 1665.5L775.0 1665.6L777.5 1663.8L780.1 1663.1L782.7 1664.4L785.3 1664.7L787.8 1665.4L790.4 1667.0L793.0 1668.2L795.6 1667.9L798.1 1667.6L800.7 1668.4L803.3 1668.3L805.9 1669.2L808.4 1669.0L811.0 1666.7L813.6 1666.4L816.2 1666.9L818.7 1667.2L821.3 1667.8L823.9 1668.2L826.5 1666.0L829.0 1661.1L831.6 1657.6L834.2 1658.3L836.8 1662.2L839.3 1665.5L841.9 1667.9L844.5 1668.5L847.0 1669.0L849.6 1670.3L852.2 1670.3L854.8 1670.5L857.3 1671.1L859.9 1670.6L862.5 1671.4L865.1 1672.7L867.6 1670.6L870.2 1669.0L872.8 1668.6L875.4 1666.7L877.9 1663.8L880.5 1660.9L883.1 1655.5L885.7 1639.8L888.2 1601.9L890.8 1543.3L893.4 1492.1L896.0 1483.7L898.5 1531.2L901.1 1591.6L903.7 1632.1L906.2 1651.6L908.8 1660.8L911.4 1664.2L914.0 1665.3L916.5 1666.2L919.1 1667.3L921.7 1668.1L924.3 1669.0L926.8 1669.1L929.4 1668.8L932.0 1669.2L934.6 1670.4L937.1 1670.7L939.7 1670.0L942.3 1670.0L944.9 1671.6L947.4 1672.9L950.0 1671.7L952.6 1671.3L955.2 1671.3L957.7 1671.0L960.3 1670.8L962.9 1671.0L965.5 1672.0L968.0 1671.5L970.6 1671.2L973.2 1671.8"/><path d="M589.0 1575.2L591.6 1483.2L594.2 1398.9L596.8 1377.0M887.6 1601.9L890.2 1543.3L892.8 1492.1L895.4 1483.7" fill="none" stroke-width="5" stroke-opacity="0.3" stroke-linecap="butt"/><path d="M318.8 1681.8L321.4 1680.9L323.9 1681.2L326.5 1679.5L329.1 1675.9L331.7 1673.7L334.2 1677.7L336.8 1680.5L339.4 1680.6L342.0 1679.9L344.5 1679.8L347.1 1679.2L349.7 1680.0L352.3 1681.4L354.8 1680.3L357.4 1676.1L360.0 1671.9L362.6 1673.6L365.1 1676.9L367.7 1679.5L370.3 1680.9L372.9 1681.3L375.4 1680.6L378.0 1679.4L380.6 1680.7L383.1 1681.9L385.7 1681.3L388.3 1680.3L390.9 1679.8L393.4 1679.4L396.0 1678.6L398.6 1677.9L401.2 1677.3L403.7 1678.0L406.3 1679.5L408.9 1680.1L411.5 1679.2L414.0 1679.0L416.6 1679.8L419.2 1679.4L421.8 1678.8L424.3 1677.4L426.9 1676.2L429.5 1673.8L432.1 1672.3L434.6 1675.2L437.2 1678.2L439.8 1680.4L442.4 1680.7L444.9 1680.2L447.5 1679.6L450.1 1677.4L452.6 1673.8L455.2 1669.7L457.8 1669.2L460.4 1673.7L462.9 1676.7L465.5 1678.6L468.1 1679.8L470.7 1680.8L473.2 1681.3L475.8 1680.9L478.4 1680.4L481.0 1679.9L483.5 1680.0L486.1 1680.0L488.7 1679.1L491.3 1678.5L493.8 1677.9L496.4 1677.7L499.0 1678.6L501.6 1678.7L504.1 1679.6L506.7 1680.1L509.3 1680.2L511.8 1680.6L514.4 1680.8L517.0 1681.7L519.6 1682.3L522.1 1681.9L524.7 1680.8L527.3 1681.4L529.9 1680.6L532.4 1679.6L535.0 1680.3L537.6 1677.9L540.2 1674.7L542.7 1672.5L545.3 1675.5L547.9 1677.7L550.5 1676.7L553.0 1675.4L555.6 1671.6L558.2 1674.0L560.8 1677.9L563.3 1679.2L565.9 1680.2L568.5 1681.0L571.1 1681.6L573.6 1679.6L576.2 1671.0L578.8 1646.1L581.3 1589.2L583.9 1500.5L586.5 1416.8L589.1 1394.2L591.6 1460.4L594.2 1552.8L596.8 1617.3L599.4 1650.9L601.9 1665.5L604.5 1670.3L607.1 1672.6L609.7 1674.4L612.2 1677.0L614.8 1678.4L617.4 1678.2L620.0 1678.1L622.5 1678.8L625.1 1679.3L627.7 1679.8L630.3 1680.2L632.8 1679.6L635.4 1678.8L638.0 1677.3L640.5 1674.3L643.1 1667.2L645.7 1658.9L648.3 1656.7L650.8 1662.9L653.4 1670.5L656.0 1674.8L658.6 1678.2L661.1 1679.6L663.7 1679.1L666.3 1679.1L668.9 1679.3L671.4 1680.1L674.0 1679.8L676.6 1679.6L679.2 1680.4L681.7 1680.1L684.3 1679.9L686.9 1680.0L689.5 1679.3L692.0 1677.2L694.6 1676.4L697.2 1676.6L699.8 1675.9L702.3 1674.5L704.9 1673.7L707.5 1672.7L710.0 1671.5L712.6 1671.8L715.2 1672.5L717.8 1673.7L720.3 1674.8L722.9 1675.6L725.5 1676.7L728.1 1677.7L730.6 1678.2L733.2 1678.8L735.8 1678.9L738.4 1679.1L740.9 1679.2L743.5 1679.0L746.1 1679.4L748.7 1679.7L751.2 1679.0L753.8 1677.8L756.4 1677.3L759.0 1676.3L761.5 1675.3L764.1 1674.9L766.7 1674.6L769.2 1673.4L771.8 1672.8L774.4 1673.0L777.0 1673.0L779.5 1674.4L782.1 1676.0L784.7 1677.0L787.3 1678.0L789.8 1679.1L792.4 1680.7L795.0 1680.2L797.6 1678.5L800.1 1677.9L802.7 1676.5L805.3 1674.8L807.9 1675.2L810.4 1677.0L813.0 1678.1L815.6 1677.0L818.2 1673.9L820.7 1668.8L823.3 1665.7L825.9 1667.4L828.5 1671.9L831.0 1676.5L833.6 1677.5L836.2 1678.7L838.7 1680.5L841.3 1680.8L843.9 1680.6L846.5 1680.6L849.0 1681.9L851.6 1681.6L854.2 1680.5L856.8 1680.5L859.3 1680.6L861.9 1680.3L864.5 1679.4L867.1 1676.5L869.6 1673.0L872.2 1669.2L874.8 1663.5L877.4 1647.8L879.9 1609.6L882.5 1551.1L885.1 1498.6L887.7 1489.8L890.2 1538.6L892.8 1600.0L895.4 1642.0L897.9 1662.9L900.5 1671.0L903.1 1674.6L905.7 1677.4L908.2 1678.4L910.8 1679.3L913.4 1679.5L916.0 1679.6L918.5 1680.2L921.1 1679.8L923.7 1680.9L926.3 1681.5L928.8 1680.4L931.4 1680.0L934.0 1680.2L936.6 1681.1L939.1 1680.8L941.7 1680.1L944.3 1679.6L946.9 1679.1L949.4 1680.3L952.0 1680.7L954.6 1680.5L957.2 1681.6L959.7 1681.4L962.3 1680.4L964.9 1681.8"/><path d="M580.7 1589.2L583.3 1500.5L585.9 1416.8L588.5 1394.2M879.3 1609.6L881.9 1551.1L884.5 1498.6L887.1 1489.8" fill="none" stroke-width="5" stroke-opacity="0.3" stroke-linecap="butt"/><path d="M310.5 1691.8L313.1 1691.9L315.6 1691.6L318.2 1690.2L320.8 1686.2L323.4 1682.1L325.9 1686.7L328.5 1689.8L331.1 1691.3L333.7 1692.0L336.2 1690.5L338.8 1690.1L341.4 1689.8L344.0 1689.2L346.5 1687.8L349.1 1683.5L351.7 1677.1L354.3 1678.7L356.8 1684.7L359.4 1689.2L362.0 1691.3L364.6 1691.9L367.1 1692.2L369.7 1692.0L372.3 1691.8L374.8 1691.3L377.4 1690.5L380.0 1689.5L382.6 1689.8L385.1 1690.0L387.7 1688.6L390.3 1688.1L392.9 1688.4L395.4 1689.3L398.0 1689.4L400.6 1689.0L403.2 1690.3L405.7 1691.4L408.3 1691.6L410.9 1690.7L413.5 1690.1L416.0 1690.0L418.6 1687.8L421.2 1683.4L423.8 1681.9L426.3 1684.9L428.9 1687.8L431.5 1689.4L434.1 1689.6L436.6 1689.2L439.2 1688.4L441.8 1687.4L444.3 1684.1L446.9 1677.4L449.5 1675.3L452.1 1681.6L454.6 1687.1L457.2 1688.7L459.8 1688.7L462.4 1690.0L464.9 1690.9L467.5 1690.0L470.1 1690.0L472.7 1689.9L475.2 1690.1L477.8 1690.3L480.4 1689.0L483.0 1687.9L485.5 1687.7L488.1 1689.2L490.7 1690.6L493.3 1690.6L495.8 1690.0L498.4 1689.6L501.0 1689.8L503.5 1690.0L506.1 1691.0L508.7 1691.5L511.3 1691.7L513.8 1691.2L516.4 1691.3L519.0 1691.6L521.6 1690.7L524.1 1689.9L526.7 1689.7L529.3 1688.5L531.9 1685.6L534.4 1682.7L537.0 1684.5L539.6 1687.8L542.2 1688.7L544.7 1687.1L547.3 1683.9L549.9 1685.5L552.5 1688.1L555.0 1690.1L557.6 1691.1L560.2 1690.5L562.8 1691.0L565.3 1690.8L567.9 1682.3L570.5 1656.8L573.0 1599.5L575.6 1509.0L578.2 1424.4L580.8 1402.6L583.3 1469.4L585.9 1561.1L588.5 1626.9L591.1 1660.1L593.6 1674.3L596.2 1680.8L598.8 1683.2L601.4 1684.7L603.9 1685.8L606.5 1686.9L609.1 1686.7L611.7 1687.3L614.2 1688.3L616.8 1688.3L619.4 1688.9L622.0 1688.6L624.5 1689.0L627.1 1688.2L629.7 1686.6L632.2 1683.7L634.8 1675.6L637.4 1666.1L640.0 1663.4L642.5 1670.9L645.1 1678.6L647.7 1683.9L650.3 1687.3L652.8 1689.0L655.4 1689.9L658.0 1689.4L660.6 1688.8L663.1 1688.8L665.7 1688.8L668.3 1688.7L670.9 1689.4L673.4 1690.1L676.0 1690.0L678.6 1689.2L681.2 1688.2L683.7 1687.3L686.3 1686.6L688.9 1685.2L691.5 1682.6L694.0 1680.8L696.6 1680.7L699.2 1679.3L701.7 1677.5L704.3 1677.3L706.9 1678.3L709.5 1680.0L712.0 1681.9L714.6 1683.8L717.2 1684.7L719.8 1686.2L722.3 1687.5L724.9 1688.0L727.5 1688.3L730.1 1688.8L732.6 1689.0L735.2 1689.7L737.8 1689.9L740.4 1688.3L742.9 1687.4L745.5 1687.5L748.1 1687.3L750.7 1685.5L753.2 1683.7L755.8 1682.5L758.4 1681.5L760.9 1681.1L763.5 1680.7L766.1 1681.8L768.7 1684.1L771.2 1684.5L773.8 1685.5L776.4 1686.7L779.0 1687.6L781.5 1689.1L784.1 1688.5L786.7 1688.2L789.3 1689.1L791.8 1687.9L794.4 1685.1L797.0 1683.4L799.6 1684.4L802.1 1686.9L804.7 1688.1L807.3 1686.6L809.9 1683.5L812.4 1679.1L815.0 1675.6L817.6 1677.4L820.2 1681.3L822.7 1685.4L825.3 1688.9L827.9 1689.8L830.4 1690.0L833.0 1690.3L835.6 1691.1L838.2 1691.2L840.7 1690.0L843.3 1688.9L845.9 1689.9L848.5 1690.7L851.0 1691.2L853.6 1690.8L856.2 1688.2L858.8 1685.8L861.3 1681.6L863.9 1677.0L866.5 1672.0L869.1 1658.7L871.6 1623.1L874.2 1565.0L876.8 1514.1L879.4 1506.9L881.9 1553.9L884.5 1611.5L887.1 1651.8L889.6 1672.3L892.2 1680.7L894.8 1683.8L897.4 1686.9L899.9 1689.3L902.5 1688.0L905.1 1687.6L907.7 1688.8L910.2 1689.8L912.8 1691.0L915.4 1691.3L918.0 1690.7L920.5 1691.1L923.1 1690.5L925.7 1689.7L928.3 1690.6L930.8 1690.7L933.4 1690.7L936.0 1691.0L938.6 1691.3L941.1 1690.3L943.7 1690.8L946.3 1692.1L948.9 1691.0L951.4 1690.5L954.0 1691.7L956.6 1691.8"/><path d="M572.4 1599.5L575.0 1509.0L577.6 1424.4L580.2 1402.6M871.0 1623.1L873.6 1565.0L876.2 1514.1L878.8 1506.9" fill="none" stroke-width="5" stroke-opacity="0.3" stroke-linecap="butt"/><path d="M302.2 1701.9L304.8 1700.8L307.3 1700.9L309.9 1700.1L312.5 1696.9L315.1 1692.5L317.6 1695.8L320.2 1699.2L322.8 1700.8L325.4 1701.5L327.9 1701.7L330.5 1701.4L333.1 1700.4L335.7 1700.0L338.2 1699.0L340.8 1695.2L343.4 1688.3L346.0 1689.5L348.5 1696.7L351.1 1699.2L353.7 1699.2L356.3 1700.2L358.8 1701.1L361.4 1701.2L364.0 1701.5L366.5 1701.0L369.1 1699.8L371.7 1699.5L374.3 1699.5L376.8 1699.3L379.4 1698.5L382.0 1697.4L384.6 1697.8L387.1 1698.9L389.7 1699.4L392.3 1700.5L394.9 1700.6L397.4 1699.8L400.0 1700.6L402.6 1700.7L405.2 1699.6L407.7 1699.1L410.3 1697.1L412.9 1694.9L415.5 1694.2L418.0 1696.6L420.6 1699.0L423.2 1700.4L425.8 1700.4L428.3 1699.5L430.9 1699.6L433.5 1698.6L436.0 1694.8L438.6 1688.2L441.2 1686.9L443.8 1693.0L446.3 1697.8L448.9 1700.0L451.5 1700.7L454.1 1701.3L456.6 1701.4L459.2 1700.2L461.8 1700.0L464.4 1700.3L466.9 1700.2L469.5 1699.5L472.1 1698.5L474.7 1697.9L477.2 1698.4L479.8 1699.6L482.4 1699.8L485.0 1700.3L487.5 1700.5L490.1 1700.5L492.7 1701.2L495.2 1701.2L497.8 1700.6L500.4 1700.3L503.0 1701.1L505.5 1701.4L508.1 1701.0L510.7 1700.6L513.3 1700.7L515.8 1701.2L518.4 1700.1L521.0 1698.3L523.6 1695.3L526.1 1692.1L528.7 1693.8L531.3 1696.9L533.9 1698.0L536.4 1696.1L539.0 1693.1L541.6 1694.3L544.2 1698.0L546.7 1700.1L549.3 1700.4L551.9 1701.7L554.5 1702.5L557.0 1701.5L559.6 1693.2L562.2 1667.3L564.7 1612.0L567.3 1525.9L569.9 1444.8L572.5 1423.7L575.0 1487.6L577.6 1576.1L580.2 1640.3L582.8 1672.0L585.3 1684.3L587.9 1690.5L590.5 1692.7L593.1 1693.1L595.6 1694.7L598.2 1696.1L600.8 1697.6L603.4 1698.7L605.9 1699.4L608.5 1699.7L611.1 1698.6L613.7 1698.5L616.2 1699.5L618.8 1698.0L621.4 1694.9L623.9 1691.3L626.5 1685.6L629.1 1676.2L631.7 1673.0L634.2 1681.7L636.8 1690.1L639.4 1694.6L642.0 1697.5L644.5 1699.4L647.1 1700.2L649.7 1700.3L652.3 1700.4L654.8 1700.7L657.4 1700.0L660.0 1699.7L662.6 1700.0L665.1 1699.7L667.7 1699.1L670.3 1698.3L672.9 1698.7L675.4 1699.3L678.0 1697.6L680.6 1695.5L683.2 1693.8L685.7 1692.3L688.3 1690.7L690.9 1689.7L693.4 1690.2L696.0 1690.1L698.6 1691.1L701.2 1693.2L703.7 1694.0L706.3 1695.2L708.9 1696.2L711.5 1697.3L714.0 1697.6L716.6 1698.5L719.2 1699.4L721.8 1699.4L724.3 1699.2L726.9 1699.2L729.5 1699.3L732.1 1700.2L734.6 1700.4L737.2 1697.6L739.8 1696.4L742.4 1696.2L744.9 1694.8L747.5 1692.7L750.1 1692.6L752.6 1693.2L755.2 1693.0L757.8 1693.2L760.4 1694.3L762.9 1696.4L765.5 1697.9L768.1 1697.8L770.7 1697.8L773.2 1698.3L775.8 1699.5L778.4 1700.3L781.0 1699.4L783.5 1697.3L786.1 1694.6L788.7 1693.4L791.3 1695.2L793.8 1697.2L796.4 1698.0L799.0 1697.2L801.6 1694.0L804.1 1690.6L806.7 1688.4L809.3 1688.2L811.9 1691.5L814.4 1696.0L817.0 1698.5L819.6 1699.8L822.1 1700.3L824.7 1700.5L827.3 1701.4L829.9 1701.9L832.4 1701.4L835.0 1701.0L837.6 1700.9L840.2 1700.7L842.7 1701.3L845.3 1701.3L847.9 1699.2L850.5 1695.8L853.0 1691.6L855.6 1686.4L858.2 1680.9L860.8 1666.9L863.3 1630.8L865.9 1572.4L868.5 1519.9L871.1 1512.3L873.6 1560.5L876.2 1620.6L878.8 1662.2L881.3 1682.3L883.9 1690.8L886.5 1695.0L889.1 1696.7L891.6 1697.4L894.2 1697.9L896.8 1698.3L899.4 1698.7L901.9 1699.2L904.5 1699.7L907.1 1699.8L909.7 1699.8L912.2 1700.2L914.8 1701.3L917.4 1701.8L920.0 1701.4L922.5 1702.1L925.1 1701.3L927.7 1699.9L930.3 1700.0L932.8 1700.5L935.4 1700.4L938.0 1701.4L940.6 1701.5L943.1 1701.7L945.7 1702.3L948.3 1701.9"/><path d="M564.1 1612.0L566.7 1525.9L569.3 1444.8L571.9 1423.7M862.7 1630.8L865.3 1572.4L867.9 1519.9L870.5 1512.3" fill="none" stroke-width="5" stroke-opacity="0.3" stroke-linecap="butt"/><path d="M293.9 1711.9L296.5 1711.3L299.0 1709.5L301.6 1709.8L304.2 1707.4L306.8 1703.3L309.3 1706.7L311.9 1710.8L314.5 1711.8L317.1 1710.9L319.6 1711.0L322.2 1710.3L324.8 1711.3L327.4 1711.2L329.9 1708.6L332.5 1704.5L335.1 1697.9L337.7 1699.3L340.2 1706.1L342.8 1709.2L345.4 1710.3L348.0 1710.8L350.5 1710.7L353.1 1711.3L355.7 1711.2L358.2 1711.8L360.8 1711.9L363.4 1711.5L366.0 1710.5L368.5 1708.9L371.1 1709.5L373.7 1710.7L376.3 1709.8L378.8 1709.2L381.4 1710.2L384.0 1709.4L386.6 1709.5L389.1 1711.3L391.7 1711.3L394.3 1710.6L396.9 1709.4L399.4 1708.4L402.0 1707.4L404.6 1704.2L407.2 1702.0L409.7 1706.0L412.3 1709.4L414.9 1709.2L417.5 1709.4L420.0 1710.0L422.6 1710.1L425.2 1708.7L427.7 1705.0L430.3 1700.2L432.9 1699.0L435.5 1703.7L438.0 1707.2L440.6 1708.9L443.2 1709.8L445.8 1710.3L448.3 1710.1L450.9 1709.4L453.5 1709.7L456.1 1710.6L458.6 1710.5L461.2 1711.1L463.8 1711.0L466.4 1709.4L468.9 1709.5L471.5 1709.5L474.1 1709.1L476.7 1708.7L479.2 1709.3L481.8 1711.2L484.4 1712.5L486.9 1712.1L489.5 1710.7L492.1 1710.3L494.7 1710.6L497.2 1711.4L499.8 1711.7L502.4 1711.4L505.0 1710.8L507.5 1710.1L510.1 1709.3L512.7 1706.8L515.3 1703.3L517.8 1700.9L520.4 1703.0L523.0 1706.0L525.6 1707.8L528.1 1707.4L530.7 1704.7L533.3 1705.4L535.9 1708.0L538.4 1709.7L541.0 1710.3L543.6 1710.1L546.2 1710.7L548.7 1708.5L551.3 1699.3L553.9 1675.3L556.4 1619.5L559.0 1531.3L561.6 1448.9L564.2 1427.5L566.7 1492.6L569.3 1583.6L571.9 1648.6L574.5 1680.8L577.0 1694.5L579.6 1700.8L582.2 1703.4L584.8 1704.5L587.3 1705.1L589.9 1707.4L592.5 1708.9L595.1 1708.6L597.6 1708.7L600.2 1708.9L602.8 1708.7L605.4 1709.4L607.9 1709.4L610.5 1708.3L613.1 1707.0L615.6 1704.2L618.2 1698.1L620.8 1690.4L623.4 1687.6L625.9 1694.8L628.5 1702.6L631.1 1706.5L633.7 1708.5L636.2 1708.7L638.8 1709.0L641.4 1709.3L644.0 1709.3L646.5 1709.5L649.1 1709.9L651.7 1709.8L654.3 1709.1L656.8 1708.9L659.4 1708.9L662.0 1708.7L664.6 1709.2L667.1 1708.9L669.7 1707.0L672.3 1704.9L674.9 1702.7L677.4 1701.4L680.0 1700.9L682.6 1699.4L685.1 1697.8L687.7 1697.8L690.3 1699.6L692.9 1701.9L695.4 1703.7L698.0 1705.3L700.6 1705.8L703.2 1706.4L705.7 1706.8L708.3 1706.8L710.9 1707.8L713.5 1709.2L716.0 1709.5L718.6 1709.0L721.2 1709.8L723.8 1710.3L726.3 1709.6L728.9 1707.9L731.5 1707.0L734.1 1707.2L736.6 1706.0L739.2 1704.1L741.8 1703.8L744.3 1702.7L746.9 1702.5L749.5 1703.5L752.1 1703.8L754.6 1705.7L757.2 1707.1L759.8 1707.7L762.4 1708.5L764.9 1708.8L767.5 1709.0L770.1 1710.2L772.7 1710.0L775.2 1708.8L777.8 1707.3L780.4 1705.5L783.0 1706.2L785.5 1707.4L788.1 1708.0L790.7 1708.1L793.3 1705.1L795.8 1700.8L798.4 1698.3L801.0 1699.4L803.6 1703.4L806.1 1706.9L808.7 1709.3L811.3 1709.6L813.8 1709.2L816.4 1711.2L819.0 1712.4L821.6 1711.5L824.1 1711.4L826.7 1712.4L829.3 1711.8L831.9 1711.3L834.4 1711.1L837.0 1709.8L839.6 1708.2L842.2 1706.5L844.7 1703.1L847.3 1699.6L849.9 1694.3L852.5 1678.5L855.0 1643.6L857.6 1589.4L860.2 1539.4L862.8 1530.4L865.3 1577.4L867.9 1636.3L870.5 1675.5L873.0 1694.3L875.6 1701.6L878.2 1704.5L880.8 1706.4L883.3 1707.8L885.9 1708.3L888.5 1708.9L891.1 1710.5L893.6 1711.6L896.2 1711.0L898.8 1710.4L901.4 1711.6L903.9 1711.9L906.5 1711.4L909.1 1710.8L911.7 1711.6L914.2 1712.2L916.8 1711.0L919.4 1710.6L922.0 1710.7L924.5 1710.0L927.1 1710.8L929.7 1712.0L932.3 1711.2L934.8 1710.2L937.4 1710.6L940.0 1711.9"/><path d="M555.8 1619.5L558.4 1531.3L561.0 1448.9L563.6 1427.5M854.4 1643.6L857.0 1589.4L859.6 1539.4L862.2 1530.4" fill="none" stroke-width="5" stroke-opacity="0.3" stroke-linecap="butt"/><path d="M285.6 1721.9L288.2 1721.2L290.7 1720.7L293.3 1720.9L295.9 1718.6L298.5 1714.4L301.0 1717.4L303.6 1719.5L306.2 1720.4L308.8 1721.9L311.3 1722.0L313.9 1721.8L316.5 1720.6L319.1 1719.8L321.6 1718.1L324.2 1713.6L326.8 1707.2L329.4 1709.0L331.9 1715.6L334.5 1719.6L337.1 1721.4L339.7 1721.2L342.2 1720.7L344.8 1720.6L347.4 1720.9L349.9 1721.1L352.5 1721.9L355.1 1721.3L357.7 1719.8L360.2 1719.3L362.8 1718.7L365.4 1718.4L368.0 1719.1L370.5 1719.4L373.1 1719.7L375.7 1720.4L378.3 1720.7L380.8 1721.0L383.4 1721.4L386.0 1720.2L388.6 1719.0L391.1 1718.7L393.7 1717.1L396.3 1713.9L398.9 1712.5L401.4 1715.7L404.0 1717.8L406.6 1719.5L409.2 1720.6L411.7 1719.2L414.3 1719.1L416.9 1717.4L419.4 1713.7L422.0 1709.2L424.6 1709.0L427.2 1713.8L429.7 1716.7L432.3 1718.8L434.9 1719.2L437.5 1719.4L440.0 1721.3L442.6 1721.3L445.2 1719.2L447.8 1719.4L450.3 1719.4L452.9 1719.0L455.5 1718.9L458.1 1719.4L460.6 1720.1L463.2 1719.1L465.8 1718.9L468.4 1720.1L470.9 1720.0L473.5 1719.4L476.1 1720.5L478.6 1721.9L481.2 1721.5L483.8 1720.9L486.4 1720.9L488.9 1720.2L491.5 1720.6L494.1 1721.1L496.7 1720.4L499.2 1720.0L501.8 1720.5L504.4 1718.2L507.0 1713.4L509.5 1710.8L512.1 1713.2L514.7 1716.5L517.3 1717.8L519.8 1715.2L522.4 1712.0L525.0 1715.0L527.6 1718.6L530.1 1720.5L532.7 1720.9L535.3 1720.9L537.9 1722.0L540.4 1720.2L543.0 1712.5L545.6 1685.8L548.1 1625.6L550.7 1534.0L553.3 1447.6L555.9 1425.5L558.4 1494.2L561.0 1588.3L563.6 1655.8L566.2 1690.9L568.7 1705.7L571.3 1710.5L573.9 1712.5L576.5 1715.1L579.0 1717.1L581.6 1717.4L584.2 1717.2L586.8 1717.7L589.3 1718.0L591.9 1719.0L594.5 1718.8L597.1 1719.1L599.6 1719.8L602.2 1718.5L604.8 1715.9L607.3 1711.6L609.9 1704.2L612.5 1694.6L615.1 1691.3L617.6 1700.2L620.2 1710.0L622.8 1715.3L625.4 1717.8L627.9 1719.2L630.5 1718.9L633.1 1719.0L635.7 1720.0L638.2 1719.9L640.8 1719.8L643.4 1719.8L646.0 1720.0L648.5 1720.5L651.1 1720.6L653.7 1719.3L656.3 1717.5L658.8 1716.8L661.4 1716.3L664.0 1715.7L666.6 1714.6L669.1 1712.9L671.7 1711.5L674.3 1711.0L676.8 1709.9L679.4 1709.2L682.0 1710.3L684.6 1712.0L687.1 1713.9L689.7 1715.3L692.3 1716.2L694.9 1717.8L697.4 1718.9L700.0 1719.5L702.6 1719.1L705.2 1719.5L707.7 1720.6L710.3 1720.4L712.9 1719.6L715.5 1719.2L718.0 1718.0L720.6 1716.5L723.2 1717.5L725.8 1716.7L728.3 1714.2L730.9 1713.6L733.5 1712.8L736.0 1711.6L738.6 1711.9L741.2 1712.6L743.8 1713.3L746.3 1714.7L748.9 1716.1L751.5 1717.5L754.1 1718.1L756.6 1718.5L759.2 1718.6L761.8 1717.5L764.4 1716.8L766.9 1716.6L769.5 1714.8L772.1 1712.8L774.7 1714.1L777.2 1716.6L779.8 1718.4L782.4 1717.4L785.0 1714.8L787.5 1709.9L790.1 1705.3L792.7 1706.6L795.3 1711.7L797.8 1716.1L800.4 1718.1L803.0 1719.3L805.5 1720.3L808.1 1719.8L810.7 1719.9L813.3 1721.0L815.8 1721.3L818.4 1720.6L821.0 1720.7L823.6 1721.5L826.1 1720.5L828.7 1719.2L831.3 1717.7L833.9 1716.1L836.4 1713.0L839.0 1708.9L841.6 1703.3L844.2 1688.6L846.7 1652.3L849.3 1593.8L851.9 1542.4L854.5 1535.5L857.0 1582.4L859.6 1640.8L862.2 1682.5L864.7 1703.1L867.3 1711.3L869.9 1714.2L872.5 1715.9L875.0 1718.3L877.6 1719.5L880.2 1718.6L882.8 1718.2L885.3 1718.9L887.9 1720.1L890.5 1720.4L893.1 1719.8L895.6 1720.1L898.2 1720.4L900.8 1720.0L903.4 1720.0L905.9 1720.4L908.5 1720.7L911.1 1721.5L913.7 1721.9L916.2 1721.1L918.8 1720.2L921.4 1720.5L924.0 1720.8L926.5 1720.9L929.1 1721.9L931.7 1721.9"/><path d="M547.5 1625.6L550.1 1534.0L552.7 1447.6L555.3 1425.5M846.1 1652.3L848.7 1593.8L851.3 1542.4L853.9 1535.5" fill="none" stroke-width="5" stroke-opacity="0.3" stroke-linecap="butt"/><path d="M277.3 1732.0L279.9 1732.0L282.4 1732.6L285.0 1729.8L287.6 1725.5L290.2 1722.1L292.7 1726.3L295.3 1730.0L297.9 1731.0L300.5 1731.5L303.0 1731.6L305.6 1731.6L308.2 1731.4L310.8 1729.8L313.3 1728.1L315.9 1725.1L318.5 1718.2L321.1 1718.8L323.6 1725.5L326.2 1729.9L328.8 1730.5L331.4 1729.6L333.9 1730.7L336.5 1730.8L339.1 1730.9L341.6 1731.6L344.2 1731.3L346.8 1730.8L349.4 1730.2L351.9 1729.1L354.5 1728.6L357.1 1728.6L359.7 1728.3L362.2 1728.6L364.8 1729.5L367.4 1730.2L370.0 1729.7L372.5 1729.6L375.1 1730.9L377.7 1731.4L380.3 1731.1L382.8 1730.4L385.4 1728.5L388.0 1725.8L390.6 1724.6L393.1 1726.4L395.7 1728.6L398.3 1730.1L400.9 1730.3L403.4 1730.3L406.0 1729.4L408.6 1726.5L411.1 1724.8L413.7 1720.3L416.3 1717.9L418.9 1723.2L421.4 1727.5L424.0 1730.1L426.6 1730.9L429.2 1730.7L431.7 1730.9L434.3 1730.7L436.9 1730.8L439.5 1729.5L442.0 1729.5L444.6 1730.4L447.2 1730.1L449.8 1729.7L452.3 1728.3L454.9 1728.3L457.5 1729.6L460.1 1730.6L462.6 1730.4L465.2 1730.5L467.8 1730.7L470.3 1731.0L472.9 1731.6L475.5 1731.5L478.1 1732.0L480.6 1731.4L483.2 1731.2L485.8 1731.6L488.4 1730.7L490.9 1729.3L493.5 1728.6L496.1 1727.6L498.7 1724.8L501.2 1722.4L503.8 1724.4L506.4 1726.9L509.0 1728.2L511.5 1727.1L514.1 1722.6L516.7 1724.7L519.3 1730.0L521.8 1731.4L524.4 1731.2L527.0 1730.5L529.6 1730.0L532.1 1728.6L534.7 1721.4L537.3 1696.5L539.8 1637.9L542.4 1548.0L545.0 1463.4L547.6 1441.2L550.1 1507.9L552.7 1601.2L555.3 1668.8L557.9 1701.3L560.4 1714.1L563.0 1720.4L565.6 1722.1L568.2 1723.3L570.7 1725.5L573.3 1727.2L575.9 1727.8L578.5 1727.9L581.0 1728.5L583.6 1728.1L586.2 1727.8L588.8 1728.1L591.3 1728.5L593.9 1728.4L596.5 1725.9L599.0 1721.5L601.6 1714.3L604.2 1703.6L606.8 1700.1L609.3 1709.6L611.9 1719.6L614.5 1724.9L617.1 1727.2L619.6 1729.1L622.2 1730.1L624.8 1729.9L627.4 1730.3L629.9 1730.5L632.5 1730.2L635.1 1730.8L637.7 1731.8L640.2 1731.5L642.8 1730.2L645.4 1729.6L648.0 1728.6L650.5 1728.0L653.1 1727.8L655.7 1726.7L658.3 1725.8L660.8 1724.0L663.4 1722.8L666.0 1723.0L668.5 1722.5L671.1 1721.7L673.7 1722.5L676.3 1724.5L678.8 1725.2L681.4 1725.5L684.0 1727.0L686.6 1728.1L689.1 1728.8L691.7 1729.0L694.3 1729.5L696.9 1730.5L699.4 1730.3L702.0 1730.6L704.6 1730.3L707.2 1729.4L709.7 1729.3L712.3 1728.3L714.9 1727.2L717.5 1727.1L720.0 1726.7L722.6 1726.0L725.2 1724.5L727.7 1724.5L730.3 1725.3L732.9 1725.7L735.5 1726.7L738.0 1726.9L740.6 1727.6L743.2 1727.9L745.8 1728.7L748.3 1730.0L750.9 1729.7L753.5 1730.0L756.1 1730.5L758.6 1729.1L761.2 1726.1L763.8 1724.6L766.4 1725.5L768.9 1727.8L771.5 1728.7L774.1 1726.2L776.7 1723.2L779.2 1719.4L781.8 1716.0L784.4 1717.6L787.0 1721.5L789.5 1725.7L792.1 1728.5L794.7 1730.0L797.2 1730.7L799.8 1730.5L802.4 1731.9L805.0 1732.1L807.5 1730.9L810.1 1730.7L812.7 1730.8L815.3 1730.4L817.8 1730.5L820.4 1730.9L823.0 1729.4L825.6 1726.0L828.1 1723.7L830.7 1720.5L833.3 1714.9L835.9 1700.7L838.4 1664.2L841.0 1606.8L843.6 1554.9L846.2 1546.0L848.7 1593.5L851.3 1652.5L853.9 1692.4L856.4 1712.6L859.0 1721.7L861.6 1724.9L864.2 1726.7L866.7 1727.8L869.3 1727.8L871.9 1728.5L874.5 1729.6L877.0 1730.0L879.6 1730.7L882.2 1730.3L884.8 1728.8L887.3 1729.6L889.9 1731.8L892.5 1732.2L895.1 1732.0L897.6 1732.6L900.2 1732.1L902.8 1731.4L905.4 1731.7L907.9 1731.1L910.5 1730.9L913.1 1731.9L915.7 1731.7L918.2 1731.9L920.8 1732.3L923.4 1732.0"/><path d="M539.2 1637.9L541.8 1548.0L544.4 1463.4L547.0 1441.2M837.8 1664.2L840.4 1606.8L843.0 1554.9L845.6 1546.0" fill="none" stroke-width="5" stroke-opacity="0.3" stroke-linecap="butt"/><path d="M269.0 1742.0L271.6 1740.7L274.1 1740.6L276.7 1740.4L279.3 1736.4L281.9 1732.5L284.4 1737.3L287.0 1741.2L289.6 1741.3L292.2 1741.2L294.7 1741.4L297.3 1740.5L299.9 1740.8L302.5 1740.2L305.0 1739.0L307.6 1734.9L310.2 1727.6L312.8 1729.1L315.3 1735.3L317.9 1738.7L320.5 1739.8L323.1 1740.7L325.6 1741.9L328.2 1742.3L330.8 1741.3L333.3 1741.2L335.9 1741.6L338.5 1740.7L341.1 1740.2L343.6 1740.3L346.2 1740.6L348.8 1739.3L351.4 1738.4L353.9 1739.8L356.5 1740.4L359.1 1740.1L361.7 1741.2L364.2 1741.4L366.8 1740.6L369.4 1740.3L372.0 1739.9L374.5 1739.5L377.1 1737.8L379.7 1733.6L382.3 1732.2L384.8 1735.1L387.4 1737.9L390.0 1739.7L392.6 1739.9L395.1 1740.9L397.7 1740.2L400.3 1738.5L402.8 1736.9L405.4 1732.2L408.0 1730.1L410.6 1734.5L413.1 1738.4L415.7 1740.2L418.3 1740.9L420.9 1740.4L423.4 1740.2L426.0 1740.5L428.6 1740.1L431.2 1741.3L433.7 1741.2L436.3 1739.2L438.9 1738.7L441.5 1739.3L444.0 1739.6L446.6 1738.7L449.2 1738.5L451.8 1739.0L454.3 1740.2L456.9 1740.7L459.5 1739.8L462.0 1740.2L464.6 1740.4L467.2 1740.2L469.8 1740.5L472.3 1741.2L474.9 1741.8L477.5 1741.7L480.1 1740.6L482.6 1739.4L485.2 1739.5L487.8 1738.7L490.4 1734.4L492.9 1730.0L495.5 1732.5L498.1 1736.2L500.7 1737.1L503.2 1735.3L505.8 1732.2L508.4 1734.0L511.0 1737.6L513.5 1739.8L516.1 1740.1L518.7 1740.8L521.3 1741.6L523.8 1739.9L526.4 1731.3L529.0 1704.7L531.5 1646.5L534.1 1555.2L536.7 1469.2L539.3 1447.5L541.8 1515.5L544.4 1608.9L547.0 1675.9L549.6 1710.7L552.1 1724.9L554.7 1729.9L557.3 1732.2L559.9 1734.2L562.4 1736.4L565.0 1738.2L567.6 1738.5L570.2 1738.4L572.7 1739.0L575.3 1739.4L577.9 1739.5L580.5 1739.1L583.0 1738.4L585.6 1738.4L588.2 1736.6L590.7 1732.5L593.3 1727.2L595.9 1719.4L598.5 1716.1L601.0 1723.8L603.6 1732.5L606.2 1736.9L608.8 1739.1L611.3 1739.4L613.9 1739.4L616.5 1740.0L619.1 1740.0L621.6 1740.2L624.2 1739.6L626.8 1739.5L629.4 1740.4L631.9 1740.8L634.5 1740.4L637.1 1739.3L639.7 1738.3L642.2 1737.5L644.8 1736.7L647.4 1735.4L650.0 1733.5L652.5 1732.5L655.1 1730.9L657.7 1728.9L660.2 1728.5L662.8 1728.4L665.4 1729.3L668.0 1731.6L670.5 1732.8L673.1 1733.3L675.7 1735.6L678.3 1737.6L680.8 1737.6L683.4 1737.9L686.0 1738.3L688.6 1738.3L691.1 1739.7L693.7 1739.9L696.3 1739.7L698.9 1740.1L701.4 1739.4L704.0 1738.1L706.6 1737.6L709.2 1736.7L711.7 1735.5L714.3 1733.5L716.9 1732.1L719.4 1732.4L722.0 1732.8L724.6 1733.6L727.2 1733.6L729.7 1734.4L732.3 1736.6L734.9 1738.0L737.5 1738.4L740.0 1738.0L742.6 1738.4L745.2 1739.1L747.8 1738.2L750.3 1736.1L752.9 1734.2L755.5 1734.2L758.1 1736.0L760.6 1736.6L763.2 1736.9L765.8 1737.7L768.4 1735.4L770.9 1730.2L773.5 1726.1L776.1 1726.5L778.7 1730.9L781.2 1734.9L783.8 1738.7L786.4 1740.5L788.9 1740.3L791.5 1741.2L794.1 1741.0L796.7 1741.2L799.2 1742.3L801.8 1741.0L804.4 1740.2L807.0 1740.5L809.5 1739.9L812.1 1740.2L814.7 1738.8L817.3 1735.5L819.8 1732.2L822.4 1727.8L825.0 1722.2L827.6 1707.7L830.1 1671.6L832.7 1614.3L835.3 1562.7L837.9 1555.4L840.4 1602.4L843.0 1661.3L845.6 1702.1L848.1 1721.8L850.7 1730.3L853.3 1734.0L855.9 1735.8L858.4 1736.6L861.0 1738.1L863.6 1738.6L866.2 1740.4L868.7 1741.6L871.3 1741.5L873.9 1741.1L876.5 1740.6L879.0 1740.4L881.6 1740.3L884.2 1740.2L886.8 1740.8L889.3 1741.3L891.9 1741.3L894.5 1742.0L897.1 1742.6L899.6 1742.2L902.2 1741.9L904.8 1742.1L907.4 1742.2L909.9 1742.4L912.5 1740.8L915.1 1742.0"/><path d="M530.9 1646.5L533.5 1555.2L536.1 1469.2L538.7 1447.5M829.5 1671.6L832.1 1614.3L834.7 1562.7L837.3 1555.4" fill="none" stroke-width="5" stroke-opacity="0.3" stroke-linecap="butt"/></g><line x1="234.0" y1="1447.3" x2="234.0" y2="1750.0" stroke="#555" stroke-width="3" /><line x1="232.5" y1="1746.0" x2="934.5" y2="1746.0" stroke="#c8c8c8" stroke-width="2" /><line x1="232.5" y1="1748.5" x2="935.5" y2="1748.5" stroke="#222" stroke-width="3.2" /><line x1="233.4" y1="1748.5" x2="233.4" y2="1752.7" stroke="#444" stroke-width="2" /><line x1="256.8" y1="1748.5" x2="256.8" y2="1755.5" stroke="#222" stroke-width="2.2" /><text transform="translate(256.8,1799.2) scale(1,0.98)" font-size="48.6" text-anchor="middle">600</text><line x1="280.2" y1="1748.5" x2="280.2" y2="1752.7" stroke="#444" stroke-width="2" /><line x1="303.6" y1="1748.5" x2="303.6" y2="1752.7" stroke="#444" stroke-width="2" /><line x1="327.0" y1="1748.5" x2="327.0" y2="1752.7" stroke="#444" stroke-width="2" /><line x1="350.4" y1="1748.5" x2="350.4" y2="1752.7" stroke="#444" stroke-width="2" /><line x1="373.8" y1="1748.5" x2="373.8" y2="1755.5" stroke="#222" stroke-width="2.2" /><text transform="translate(373.8,1799.2) scale(1,0.98)" font-size="48.6" text-anchor="middle">800</text><line x1="397.2" y1="1748.5" x2="397.2" y2="1752.7" stroke="#444" stroke-width="2" /><line x1="420.6" y1="1748.5" x2="420.6" y2="1752.7" stroke="#444" stroke-width="2" /><line x1="444.0" y1="1748.5" x2="444.0" y2="1752.7" stroke="#444" stroke-width="2" /><line x1="467.4" y1="1748.5" x2="467.4" y2="1752.7" stroke="#444" stroke-width="2" /><line x1="490.8" y1="1748.5" x2="490.8" y2="1755.5" stroke="#222" stroke-width="2.2" /><text transform="translate(490.8,1799.2) scale(1,0.98)" font-size="48.6" text-anchor="middle">1000</text><line x1="514.2" y1="1748.5" x2="514.2" y2="1752.7" stroke="#444" stroke-width="2" /><line x1="537.6" y1="1748.5" x2="537.6" y2="1752.7" stroke="#444" stroke-width="2" /><line x1="561.0" y1="1748.5" x2="561.0" y2="1752.7" stroke="#444" stroke-width="2" /><line x1="584.4" y1="1748.5" x2="584.4" y2="1752.7" stroke="#444" stroke-width="2" /><line x1="607.8" y1="1748.5" x2="607.8" y2="1755.5" stroke="#222" stroke-width="2.2" /><text transform="translate(607.8,1799.2) scale(1,0.98)" font-size="48.6" text-anchor="middle">1200</text><line x1="631.2" y1="1748.5" x2="631.2" y2="1752.7" stroke="#444" stroke-width="2" /><line x1="654.6" y1="1748.5" x2="654.6" y2="1752.7" stroke="#444" stroke-width="2" /><line x1="678.0" y1="1748.5" x2="678.0" y2="1752.7" stroke="#444" stroke-width="2" /><line x1="701.4" y1="1748.5" x2="701.4" y2="1752.7" stroke="#444" stroke-width="2" /><line x1="724.8" y1="1748.5" x2="724.8" y2="1755.5" stroke="#222" stroke-width="2.2" /><text transform="translate(724.8,1799.2) scale(1,0.98)" font-size="48.6" text-anchor="middle">1400</text><line x1="748.2" y1="1748.5" x2="748.2" y2="1752.7" stroke="#444" stroke-width="2" /><line x1="771.6" y1="1748.5" x2="771.6" y2="1752.7" stroke="#444" stroke-width="2" /><line x1="795.0" y1="1748.5" x2="795.0" y2="1752.7" stroke="#444" stroke-width="2" /><line x1="818.4" y1="1748.5" x2="818.4" y2="1752.7" stroke="#444" stroke-width="2" /><line x1="841.8" y1="1748.5" x2="841.8" y2="1755.5" stroke="#222" stroke-width="2.2" /><text transform="translate(841.8,1799.2) scale(1,0.98)" font-size="48.6" text-anchor="middle">1600</text><line x1="865.2" y1="1748.5" x2="865.2" y2="1752.7" stroke="#444" stroke-width="2" /><line x1="888.6" y1="1748.5" x2="888.6" y2="1752.7" stroke="#444" stroke-width="2" /><line x1="912.0" y1="1748.5" x2="912.0" y2="1752.7" stroke="#444" stroke-width="2" /><line x1="935.4" y1="1748.5" x2="935.4" y2="1752.7" stroke="#444" stroke-width="2" /><text transform="translate(321.5,1869.8) scale(1,1.0)" font-size="59.2">Raman shift (cm<tspan dy="-25" font-size="37.5">−1</tspan><tspan dy="25">)</tspan></text><text transform="translate(207.8,1702.8) rotate(-90) scale(1,1.0)" font-size="59">Intensity</text></g><g id="panelD"><text transform="translate(1361.5,1221.3) scale(1,1.02)" font-size="102.5">D</text><rect x="1493.0" y="1166.4" width="728.8" height="620.1" fill="#ff0000" shape-rendering="crispEdges"/><g shape-rendering="crispEdges"><path fill="#000000" d="M1493.0 1166.4H1684.8V1178.6H1493.0ZM2042.8 1166.4H2221.8V1178.6H2042.8ZM1493.0 1178.6H1646.4V1190.7H1493.0ZM2068.4 1178.6H2221.8V1190.7H2068.4ZM1493.0 1190.7H1633.6V1202.9H1493.0ZM2081.2 1190.7H2221.8V1202.9H2081.2ZM1493.0 1202.9H1620.9V1215.0H1493.0ZM2106.7 1202.9H2221.8V1215.0H2106.7ZM1493.0 1215.0H1595.3V1227.2H1493.0ZM2106.7 1215.0H2221.8V1227.2H2106.7ZM1493.0 1227.2H1595.3V1239.4H1493.0ZM2119.5 1227.2H2221.8V1239.4H2119.5ZM1493.0 1239.4H1569.7V1251.5H1493.0ZM2145.1 1239.4H2221.8V1251.5H2145.1ZM1493.0 1251.5H1569.7V1263.7H1493.0ZM2157.9 1251.5H2221.8V1263.7H2157.9ZM1493.0 1263.7H1544.1V1275.8H1493.0ZM2157.9 1263.7H2221.8V1275.8H2157.9ZM1493.0 1275.8H1544.1V1288.0H1493.0ZM2170.7 1275.8H2221.8V1288.0H2170.7ZM1493.0 1288.0H1544.1V1300.1H1493.0ZM2170.7 1288.0H2221.8V1300.1H2170.7ZM1493.0 1300.1H1531.4V1312.3H1493.0ZM2183.4 1300.1H2221.8V1312.3H2183.4ZM1493.0 1312.3H1518.6V1324.5H1493.0ZM2196.2 1312.3H2221.8V1324.5H2196.2ZM1493.0 1324.5H1518.6V1336.6H1493.0ZM2196.2 1324.5H2221.8V1336.6H2196.2ZM1493.0 1336.6H1505.8V1348.8H1493.0ZM2209.0 1336.6H2221.8V1348.8H2209.0ZM1493.0 1348.8H1505.8V1360.9H1493.0ZM2209.0 1348.8H2221.8V1360.9H2209.0ZM2209.0 1360.9H2221.8V1373.1H2209.0ZM2209.0 1592.0H2221.8V1604.1H2209.0ZM1493.0 1616.3H1505.8V1628.4H1493.0ZM2209.0 1616.3H2221.8V1628.4H2209.0ZM1493.0 1628.4H1505.8V1640.6H1493.0ZM2209.0 1628.4H2221.8V1640.6H2209.0ZM1493.0 1640.6H1505.8V1652.8H1493.0ZM2209.0 1640.6H2221.8V1652.8H2209.0ZM1493.0 1652.8H1518.6V1664.9H1493.0ZM2196.2 1652.8H2221.8V1664.9H2196.2ZM1493.0 1664.9H1518.6V1677.1H1493.0ZM2183.4 1664.9H2221.8V1677.1H2183.4ZM1493.0 1677.1H1531.4V1689.2H1493.0ZM2170.7 1677.1H2221.8V1689.2H2170.7ZM1493.0 1689.2H1531.4V1701.4H1493.0ZM2170.7 1689.2H2221.8V1701.4H2170.7ZM1493.0 1701.4H1544.1V1713.5H1493.0ZM2170.7 1701.4H2221.8V1713.5H2170.7ZM1493.0 1713.5H1556.9V1725.7H1493.0ZM2145.1 1713.5H2221.8V1725.7H2145.1ZM1493.0 1725.7H1569.7V1737.9H1493.0ZM2145.1 1725.7H2221.8V1737.9H2145.1ZM1493.0 1737.9H1582.5V1750.0H1493.0ZM2119.5 1737.9H2221.8V1750.0H2119.5ZM1493.0 1750.0H1595.3V1762.2H1493.0ZM2106.7 1750.0H2221.8V1762.2H2106.7ZM1493.0 1762.2H1620.9V1774.3H1493.0ZM2106.7 1762.2H2221.8V1774.3H2106.7ZM1493.0 1774.3H1620.9V1786.5H1493.0ZM2081.2 1774.3H2221.8V1786.5H2081.2Z"/><path fill="#0c0000" d="M1684.8 1166.4H1697.6V1178.6H1684.8ZM2017.2 1166.4H2042.8V1178.6H2017.2ZM1646.4 1178.6H1672.0V1190.7H1646.4ZM2042.8 1178.6H2068.4V1190.7H2042.8ZM1633.6 1190.7H1646.4V1202.9H1633.6ZM2068.4 1190.7H2081.2V1202.9H2068.4ZM2093.9 1202.9H2106.7V1215.0H2093.9ZM1595.3 1215.0H1608.1V1227.2H1595.3ZM2093.9 1215.0H2106.7V1227.2H2093.9ZM2145.1 1251.5H2157.9V1263.7H2145.1ZM1544.1 1263.7H1556.9V1275.8H1544.1ZM2145.1 1263.7H2157.9V1275.8H2145.1ZM2157.9 1275.8H2170.7V1288.0H2157.9ZM1518.6 1312.3H1531.4V1324.5H1518.6ZM2183.4 1312.3H2196.2V1324.5H2183.4ZM1505.8 1336.6H1518.6V1348.8H1505.8ZM2196.2 1336.6H2209.0V1348.8H2196.2ZM1493.0 1360.9H1505.8V1373.1H1493.0ZM2209.0 1373.1H2221.8V1385.3H2209.0ZM1493.0 1592.0H1505.8V1604.1H1493.0ZM1493.0 1604.1H1505.8V1616.3H1493.0ZM2209.0 1604.1H2221.8V1616.3H2209.0ZM1505.8 1628.4H1518.6V1640.6H1505.8ZM2196.2 1628.4H2209.0V1640.6H2196.2ZM1505.8 1640.6H1518.6V1652.8H1505.8ZM2196.2 1640.6H2209.0V1652.8H2196.2ZM1518.6 1652.8H1531.4V1664.9H1518.6ZM2183.4 1652.8H2196.2V1664.9H2183.4ZM1518.6 1664.9H1531.4V1677.1H1518.6ZM1531.4 1689.2H1544.1V1701.4H1531.4ZM1544.1 1701.4H1556.9V1713.5H1544.1ZM2157.9 1701.4H2170.7V1713.5H2157.9ZM1556.9 1713.5H1569.7V1725.7H1556.9ZM1582.5 1737.9H1595.3V1750.0H1582.5ZM1595.3 1750.0H1608.1V1762.2H1595.3ZM2093.9 1762.2H2106.7V1774.3H2093.9ZM1620.9 1774.3H1646.4V1786.5H1620.9ZM2068.4 1774.3H2081.2V1786.5H2068.4Z"/><path fill="#180000" d="M1991.7 1166.4H2017.2V1178.6H1991.7ZM1672.0 1178.6H1684.8V1190.7H1672.0ZM2030.0 1178.6H2042.8V1190.7H2030.0ZM2055.6 1190.7H2068.4V1202.9H2055.6ZM1620.9 1202.9H1633.6V1215.0H1620.9ZM2081.2 1202.9H2093.9V1215.0H2081.2ZM1608.1 1215.0H1620.9V1227.2H1608.1ZM2106.7 1227.2H2119.5V1239.4H2106.7ZM1569.7 1239.4H1582.5V1251.5H1569.7ZM2132.3 1239.4H2145.1V1251.5H2132.3ZM1569.7 1251.5H1582.5V1263.7H1569.7ZM1556.9 1263.7H1569.7V1275.8H1556.9ZM1544.1 1275.8H1556.9V1288.0H1544.1ZM2170.7 1300.1H2183.4V1312.3H2170.7ZM2196.2 1348.8H2209.0V1360.9H2196.2ZM1493.0 1373.1H1505.8V1385.3H1493.0ZM2209.0 1385.3H2221.8V1397.4H2209.0ZM2209.0 1579.8H2221.8V1592.0H2209.0ZM2196.2 1616.3H2209.0V1628.4H2196.2ZM1531.4 1677.1H1544.1V1689.2H1531.4ZM1544.1 1689.2H1556.9V1701.4H1544.1ZM2157.9 1689.2H2170.7V1701.4H2157.9ZM1556.9 1701.4H1569.7V1713.5H1556.9ZM2132.3 1713.5H2145.1V1725.7H2132.3ZM1569.7 1725.7H1582.5V1737.9H1569.7ZM2132.3 1725.7H2145.1V1737.9H2132.3ZM2106.7 1737.9H2119.5V1750.0H2106.7ZM1620.9 1762.2H1633.6V1774.3H1620.9ZM2081.2 1762.2H2093.9V1774.3H2081.2ZM1646.4 1774.3H1659.2V1786.5H1646.4Z"/><path fill="#240000" d="M1697.6 1166.4H1710.4V1178.6H1697.6ZM1684.8 1178.6H1697.6V1190.7H1684.8ZM1646.4 1190.7H1672.0V1202.9H1646.4ZM2042.8 1190.7H2055.6V1202.9H2042.8ZM2068.4 1202.9H2081.2V1215.0H2068.4ZM1595.3 1227.2H1608.1V1239.4H1595.3ZM1582.5 1239.4H1595.3V1251.5H1582.5ZM2119.5 1239.4H2132.3V1251.5H2119.5ZM2132.3 1251.5H2145.1V1263.7H2132.3ZM1531.4 1300.1H1544.1V1312.3H1531.4ZM1518.6 1324.5H1531.4V1336.6H1518.6ZM2183.4 1324.5H2196.2V1336.6H2183.4ZM1505.8 1348.8H1518.6V1360.9H1505.8ZM1493.0 1385.3H1505.8V1397.4H1493.0ZM2209.0 1397.4H2221.8V1409.6H2209.0ZM2209.0 1567.6H2221.8V1579.8H2209.0ZM1493.0 1579.8H1505.8V1592.0H1493.0ZM1505.8 1616.3H1518.6V1628.4H1505.8ZM2183.4 1640.6H2196.2V1652.8H2183.4ZM2170.7 1664.9H2183.4V1677.1H2170.7ZM2145.1 1701.4H2157.9V1713.5H2145.1ZM1569.7 1713.5H1582.5V1725.7H1569.7ZM1582.5 1725.7H1595.3V1737.9H1582.5ZM2119.5 1725.7H2132.3V1737.9H2119.5ZM1595.3 1737.9H1608.1V1750.0H1595.3ZM2093.9 1750.0H2106.7V1762.2H2093.9ZM2068.4 1762.2H2081.2V1774.3H2068.4ZM1659.2 1774.3H1672.0V1786.5H1659.2ZM2055.6 1774.3H2068.4V1786.5H2055.6Z"/><path fill="#300000" d="M1710.4 1166.4H1748.7V1178.6H1710.4ZM1978.9 1166.4H1991.7V1178.6H1978.9ZM1697.6 1178.6H1710.4V1190.7H1697.6ZM2017.2 1178.6H2030.0V1190.7H2017.2ZM1633.6 1202.9H1646.4V1215.0H1633.6ZM2081.2 1215.0H2093.9V1227.2H2081.2ZM1608.1 1227.2H1620.9V1239.4H1608.1ZM2093.9 1227.2H2106.7V1239.4H2093.9ZM1556.9 1275.8H1569.7V1288.0H1556.9ZM2145.1 1275.8H2157.9V1288.0H2145.1ZM1544.1 1288.0H1556.9V1300.1H1544.1ZM2157.9 1288.0H2170.7V1300.1H2157.9ZM1505.8 1360.9H1518.6V1373.1H1505.8ZM2196.2 1360.9H2209.0V1373.1H2196.2ZM1493.0 1397.4H1505.8V1409.6H1493.0ZM2209.0 1409.6H2221.8V1421.7H2209.0ZM1493.0 1567.6H1505.8V1579.8H1493.0ZM2196.2 1604.1H2209.0V1616.3H2196.2ZM1518.6 1640.6H1531.4V1652.8H1518.6ZM1531.4 1664.9H1544.1V1677.1H1531.4ZM2157.9 1677.1H2170.7V1689.2H2157.9ZM1608.1 1750.0H1620.9V1762.2H1608.1ZM2042.8 1774.3H2055.6V1786.5H2042.8Z"/><path fill="#3c0000" d="M1748.7 1166.4H1761.5V1178.6H1748.7ZM1953.3 1166.4H1978.9V1178.6H1953.3ZM1710.4 1178.6H1723.1V1190.7H1710.4ZM2004.4 1178.6H2017.2V1190.7H2004.4ZM1672.0 1190.7H1684.8V1202.9H1672.0ZM2030.0 1190.7H2042.8V1202.9H2030.0ZM1646.4 1202.9H1659.2V1215.0H1646.4ZM2055.6 1202.9H2068.4V1215.0H2055.6ZM1620.9 1215.0H1633.6V1227.2H1620.9ZM1595.3 1239.4H1608.1V1251.5H1595.3ZM2106.7 1239.4H2119.5V1251.5H2106.7ZM2119.5 1251.5H2132.3V1263.7H2119.5ZM1569.7 1263.7H1582.5V1275.8H1569.7ZM1544.1 1300.1H1556.9V1312.3H1544.1ZM1531.4 1312.3H1544.1V1324.5H1531.4ZM2170.7 1312.3H2183.4V1324.5H2170.7ZM1518.6 1336.6H1531.4V1348.8H1518.6ZM2183.4 1336.6H2196.2V1348.8H2183.4ZM1493.0 1409.6H1505.8V1421.7H1493.0ZM2209.0 1421.7H2221.8V1433.9H2209.0ZM2209.0 1543.3H2221.8V1555.5H2209.0ZM1493.0 1555.5H1505.8V1567.6H1493.0ZM2209.0 1555.5H2221.8V1567.6H2209.0ZM2196.2 1592.0H2209.0V1604.1H2196.2ZM1505.8 1604.1H1518.6V1616.3H1505.8ZM1531.4 1652.8H1544.1V1664.9H1531.4ZM2170.7 1652.8H2183.4V1664.9H2170.7ZM1544.1 1677.1H1556.9V1689.2H1544.1ZM2145.1 1689.2H2157.9V1701.4H2145.1ZM2106.7 1725.7H2119.5V1737.9H2106.7ZM1608.1 1737.9H1620.9V1750.0H1608.1ZM1620.9 1750.0H1633.6V1762.2H1620.9ZM2081.2 1750.0H2093.9V1762.2H2081.2ZM1633.6 1762.2H1659.2V1774.3H1633.6Z"/><path fill="#480000" d="M1761.5 1166.4H1774.3V1178.6H1761.5ZM1940.5 1166.4H1953.3V1178.6H1940.5ZM1991.7 1178.6H2004.4V1190.7H1991.7ZM1659.2 1202.9H1672.0V1215.0H1659.2ZM2042.8 1202.9H2055.6V1215.0H2042.8ZM2132.3 1263.7H2145.1V1275.8H2132.3ZM2157.9 1300.1H2170.7V1312.3H2157.9ZM1505.8 1373.1H1518.6V1385.3H1505.8ZM2196.2 1373.1H2209.0V1385.3H2196.2ZM1493.0 1421.7H1505.8V1433.9H1493.0ZM2209.0 1446.1H2221.8V1458.2H2209.0ZM2209.0 1458.2H2221.8V1470.4H2209.0ZM2183.4 1628.4H2196.2V1640.6H2183.4ZM1556.9 1689.2H1569.7V1701.4H1556.9ZM2132.3 1701.4H2145.1V1713.5H2132.3ZM1582.5 1713.5H1595.3V1725.7H1582.5ZM2093.9 1737.9H2106.7V1750.0H2093.9ZM2055.6 1762.2H2068.4V1774.3H2055.6ZM1672.0 1774.3H1684.8V1786.5H1672.0ZM2030.0 1774.3H2042.8V1786.5H2030.0Z"/><path fill="#540000" d="M1774.3 1166.4H1825.4V1178.6H1774.3ZM1851.0 1166.4H1863.8V1178.6H1851.0ZM1876.6 1166.4H1940.5V1178.6H1876.6ZM1723.1 1178.6H1748.7V1190.7H1723.1ZM1684.8 1190.7H1697.6V1202.9H1684.8ZM2017.2 1190.7H2030.0V1202.9H2017.2ZM1633.6 1215.0H1646.4V1227.2H1633.6ZM2068.4 1215.0H2081.2V1227.2H2068.4ZM1620.9 1227.2H1633.6V1239.4H1620.9ZM2081.2 1227.2H2093.9V1239.4H2081.2ZM1582.5 1251.5H1595.3V1263.7H1582.5ZM2170.7 1324.5H2183.4V1336.6H2170.7ZM2196.2 1385.3H2209.0V1397.4H2196.2ZM1493.0 1433.9H1505.8V1446.1H1493.0ZM2209.0 1433.9H2221.8V1446.1H2209.0ZM1493.0 1458.2H1505.8V1470.4H1493.0ZM2209.0 1494.7H2221.8V1506.8H2209.0ZM1493.0 1506.8H1505.8V1519.0H1493.0ZM2209.0 1506.8H2221.8V1519.0H2209.0ZM1493.0 1519.0H1505.8V1531.2H1493.0ZM2209.0 1519.0H2221.8V1531.2H2209.0ZM2209.0 1531.2H2221.8V1543.3H2209.0ZM1493.0 1543.3H1505.8V1555.5H1493.0ZM1505.8 1592.0H1518.6V1604.1H1505.8ZM1518.6 1628.4H1531.4V1640.6H1518.6ZM1569.7 1701.4H1582.5V1713.5H1569.7ZM2119.5 1713.5H2132.3V1725.7H2119.5ZM1595.3 1725.7H1608.1V1737.9H1595.3ZM2068.4 1750.0H2081.2V1762.2H2068.4ZM1659.2 1762.2H1672.0V1774.3H1659.2ZM2017.2 1774.3H2030.0V1786.5H2017.2Z"/><path fill="#600000" d="M1838.2 1166.4H1851.0V1178.6H1838.2ZM1863.8 1166.4H1876.6V1178.6H1863.8ZM1966.1 1178.6H1991.7V1190.7H1966.1ZM1697.6 1190.7H1710.4V1202.9H1697.6ZM2004.4 1190.7H2017.2V1202.9H2004.4ZM2055.6 1215.0H2068.4V1227.2H2055.6ZM2093.9 1239.4H2106.7V1251.5H2093.9ZM1556.9 1288.0H1569.7V1300.1H1556.9ZM2145.1 1288.0H2157.9V1300.1H2145.1ZM1531.4 1324.5H1544.1V1336.6H1531.4ZM1518.6 1348.8H1531.4V1360.9H1518.6ZM2183.4 1348.8H2196.2V1360.9H2183.4ZM1505.8 1385.3H1518.6V1397.4H1505.8ZM1493.0 1446.1H1505.8V1458.2H1493.0ZM1493.0 1470.4H1505.8V1482.5H1493.0ZM2209.0 1470.4H2221.8V1482.5H2209.0ZM1493.0 1482.5H1505.8V1494.7H1493.0ZM2209.0 1482.5H2221.8V1494.7H2209.0ZM1493.0 1494.7H1505.8V1506.8H1493.0ZM1493.0 1531.2H1505.8V1543.3H1493.0ZM1505.8 1579.8H1518.6V1592.0H1505.8ZM2196.2 1579.8H2209.0V1592.0H2196.2ZM1518.6 1616.3H1531.4V1628.4H1518.6ZM2183.4 1616.3H2196.2V1628.4H2183.4ZM1531.4 1640.6H1544.1V1652.8H1531.4ZM2170.7 1640.6H2183.4V1652.8H2170.7ZM1544.1 1664.9H1556.9V1677.1H1544.1ZM2157.9 1664.9H2170.7V1677.1H2157.9ZM2081.2 1737.9H2093.9V1750.0H2081.2ZM1633.6 1750.0H1646.4V1762.2H1633.6ZM2042.8 1762.2H2055.6V1774.3H2042.8ZM1684.8 1774.3H1697.6V1786.5H1684.8Z"/><path fill="#6c0000" d="M1825.4 1166.4H1838.2V1178.6H1825.4ZM1748.7 1178.6H1761.5V1190.7H1748.7ZM1774.3 1178.6H1787.1V1190.7H1774.3ZM1940.5 1178.6H1966.1V1190.7H1940.5ZM1710.4 1190.7H1723.1V1202.9H1710.4ZM1991.7 1190.7H2004.4V1202.9H1991.7ZM2030.0 1202.9H2042.8V1215.0H2030.0ZM1646.4 1215.0H1659.2V1227.2H1646.4ZM1608.1 1239.4H1620.9V1251.5H1608.1ZM1595.3 1251.5H1608.1V1263.7H1595.3ZM2106.7 1251.5H2119.5V1263.7H2106.7ZM1582.5 1263.7H1595.3V1275.8H1582.5ZM2119.5 1263.7H2132.3V1275.8H2119.5ZM1569.7 1275.8H1582.5V1288.0H1569.7ZM2132.3 1275.8H2145.1V1288.0H2132.3ZM1505.8 1397.4H1518.6V1409.6H1505.8ZM2196.2 1397.4H2209.0V1409.6H2196.2ZM2196.2 1567.6H2209.0V1579.8H2196.2ZM1556.9 1677.1H1569.7V1689.2H1556.9ZM2145.1 1677.1H2157.9V1689.2H2145.1ZM1569.7 1689.2H1582.5V1701.4H1569.7ZM2132.3 1689.2H2145.1V1701.4H2132.3ZM2093.9 1725.7H2106.7V1737.9H2093.9ZM1620.9 1737.9H1633.6V1750.0H1620.9ZM1646.4 1750.0H1659.2V1762.2H1646.4ZM1672.0 1762.2H1684.8V1774.3H1672.0ZM1697.6 1774.3H1710.4V1786.5H1697.6ZM2004.4 1774.3H2017.2V1786.5H2004.4Z"/><path fill="#780000" d="M1761.5 1178.6H1774.3V1190.7H1761.5ZM1914.9 1178.6H1940.5V1190.7H1914.9ZM1978.9 1190.7H1991.7V1202.9H1978.9ZM1672.0 1202.9H1684.8V1215.0H1672.0ZM1633.6 1227.2H1646.4V1239.4H1633.6ZM2068.4 1227.2H2081.2V1239.4H2068.4ZM1544.1 1312.3H1556.9V1324.5H1544.1ZM2157.9 1312.3H2170.7V1324.5H2157.9ZM2183.4 1360.9H2196.2V1373.1H2183.4ZM2196.2 1555.5H2209.0V1567.6H2196.2ZM1505.8 1567.6H1518.6V1579.8H1505.8ZM2183.4 1604.1H2196.2V1616.3H2183.4ZM2119.5 1701.4H2132.3V1713.5H2119.5ZM1595.3 1713.5H1608.1V1725.7H1595.3ZM2106.7 1713.5H2119.5V1725.7H2106.7ZM1608.1 1725.7H1620.9V1737.9H1608.1ZM2055.6 1750.0H2068.4V1762.2H2055.6ZM2030.0 1762.2H2042.8V1774.3H2030.0ZM1710.4 1774.3H1723.1V1786.5H1710.4ZM1991.7 1774.3H2004.4V1786.5H1991.7Z"/><path fill="#840000" d="M1787.1 1178.6H1825.4V1190.7H1787.1ZM1838.2 1178.6H1851.0V1190.7H1838.2ZM1889.4 1178.6H1902.2V1190.7H1889.4ZM1723.1 1190.7H1748.7V1202.9H1723.1ZM1966.1 1190.7H1978.9V1202.9H1966.1ZM1684.8 1202.9H1697.6V1215.0H1684.8ZM2017.2 1202.9H2030.0V1215.0H2017.2ZM1659.2 1215.0H1672.0V1227.2H1659.2ZM2042.8 1215.0H2055.6V1227.2H2042.8ZM1531.4 1336.6H1544.1V1348.8H1531.4ZM2170.7 1336.6H2183.4V1348.8H2170.7ZM1518.6 1360.9H1531.4V1373.1H1518.6ZM2196.2 1409.6H2209.0V1421.7H2196.2ZM1505.8 1555.5H1518.6V1567.6H1505.8ZM2157.9 1652.8H2170.7V1664.9H2157.9ZM1582.5 1701.4H1595.3V1713.5H1582.5ZM1633.6 1737.9H1646.4V1750.0H1633.6ZM1723.1 1774.3H1735.9V1786.5H1723.1Z"/><path fill="#900000" d="M1825.4 1178.6H1838.2V1190.7H1825.4ZM1851.0 1178.6H1889.4V1190.7H1851.0ZM1902.2 1178.6H1914.9V1190.7H1902.2ZM1748.7 1190.7H1761.5V1202.9H1748.7ZM1697.6 1202.9H1710.4V1215.0H1697.6ZM2004.4 1202.9H2017.2V1215.0H2004.4ZM2081.2 1239.4H2093.9V1251.5H2081.2ZM1556.9 1300.1H1569.7V1312.3H1556.9ZM2145.1 1300.1H2157.9V1312.3H2145.1ZM2183.4 1373.1H2196.2V1385.3H2183.4ZM1505.8 1409.6H1518.6V1421.7H1505.8ZM1505.8 1421.7H1518.6V1433.9H1505.8ZM2196.2 1421.7H2209.0V1433.9H2196.2ZM2196.2 1543.3H2209.0V1555.5H2196.2ZM1518.6 1604.1H1531.4V1616.3H1518.6ZM1531.4 1628.4H1544.1V1640.6H1531.4ZM2170.7 1628.4H2183.4V1640.6H2170.7ZM1544.1 1652.8H1556.9V1664.9H1544.1ZM2068.4 1737.9H2081.2V1750.0H2068.4ZM2042.8 1750.0H2055.6V1762.2H2042.8ZM2017.2 1762.2H2030.0V1774.3H2017.2ZM1953.3 1774.3H1966.1V1786.5H1953.3ZM1978.9 1774.3H1991.7V1786.5H1978.9Z"/><path fill="#9c0000" d="M1761.5 1190.7H1774.3V1202.9H1761.5ZM1953.3 1190.7H1966.1V1202.9H1953.3ZM1672.0 1215.0H1684.8V1227.2H1672.0ZM1646.4 1227.2H1659.2V1239.4H1646.4ZM2055.6 1227.2H2068.4V1239.4H2055.6ZM1620.9 1239.4H1633.6V1251.5H1620.9ZM1608.1 1251.5H1620.9V1263.7H1608.1ZM1518.6 1373.1H1531.4V1385.3H1518.6ZM2196.2 1433.9H2209.0V1446.1H2196.2ZM2196.2 1446.1H2209.0V1458.2H2196.2ZM2196.2 1519.0H2209.0V1531.2H2196.2ZM1505.8 1543.3H1518.6V1555.5H1505.8ZM1518.6 1592.0H1531.4V1604.1H1518.6ZM2183.4 1592.0H2196.2V1604.1H2183.4ZM1620.9 1725.7H1633.6V1737.9H1620.9ZM2081.2 1725.7H2093.9V1737.9H2081.2ZM1659.2 1750.0H1672.0V1762.2H1659.2ZM2030.0 1750.0H2042.8V1762.2H2030.0ZM1684.8 1762.2H1697.6V1774.3H1684.8ZM1735.9 1774.3H1748.7V1786.5H1735.9Z"/><path fill="#a80000" d="M1991.7 1202.9H2004.4V1215.0H1991.7ZM2030.0 1215.0H2042.8V1227.2H2030.0ZM2093.9 1251.5H2106.7V1263.7H2093.9ZM2106.7 1263.7H2119.5V1275.8H2106.7ZM2119.5 1275.8H2132.3V1288.0H2119.5ZM2132.3 1288.0H2145.1V1300.1H2132.3ZM2157.9 1324.5H2170.7V1336.6H2157.9ZM1518.6 1385.3H1531.4V1397.4H1518.6ZM1505.8 1433.9H1518.6V1446.1H1505.8ZM1505.8 1446.1H1518.6V1458.2H1505.8ZM2196.2 1458.2H2209.0V1470.4H2196.2ZM1505.8 1470.4H1518.6V1482.5H1505.8ZM2196.2 1470.4H2209.0V1482.5H2196.2ZM2196.2 1494.7H2209.0V1506.8H2196.2ZM2196.2 1506.8H2209.0V1519.0H2196.2ZM1505.8 1531.2H1518.6V1543.3H1505.8ZM2196.2 1531.2H2209.0V1543.3H2196.2ZM1556.9 1664.9H1569.7V1677.1H1556.9ZM2145.1 1664.9H2157.9V1677.1H2145.1ZM1569.7 1677.1H1582.5V1689.2H1569.7ZM1608.1 1713.5H1620.9V1725.7H1608.1ZM2093.9 1713.5H2106.7V1725.7H2093.9ZM1697.6 1762.2H1710.4V1774.3H1697.6ZM2004.4 1762.2H2017.2V1774.3H2004.4ZM1966.1 1774.3H1978.9V1786.5H1966.1Z"/><path fill="#b40000" d="M1774.3 1190.7H1812.6V1202.9H1774.3ZM1914.9 1190.7H1953.3V1202.9H1914.9ZM1710.4 1202.9H1723.1V1215.0H1710.4ZM2017.2 1215.0H2030.0V1227.2H2017.2ZM1633.6 1239.4H1646.4V1251.5H1633.6ZM1595.3 1263.7H1608.1V1275.8H1595.3ZM1582.5 1275.8H1595.3V1288.0H1582.5ZM1569.7 1288.0H1582.5V1300.1H1569.7ZM1544.1 1324.5H1556.9V1336.6H1544.1ZM1531.4 1348.8H1544.1V1360.9H1531.4ZM2170.7 1348.8H2183.4V1360.9H2170.7ZM2183.4 1385.3H2196.2V1397.4H2183.4ZM1505.8 1458.2H1518.6V1470.4H1505.8ZM2196.2 1482.5H2209.0V1494.7H2196.2ZM1505.8 1494.7H1518.6V1506.8H1505.8ZM1505.8 1506.8H1518.6V1519.0H1505.8ZM1505.8 1519.0H1518.6V1531.2H1505.8ZM2157.9 1640.6H2170.7V1652.8H2157.9ZM2132.3 1677.1H2145.1V1689.2H2132.3ZM1646.4 1737.9H1659.2V1750.0H1646.4ZM2055.6 1737.9H2068.4V1750.0H2055.6ZM1672.0 1750.0H1684.8V1762.2H1672.0ZM1710.4 1762.2H1723.1V1774.3H1710.4ZM1991.7 1762.2H2004.4V1774.3H1991.7ZM1748.7 1774.3H1761.5V1786.5H1748.7ZM1927.7 1774.3H1953.3V1786.5H1927.7Z"/><path fill="#c00000" d="M1812.6 1190.7H1825.4V1202.9H1812.6ZM1838.2 1190.7H1863.8V1202.9H1838.2ZM1876.6 1190.7H1914.9V1202.9H1876.6ZM1723.1 1202.9H1735.9V1215.0H1723.1ZM1978.9 1202.9H1991.7V1215.0H1978.9ZM1684.8 1215.0H1697.6V1227.2H1684.8ZM1659.2 1227.2H1672.0V1239.4H1659.2ZM2068.4 1239.4H2081.2V1251.5H2068.4ZM1505.8 1482.5H1518.6V1494.7H1505.8ZM1518.6 1579.8H1531.4V1592.0H1518.6ZM2183.4 1579.8H2196.2V1592.0H2183.4ZM1531.4 1616.3H1544.1V1628.4H1531.4ZM2170.7 1616.3H2183.4V1628.4H2170.7ZM1544.1 1640.6H1556.9V1652.8H1544.1ZM1582.5 1689.2H1595.3V1701.4H1582.5ZM2119.5 1689.2H2132.3V1701.4H2119.5ZM1595.3 1701.4H1608.1V1713.5H1595.3ZM2106.7 1701.4H2119.5V1713.5H2106.7ZM1761.5 1774.3H1812.6V1786.5H1761.5ZM1889.4 1774.3H1902.2V1786.5H1889.4Z"/><path fill="#cc0000" d="M1825.4 1190.7H1838.2V1202.9H1825.4ZM1863.8 1190.7H1876.6V1202.9H1863.8ZM1735.9 1202.9H1748.7V1215.0H1735.9ZM1966.1 1202.9H1978.9V1215.0H1966.1ZM2042.8 1227.2H2055.6V1239.4H2042.8ZM2183.4 1397.4H2196.2V1409.6H2183.4ZM1633.6 1725.7H1646.4V1737.9H1633.6ZM2068.4 1725.7H2081.2V1737.9H2068.4ZM1684.8 1750.0H1697.6V1762.2H1684.8ZM2017.2 1750.0H2030.0V1762.2H2017.2ZM1723.1 1762.2H1735.9V1774.3H1723.1ZM1978.9 1762.2H1991.7V1774.3H1978.9ZM1838.2 1774.3H1851.0V1786.5H1838.2ZM1876.6 1774.3H1889.4V1786.5H1876.6ZM1902.2 1774.3H1927.7V1786.5H1902.2Z"/><path fill="#d80000" d="M1748.7 1202.9H1761.5V1215.0H1748.7ZM1953.3 1202.9H1966.1V1215.0H1953.3ZM2004.4 1215.0H2017.2V1227.2H2004.4ZM1620.9 1251.5H1633.6V1263.7H1620.9ZM2081.2 1251.5H2093.9V1263.7H2081.2ZM2093.9 1263.7H2106.7V1275.8H2093.9ZM1556.9 1312.3H1569.7V1324.5H1556.9ZM2145.1 1312.3H2157.9V1324.5H2145.1ZM1531.4 1360.9H1544.1V1373.1H1531.4ZM1518.6 1397.4H1531.4V1409.6H1518.6ZM1518.6 1567.6H1531.4V1579.8H1518.6ZM2183.4 1567.6H2196.2V1579.8H2183.4ZM1659.2 1737.9H1672.0V1750.0H1659.2ZM2042.8 1737.9H2055.6V1750.0H2042.8ZM1735.9 1762.2H1748.7V1774.3H1735.9ZM1966.1 1762.2H1978.9V1774.3H1966.1ZM1812.6 1774.3H1838.2V1786.5H1812.6ZM1851.0 1774.3H1876.6V1786.5H1851.0Z"/><path fill="#e40000" d="M1761.5 1202.9H1774.3V1215.0H1761.5ZM1697.6 1215.0H1710.4V1227.2H1697.6ZM1646.4 1239.4H1659.2V1251.5H1646.4ZM2055.6 1239.4H2068.4V1251.5H2055.6ZM1608.1 1263.7H1620.9V1275.8H1608.1ZM2132.3 1300.1H2145.1V1312.3H2132.3ZM2157.9 1336.6H2170.7V1348.8H2157.9ZM2170.7 1360.9H2183.4V1373.1H2170.7ZM1851.0 1373.1H1863.8V1385.3H1851.0ZM1851.0 1385.3H1863.8V1397.4H1851.0ZM1851.0 1397.4H1863.8V1409.6H1851.0ZM1710.4 1409.6H1723.1V1421.7H1710.4ZM2183.4 1409.6H2196.2V1421.7H2183.4ZM1710.4 1421.7H1723.1V1433.9H1710.4ZM1761.5 1421.7H1774.3V1433.9H1761.5ZM1723.1 1433.9H1735.9V1446.1H1723.1ZM1761.5 1433.9H1774.3V1446.1H1761.5ZM1723.1 1446.1H1735.9V1458.2H1723.1ZM1761.5 1446.1H1774.3V1458.2H1761.5ZM1748.7 1458.2H1761.5V1470.4H1748.7ZM1825.4 1458.2H1838.2V1470.4H1825.4ZM1748.7 1470.4H1761.5V1482.5H1748.7ZM1825.4 1470.4H1838.2V1482.5H1825.4ZM1748.7 1482.5H1761.5V1494.7H1748.7ZM1825.4 1482.5H1838.2V1494.7H1825.4ZM1876.6 1482.5H1889.4V1494.7H1876.6ZM1748.7 1494.7H1761.5V1506.8H1748.7ZM1812.6 1494.7H1838.2V1506.8H1812.6ZM1812.6 1506.8H1825.4V1519.0H1812.6ZM1735.9 1519.0H1748.7V1531.2H1735.9ZM1812.6 1519.0H1825.4V1531.2H1812.6ZM1735.9 1531.2H1748.7V1543.3H1735.9ZM1735.9 1543.3H1748.7V1555.5H1735.9ZM1812.6 1543.3H1825.4V1555.5H1812.6ZM1812.6 1555.5H1825.4V1567.6H1812.6ZM2183.4 1555.5H2196.2V1567.6H2183.4ZM1902.2 1567.6H1914.9V1579.8H1902.2ZM1838.2 1579.8H1851.0V1592.0H1838.2ZM1902.2 1579.8H1914.9V1592.0H1902.2ZM1838.2 1592.0H1851.0V1604.1H1838.2ZM2170.7 1604.1H2183.4V1616.3H2170.7ZM1710.4 1616.3H1723.1V1628.4H1710.4ZM1710.4 1628.4H1723.1V1640.6H1710.4ZM1710.4 1640.6H1723.1V1652.8H1710.4ZM1556.9 1652.8H1569.7V1664.9H1556.9ZM2145.1 1652.8H2157.9V1664.9H2145.1ZM2081.2 1713.5H2093.9V1725.7H2081.2ZM1697.6 1750.0H1710.4V1762.2H1697.6ZM2004.4 1750.0H2017.2V1762.2H2004.4ZM1748.7 1762.2H1761.5V1774.3H1748.7ZM1953.3 1762.2H1966.1V1774.3H1953.3Z"/><path fill="#f00000" d="M1774.3 1202.9H1787.1V1215.0H1774.3ZM1940.5 1202.9H1953.3V1215.0H1940.5ZM1672.0 1227.2H1684.8V1239.4H1672.0ZM2030.0 1227.2H2042.8V1239.4H2030.0ZM1569.7 1300.1H1582.5V1312.3H1569.7ZM1544.1 1336.6H1556.9V1348.8H1544.1ZM1710.4 1385.3H1723.1V1397.4H1710.4ZM1825.4 1385.3H1838.2V1397.4H1825.4ZM1812.6 1397.4H1838.2V1409.6H1812.6ZM1518.6 1409.6H1531.4V1421.7H1518.6ZM1812.6 1409.6H1825.4V1421.7H1812.6ZM1838.2 1421.7H1851.0V1433.9H1838.2ZM1838.2 1433.9H1851.0V1446.1H1838.2ZM1838.2 1446.1H1851.0V1458.2H1838.2ZM1863.8 1446.1H1876.6V1458.2H1863.8ZM1761.5 1458.2H1774.3V1470.4H1761.5ZM1838.2 1458.2H1851.0V1470.4H1838.2ZM1863.8 1458.2H1876.6V1470.4H1863.8ZM1812.6 1470.4H1825.4V1482.5H1812.6ZM1863.8 1470.4H1876.6V1482.5H1863.8ZM1812.6 1482.5H1825.4V1494.7H1812.6ZM1697.6 1494.7H1723.1V1506.8H1697.6ZM1863.8 1494.7H1876.6V1506.8H1863.8ZM1902.2 1494.7H1914.9V1506.8H1902.2ZM1697.6 1506.8H1710.4V1519.0H1697.6ZM1735.9 1506.8H1748.7V1519.0H1735.9ZM1863.8 1506.8H1876.6V1519.0H1863.8ZM1697.6 1519.0H1710.4V1531.2H1697.6ZM1851.0 1519.0H1876.6V1531.2H1851.0ZM1697.6 1531.2H1710.4V1543.3H1697.6ZM1812.6 1531.2H1825.4V1543.3H1812.6ZM1851.0 1531.2H1863.8V1543.3H1851.0ZM1697.6 1543.3H1710.4V1555.5H1697.6ZM1851.0 1543.3H1863.8V1555.5H1851.0ZM1518.6 1555.5H1531.4V1567.6H1518.6ZM1735.9 1555.5H1748.7V1567.6H1735.9ZM1851.0 1555.5H1863.8V1567.6H1851.0ZM1902.2 1555.5H1914.9V1567.6H1902.2ZM1735.9 1567.6H1748.7V1579.8H1735.9ZM1761.5 1567.6H1774.3V1579.8H1761.5ZM1799.9 1567.6H1812.6V1579.8H1799.9ZM1825.4 1567.6H1838.2V1579.8H1825.4ZM1876.6 1567.6H1889.4V1579.8H1876.6ZM1761.5 1579.8H1774.3V1592.0H1761.5ZM1799.9 1579.8H1812.6V1592.0H1799.9ZM1825.4 1579.8H1838.2V1592.0H1825.4ZM1876.6 1579.8H1889.4V1592.0H1876.6ZM1697.6 1592.0H1710.4V1604.1H1697.6ZM1761.5 1592.0H1774.3V1604.1H1761.5ZM1799.9 1592.0H1812.6V1604.1H1799.9ZM1825.4 1592.0H1838.2V1604.1H1825.4ZM1851.0 1592.0H1863.8V1604.1H1851.0ZM1876.6 1592.0H1889.4V1604.1H1876.6ZM1531.4 1604.1H1544.1V1616.3H1531.4ZM1697.6 1604.1H1710.4V1616.3H1697.6ZM1761.5 1604.1H1774.3V1616.3H1761.5ZM1799.9 1604.1H1812.6V1616.3H1799.9ZM1825.4 1604.1H1838.2V1616.3H1825.4ZM1876.6 1604.1H1889.4V1616.3H1876.6ZM1697.6 1616.3H1710.4V1628.4H1697.6ZM2157.9 1628.4H2170.7V1640.6H2157.9ZM2132.3 1664.9H2145.1V1677.1H2132.3ZM1620.9 1713.5H1633.6V1725.7H1620.9Z"/></g><rect x="2204" y="1166.4" width="17.8" height="620.1" fill="#000"/><line x1="2223.0" y1="1166.4" x2="2223.0" y2="1786.5" stroke="#8a8a8a" stroke-width="2" /><line x1="1493.0" y1="1165.6" x2="2223.8" y2="1165.6" stroke="#dddddd" stroke-width="1.6" /><defs><linearGradient id="cbar" x1="0" y1="0" x2="0" y2="1"><stop offset="0" stop-color="#8a0000"/><stop offset="0.02" stop-color="#ff0000"/><stop offset="0.45" stop-color="#c00000"/><stop offset="0.8" stop-color="#5a0000"/><stop offset="0.93" stop-color="#000"/><stop offset="1" stop-color="#000"/></linearGradient></defs><rect x="2229.7" y="1173" width="5.4" height="594.3" fill="url(#cbar)"/><line x1="2236.7" y1="1175.0" x2="2236.7" y2="1766.0" stroke="#444" stroke-width="1.8" /><line x1="2236.7" y1="1763.0" x2="2243.2" y2="1763.0" stroke="#777" stroke-width="1.6" /><line x1="2236.7" y1="1751.3" x2="2240.2" y2="1751.3" stroke="#555" stroke-width="1.5" /><line x1="2236.7" y1="1739.5" x2="2240.2" y2="1739.5" stroke="#555" stroke-width="1.5" /><line x1="2236.7" y1="1727.8" x2="2240.2" y2="1727.8" stroke="#555" stroke-width="1.5" /><line x1="2236.7" y1="1716.1" x2="2240.2" y2="1716.1" stroke="#555" stroke-width="1.5" /><line x1="2236.7" y1="1704.3" x2="2240.2" y2="1704.3" stroke="#555" stroke-width="1.5" /><line x1="2236.7" y1="1692.6" x2="2240.2" y2="1692.6" stroke="#555" stroke-width="1.5" /><line x1="2236.7" y1="1680.9" x2="2240.2" y2="1680.9" stroke="#555" stroke-width="1.5" /><line x1="2236.7" y1="1669.2" x2="2240.2" y2="1669.2" stroke="#555" stroke-width="1.5" /><line x1="2236.7" y1="1657.4" x2="2240.2" y2="1657.4" stroke="#555" stroke-width="1.5" /><line x1="2236.7" y1="1645.7" x2="2243.2" y2="1645.7" stroke="#777" stroke-width="1.6" /><line x1="2236.7" y1="1634.0" x2="2240.2" y2="1634.0" stroke="#555" stroke-width="1.5" /><line x1="2236.7" y1="1622.2" x2="2240.2" y2="1622.2" stroke="#555" stroke-width="1.5" /><line x1="2236.7" y1="1610.5" x2="2240.2" y2="1610.5" stroke="#555" stroke-width="1.5" /><line x1="2236.7" y1="1598.8" x2="2240.2" y2="1598.8" stroke="#555" stroke-width="1.5" /><line x1="2236.7" y1="1587.0" x2="2240.2" y2="1587.0" stroke="#555" stroke-width="1.5" /><line x1="2236.7" y1="1575.3" x2="2240.2" y2="1575.3" stroke="#555" stroke-width="1.5" /><line x1="2236.7" y1="1563.6" x2="2240.2" y2="1563.6" stroke="#555" stroke-width="1.5" /><line x1="2236.7" y1="1551.9" x2="2240.2" y2="1551.9" stroke="#555" stroke-width="1.5" /><line x1="2236.7" y1="1540.1" x2="2240.2" y2="1540.1" stroke="#555" stroke-width="1.5" /><line x1="2236.7" y1="1528.4" x2="2243.2" y2="1528.4" stroke="#777" stroke-width="1.6" /><line x1="2236.7" y1="1516.7" x2="2240.2" y2="1516.7" stroke="#555" stroke-width="1.5" /><line x1="2236.7" y1="1504.9" x2="2240.2" y2="1504.9" stroke="#555" stroke-width="1.5" /><line x1="2236.7" y1="1493.2" x2="2240.2" y2="1493.2" stroke="#555" stroke-width="1.5" /><line x1="2236.7" y1="1481.5" x2="2240.2" y2="1481.5" stroke="#555" stroke-width="1.5" /><line x1="2236.7" y1="1469.8" x2="2240.2" y2="1469.8" stroke="#555" stroke-width="1.5" /><line x1="2236.7" y1="1458.0" x2="2240.2" y2="1458.0" stroke="#555" stroke-width="1.5" /><line x1="2236.7" y1="1446.3" x2="2240.2" y2="1446.3" stroke="#555" stroke-width="1.5" /><line x1="2236.7" y1="1434.6" x2="2240.2" y2="1434.6" stroke="#555" stroke-width="1.5" /><line x1="2236.7" y1="1422.8" x2="2240.2" y2="1422.8" stroke="#555" stroke-width="1.5" /><line x1="2236.7" y1="1411.1" x2="2243.2" y2="1411.1" stroke="#777" stroke-width="1.6" /><line x1="2236.7" y1="1399.4" x2="2240.2" y2="1399.4" stroke="#555" stroke-width="1.5" /><line x1="2236.7" y1="1387.6" x2="2240.2" y2="1387.6" stroke="#555" stroke-width="1.5" /><line x1="2236.7" y1="1375.9" x2="2240.2" y2="1375.9" stroke="#555" stroke-width="1.5" /><line x1="2236.7" y1="1364.2" x2="2240.2" y2="1364.2" stroke="#555" stroke-width="1.5" /><line x1="2236.7" y1="1352.5" x2="2240.2" y2="1352.5" stroke="#555" stroke-width="1.5" /><line x1="2236.7" y1="1340.7" x2="2240.2" y2="1340.7" stroke="#555" stroke-width="1.5" /><line x1="2236.7" y1="1329.0" x2="2240.2" y2="1329.0" stroke="#555" stroke-width="1.5" /><line x1="2236.7" y1="1317.3" x2="2240.2" y2="1317.3" stroke="#555" stroke-width="1.5" /><line x1="2236.7" y1="1305.5" x2="2240.2" y2="1305.5" stroke="#555" stroke-width="1.5" /><line x1="2236.7" y1="1293.8" x2="2243.2" y2="1293.8" stroke="#777" stroke-width="1.6" /><line x1="2236.7" y1="1282.1" x2="2240.2" y2="1282.1" stroke="#555" stroke-width="1.5" /><line x1="2236.7" y1="1270.3" x2="2240.2" y2="1270.3" stroke="#555" stroke-width="1.5" /><line x1="2236.7" y1="1258.6" x2="2240.2" y2="1258.6" stroke="#555" stroke-width="1.5" /><line x1="2236.7" y1="1246.9" x2="2240.2" y2="1246.9" stroke="#555" stroke-width="1.5" /><line x1="2236.7" y1="1235.2" x2="2240.2" y2="1235.2" stroke="#555" stroke-width="1.5" /><line x1="2236.7" y1="1223.4" x2="2240.2" y2="1223.4" stroke="#555" stroke-width="1.5" /><line x1="2236.7" y1="1211.7" x2="2240.2" y2="1211.7" stroke="#555" stroke-width="1.5" /><line x1="2236.7" y1="1200.0" x2="2240.2" y2="1200.0" stroke="#555" stroke-width="1.5" /><line x1="2236.7" y1="1188.2" x2="2240.2" y2="1188.2" stroke="#555" stroke-width="1.5" /><line x1="2236.7" y1="1176.5" x2="2243.2" y2="1176.5" stroke="#777" stroke-width="1.6" /><text transform="translate(2247.0,1769.6) scale(1,0.97)" font-size="50">0</text><text transform="translate(2247.0,1658.2) scale(1,0.97)" font-size="50">1000</text><text transform="translate(2247.0,1546.6) scale(1,0.97)" font-size="50">2000</text><text transform="translate(2247.0,1435.9) scale(1,0.97)" font-size="50">3000</text><text transform="translate(2247.0,1324.4) scale(1,0.97)" font-size="50">4000</text><text transform="translate(2247.0,1212.4) scale(1,0.97)" font-size="50">5000</text></g>
</svg>
</body></html>
